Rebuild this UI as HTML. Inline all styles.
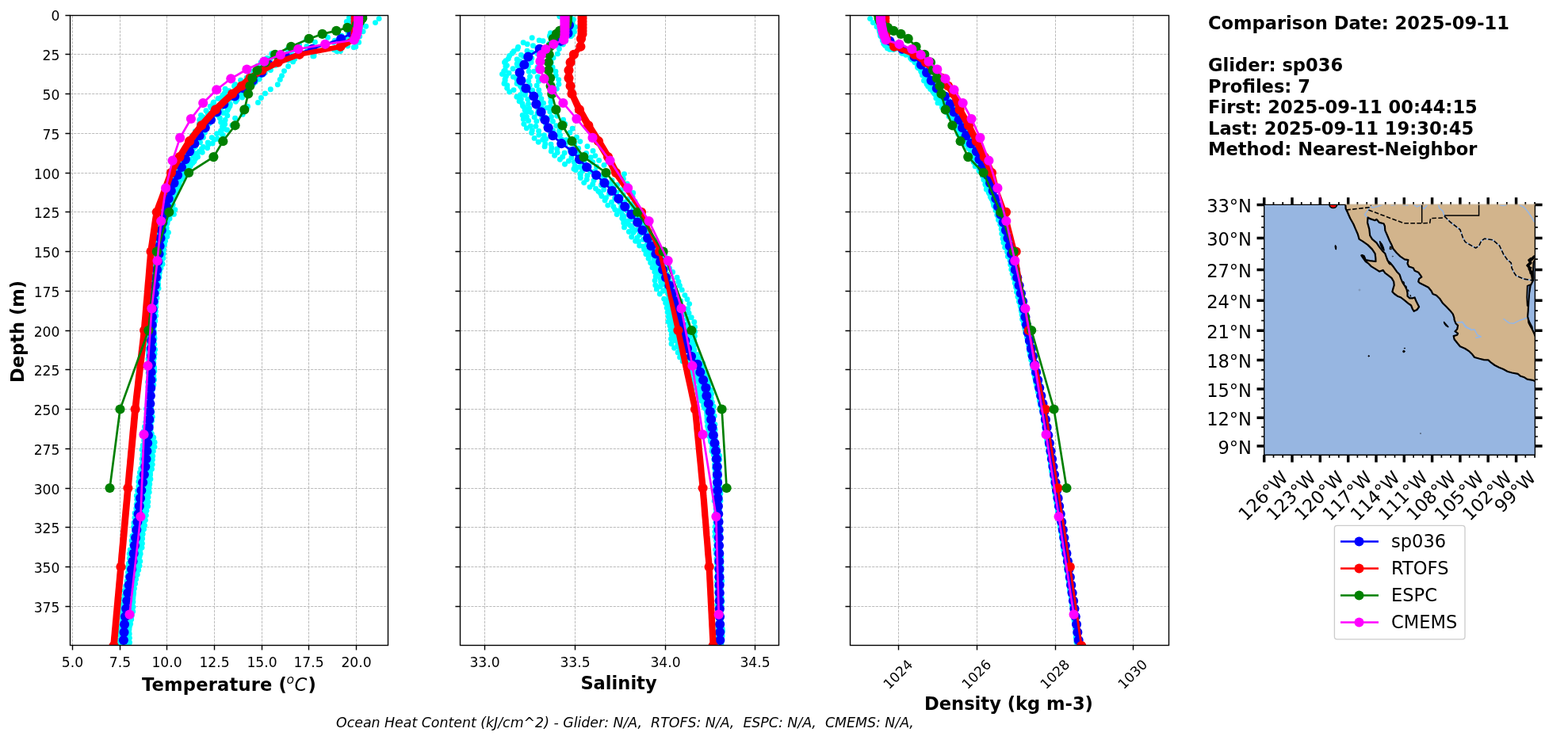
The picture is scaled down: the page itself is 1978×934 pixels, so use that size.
<!DOCTYPE html>
<html lang="en"><head><meta charset="utf-8"><title>Glider / Model Profile Comparison</title>
<style>
html,body{margin:0;padding:0;background:#fff;}
body{width:1978px;height:934px;overflow:hidden;}
svg{display:block;}
text{font-family:"DejaVu Sans","Liberation Sans",sans-serif;fill:#000;}
.tk{font-size:17.15px;}
.lb{font-size:22.57px;font-weight:bold;}
.mp{font-size:22.57px;}
.lg{font-size:22.57px;}
.it{font-size:17.36px;font-style:italic;white-space:pre;}
</style></head><body>
<svg width="1978" height="934" viewBox="0 0 1978 934">
<rect width="1978" height="934" fill="#fff"/>
<clipPath id="c0"><rect x="88.5" y="19.5" width="401.0" height="795.0"/></clipPath>
<path d="M88.5 68.5H489.5M88.5 118.5H489.5M88.5 168.5H489.5M88.5 218.5H489.5M88.5 267.5H489.5M88.5 317.5H489.5M88.5 367.5H489.5M88.5 417.5H489.5M88.5 466.5H489.5M88.5 516.5H489.5M88.5 566.5H489.5M88.5 616.5H489.5M88.5 665.5H489.5M88.5 715.5H489.5M88.5 765.5H489.5M91.5 814.5V19.5M151.5 814.5V19.5M210.5 814.5V19.5M270.5 814.5V19.5M330.5 814.5V19.5M389.5 814.5V19.5M449.5 814.5V19.5" stroke="#b0b0b0" stroke-width="0.87" stroke-dasharray="3.21 1.39" fill="none"/>
<g clip-path="url(#c0)">
<g fill="#00ffff"><circle cx="454.1" cy="20.4" r="3.47"/><circle cx="454.2" cy="26.5" r="3.47"/><circle cx="455.8" cy="31.9" r="3.47"/><circle cx="454.6" cy="37.0" r="3.47"/><circle cx="448.1" cy="42.1" r="3.47"/><circle cx="437.6" cy="48.2" r="3.47"/><circle cx="435.1" cy="53.7" r="3.47"/><circle cx="448.8" cy="58.9" r="3.47"/><circle cx="429.4" cy="64.5" r="3.47"/><circle cx="394.9" cy="70.9" r="3.47"/><circle cx="363.5" cy="76.0" r="3.47"/><circle cx="347.4" cy="82.4" r="3.47"/><circle cx="341.4" cy="88.6" r="3.47"/><circle cx="331.9" cy="94.0" r="3.47"/><circle cx="327.0" cy="100.0" r="3.47"/><circle cx="319.5" cy="105.9" r="3.47"/><circle cx="313.7" cy="111.7" r="3.47"/><circle cx="310.3" cy="117.0" r="3.47"/><circle cx="305.6" cy="123.0" r="3.47"/><circle cx="297.4" cy="128.2" r="3.47"/><circle cx="289.9" cy="134.0" r="3.47"/><circle cx="286.9" cy="139.6" r="3.47"/><circle cx="286.8" cy="145.9" r="3.47"/><circle cx="284.1" cy="151.4" r="3.47"/><circle cx="283.7" cy="156.7" r="3.47"/><circle cx="283.1" cy="162.9" r="3.47"/><circle cx="273.6" cy="168.8" r="3.47"/><circle cx="267.3" cy="173.6" r="3.47"/><circle cx="262.3" cy="179.9" r="3.47"/><circle cx="256.4" cy="185.5" r="3.47"/><circle cx="251.4" cy="191.3" r="3.47"/><circle cx="244.1" cy="197.5" r="3.47"/><circle cx="237.8" cy="202.7" r="3.47"/><circle cx="233.3" cy="208.6" r="3.47"/><circle cx="231.2" cy="214.1" r="3.47"/><circle cx="229.4" cy="219.8" r="3.47"/><circle cx="228.0" cy="225.4" r="3.47"/><circle cx="225.9" cy="231.1" r="3.47"/><circle cx="226.4" cy="236.4" r="3.47"/><circle cx="222.0" cy="241.9" r="3.47"/><circle cx="218.1" cy="247.4" r="3.47"/><circle cx="217.6" cy="253.2" r="3.47"/><circle cx="218.1" cy="258.5" r="3.47"/><circle cx="220.8" cy="264.6" r="3.47"/><circle cx="219.4" cy="270.4" r="3.47"/><circle cx="214.0" cy="275.9" r="3.47"/><circle cx="211.0" cy="281.9" r="3.47"/><circle cx="210.2" cy="287.8" r="3.47"/><circle cx="212.4" cy="293.4" r="3.47"/><circle cx="210.8" cy="298.7" r="3.47"/><circle cx="208.5" cy="304.3" r="3.47"/><circle cx="203.5" cy="310.1" r="3.47"/><circle cx="203.5" cy="315.9" r="3.47"/><circle cx="203.3" cy="321.0" r="3.47"/><circle cx="203.4" cy="327.7" r="3.47"/><circle cx="205.1" cy="333.4" r="3.47"/><circle cx="202.9" cy="338.5" r="3.47"/><circle cx="199.6" cy="344.4" r="3.47"/><circle cx="200.9" cy="350.0" r="3.47"/><circle cx="197.3" cy="354.9" r="3.47"/><circle cx="196.4" cy="361.2" r="3.47"/><circle cx="195.6" cy="366.8" r="3.47"/><circle cx="196.7" cy="372.0" r="3.47"/><circle cx="194.3" cy="377.9" r="3.47"/><circle cx="196.1" cy="383.3" r="3.47"/><circle cx="194.6" cy="389.0" r="3.47"/><circle cx="195.3" cy="394.4" r="3.47"/><circle cx="194.3" cy="400.3" r="3.47"/><circle cx="195.3" cy="405.8" r="3.47"/><circle cx="193.6" cy="411.5" r="3.47"/><circle cx="192.2" cy="417.6" r="3.47"/><circle cx="192.7" cy="423.4" r="3.47"/><circle cx="191.7" cy="429.1" r="3.47"/><circle cx="192.1" cy="434.8" r="3.47"/><circle cx="193.1" cy="440.1" r="3.47"/><circle cx="194.1" cy="446.0" r="3.47"/><circle cx="194.4" cy="451.7" r="3.47"/><circle cx="193.8" cy="457.5" r="3.47"/><circle cx="194.6" cy="463.8" r="3.47"/><circle cx="194.8" cy="468.6" r="3.47"/><circle cx="193.8" cy="474.3" r="3.47"/><circle cx="194.5" cy="479.5" r="3.47"/><circle cx="193.8" cy="485.8" r="3.47"/><circle cx="192.0" cy="492.1" r="3.47"/><circle cx="189.4" cy="496.4" r="3.47"/><circle cx="190.4" cy="502.2" r="3.47"/><circle cx="190.1" cy="508.0" r="3.47"/><circle cx="190.1" cy="514.0" r="3.47"/><circle cx="190.5" cy="519.4" r="3.47"/><circle cx="190.1" cy="525.0" r="3.47"/><circle cx="189.8" cy="530.1" r="3.47"/><circle cx="189.3" cy="536.6" r="3.47"/><circle cx="189.8" cy="541.4" r="3.47"/><circle cx="191.3" cy="547.5" r="3.47"/><circle cx="193.7" cy="552.2" r="3.47"/><circle cx="195.1" cy="558.2" r="3.47"/><circle cx="195.0" cy="564.1" r="3.47"/><circle cx="193.3" cy="569.4" r="3.47"/><circle cx="192.7" cy="575.6" r="3.47"/><circle cx="190.9" cy="581.8" r="3.47"/><circle cx="189.5" cy="588.0" r="3.47"/><circle cx="189.2" cy="593.3" r="3.47"/><circle cx="189.5" cy="599.3" r="3.47"/><circle cx="189.9" cy="604.8" r="3.47"/><circle cx="188.8" cy="610.9" r="3.47"/><circle cx="188.1" cy="615.8" r="3.47"/><circle cx="188.2" cy="621.3" r="3.47"/><circle cx="187.0" cy="627.6" r="3.47"/><circle cx="186.8" cy="633.5" r="3.47"/><circle cx="186.5" cy="639.0" r="3.47"/><circle cx="184.9" cy="644.6" r="3.47"/><circle cx="184.3" cy="650.6" r="3.47"/><circle cx="183.4" cy="656.6" r="3.47"/><circle cx="182.5" cy="663.1" r="3.47"/><circle cx="181.5" cy="668.0" r="3.47"/><circle cx="180.1" cy="674.0" r="3.47"/><circle cx="179.6" cy="679.7" r="3.47"/><circle cx="179.4" cy="685.9" r="3.47"/><circle cx="179.0" cy="691.2" r="3.47"/><circle cx="175.9" cy="697.0" r="3.47"/><circle cx="175.9" cy="702.1" r="3.47"/><circle cx="176.8" cy="708.5" r="3.47"/><circle cx="176.0" cy="714.2" r="3.47"/><circle cx="174.7" cy="719.6" r="3.47"/><circle cx="173.2" cy="725.2" r="3.47"/><circle cx="171.5" cy="731.0" r="3.47"/><circle cx="170.5" cy="736.7" r="3.47"/><circle cx="169.3" cy="743.0" r="3.47"/><circle cx="168.5" cy="748.4" r="3.47"/><circle cx="167.8" cy="753.8" r="3.47"/><circle cx="167.9" cy="759.7" r="3.47"/><circle cx="168.0" cy="766.1" r="3.47"/><circle cx="167.7" cy="771.8" r="3.47"/><circle cx="166.3" cy="776.7" r="3.47"/><circle cx="165.7" cy="781.8" r="3.47"/><circle cx="164.6" cy="787.6" r="3.47"/><circle cx="162.4" cy="793.9" r="3.47"/><circle cx="163.2" cy="799.9" r="3.47"/><circle cx="163.4" cy="805.2" r="3.47"/><circle cx="163.5" cy="810.9" r="3.47"/><circle cx="445.2" cy="23.2" r="3.47"/><circle cx="445.3" cy="28.8" r="3.47"/><circle cx="440.5" cy="34.1" r="3.47"/><circle cx="441.4" cy="40.1" r="3.47"/><circle cx="431.2" cy="45.8" r="3.47"/><circle cx="428.7" cy="51.5" r="3.47"/><circle cx="438.7" cy="58.0" r="3.47"/><circle cx="421.4" cy="62.8" r="3.47"/><circle cx="395.7" cy="68.6" r="3.47"/><circle cx="371.7" cy="74.5" r="3.47"/><circle cx="350.8" cy="80.3" r="3.47"/><circle cx="341.0" cy="86.2" r="3.47"/><circle cx="334.2" cy="91.9" r="3.47"/><circle cx="327.4" cy="97.1" r="3.47"/><circle cx="322.2" cy="103.4" r="3.47"/><circle cx="314.6" cy="109.0" r="3.47"/><circle cx="311.5" cy="114.6" r="3.47"/><circle cx="305.4" cy="119.7" r="3.47"/><circle cx="299.0" cy="125.8" r="3.47"/><circle cx="290.4" cy="131.4" r="3.47"/><circle cx="288.2" cy="136.9" r="3.47"/><circle cx="281.7" cy="142.5" r="3.47"/><circle cx="277.4" cy="148.9" r="3.47"/><circle cx="278.7" cy="154.3" r="3.47"/><circle cx="280.5" cy="159.9" r="3.47"/><circle cx="278.5" cy="165.2" r="3.47"/><circle cx="281.2" cy="170.7" r="3.47"/><circle cx="270.3" cy="176.2" r="3.47"/><circle cx="263.0" cy="182.2" r="3.47"/><circle cx="254.2" cy="188.2" r="3.47"/><circle cx="248.7" cy="193.6" r="3.47"/><circle cx="246.4" cy="200.4" r="3.47"/><circle cx="243.0" cy="205.8" r="3.47"/><circle cx="237.3" cy="211.6" r="3.47"/><circle cx="236.2" cy="217.0" r="3.47"/><circle cx="230.9" cy="222.9" r="3.47"/><circle cx="225.7" cy="228.5" r="3.47"/><circle cx="220.7" cy="234.7" r="3.47"/><circle cx="220.1" cy="240.1" r="3.47"/><circle cx="218.1" cy="246.2" r="3.47"/><circle cx="212.6" cy="251.5" r="3.47"/><circle cx="209.0" cy="257.4" r="3.47"/><circle cx="209.1" cy="263.3" r="3.47"/><circle cx="213.1" cy="268.8" r="3.47"/><circle cx="211.7" cy="273.5" r="3.47"/><circle cx="211.2" cy="279.2" r="3.47"/><circle cx="208.3" cy="285.4" r="3.47"/><circle cx="207.6" cy="291.3" r="3.47"/><circle cx="208.5" cy="296.7" r="3.47"/><circle cx="205.3" cy="302.1" r="3.47"/><circle cx="206.6" cy="307.4" r="3.47"/><circle cx="205.6" cy="313.9" r="3.47"/><circle cx="202.0" cy="319.5" r="3.47"/><circle cx="203.1" cy="325.7" r="3.47"/><circle cx="200.3" cy="331.1" r="3.47"/><circle cx="200.6" cy="336.1" r="3.47"/><circle cx="200.9" cy="341.7" r="3.47"/><circle cx="200.4" cy="347.0" r="3.47"/><circle cx="199.6" cy="353.7" r="3.47"/><circle cx="199.6" cy="359.0" r="3.47"/><circle cx="200.0" cy="364.0" r="3.47"/><circle cx="198.0" cy="369.8" r="3.47"/><circle cx="198.0" cy="376.0" r="3.47"/><circle cx="196.2" cy="382.3" r="3.47"/><circle cx="196.7" cy="387.2" r="3.47"/><circle cx="196.4" cy="392.9" r="3.47"/><circle cx="193.9" cy="398.6" r="3.47"/><circle cx="193.4" cy="404.3" r="3.47"/><circle cx="193.4" cy="410.0" r="3.47"/><circle cx="192.8" cy="416.1" r="3.47"/><circle cx="194.2" cy="422.0" r="3.47"/><circle cx="195.0" cy="426.9" r="3.47"/><circle cx="193.9" cy="432.7" r="3.47"/><circle cx="193.5" cy="438.3" r="3.47"/><circle cx="193.9" cy="444.5" r="3.47"/><circle cx="192.5" cy="450.1" r="3.47"/><circle cx="191.8" cy="455.3" r="3.47"/><circle cx="192.4" cy="461.2" r="3.47"/><circle cx="194.2" cy="466.2" r="3.47"/><circle cx="193.5" cy="472.0" r="3.47"/><circle cx="193.9" cy="477.8" r="3.47"/><circle cx="192.2" cy="483.4" r="3.47"/><circle cx="191.9" cy="489.7" r="3.47"/><circle cx="189.5" cy="494.8" r="3.47"/><circle cx="188.3" cy="501.2" r="3.47"/><circle cx="188.9" cy="506.5" r="3.47"/><circle cx="188.8" cy="512.8" r="3.47"/><circle cx="190.5" cy="518.1" r="3.47"/><circle cx="189.5" cy="523.9" r="3.47"/><circle cx="189.2" cy="529.4" r="3.47"/><circle cx="189.5" cy="535.3" r="3.47"/><circle cx="188.5" cy="540.6" r="3.47"/><circle cx="189.3" cy="546.6" r="3.47"/><circle cx="189.0" cy="552.0" r="3.47"/><circle cx="190.5" cy="557.6" r="3.47"/><circle cx="191.1" cy="563.2" r="3.47"/><circle cx="190.8" cy="568.9" r="3.47"/><circle cx="191.9" cy="574.8" r="3.47"/><circle cx="192.3" cy="580.3" r="3.47"/><circle cx="192.2" cy="586.3" r="3.47"/><circle cx="191.5" cy="592.0" r="3.47"/><circle cx="189.3" cy="597.3" r="3.47"/><circle cx="188.5" cy="603.0" r="3.47"/><circle cx="186.7" cy="609.0" r="3.47"/><circle cx="184.6" cy="614.5" r="3.47"/><circle cx="184.5" cy="620.0" r="3.47"/><circle cx="184.0" cy="625.7" r="3.47"/><circle cx="183.1" cy="631.6" r="3.47"/><circle cx="183.3" cy="637.5" r="3.47"/><circle cx="180.8" cy="642.9" r="3.47"/><circle cx="179.8" cy="648.6" r="3.47"/><circle cx="178.8" cy="653.8" r="3.47"/><circle cx="179.8" cy="660.0" r="3.47"/><circle cx="178.3" cy="665.6" r="3.47"/><circle cx="177.7" cy="670.2" r="3.47"/><circle cx="177.2" cy="676.1" r="3.47"/><circle cx="177.8" cy="681.8" r="3.47"/><circle cx="176.1" cy="688.0" r="3.47"/><circle cx="176.3" cy="693.9" r="3.47"/><circle cx="177.2" cy="699.1" r="3.47"/><circle cx="174.8" cy="705.1" r="3.47"/><circle cx="172.4" cy="710.8" r="3.47"/><circle cx="172.9" cy="716.2" r="3.47"/><circle cx="170.6" cy="722.4" r="3.47"/><circle cx="170.6" cy="728.3" r="3.47"/><circle cx="169.2" cy="733.9" r="3.47"/><circle cx="167.9" cy="739.6" r="3.47"/><circle cx="166.8" cy="744.3" r="3.47"/><circle cx="168.2" cy="751.2" r="3.47"/><circle cx="167.8" cy="755.6" r="3.47"/><circle cx="166.9" cy="762.1" r="3.47"/><circle cx="166.7" cy="767.7" r="3.47"/><circle cx="165.3" cy="773.8" r="3.47"/><circle cx="165.0" cy="779.1" r="3.47"/><circle cx="164.0" cy="785.0" r="3.47"/><circle cx="163.6" cy="790.1" r="3.47"/><circle cx="162.7" cy="795.3" r="3.47"/><circle cx="162.0" cy="801.2" r="3.47"/><circle cx="161.4" cy="807.3" r="3.47"/><circle cx="159.6" cy="813.0" r="3.47"/><circle cx="442.1" cy="18.8" r="3.47"/><circle cx="441.9" cy="25.4" r="3.47"/><circle cx="442.7" cy="30.5" r="3.47"/><circle cx="446.5" cy="36.8" r="3.47"/><circle cx="439.7" cy="42.2" r="3.47"/><circle cx="430.8" cy="48.3" r="3.47"/><circle cx="421.0" cy="53.5" r="3.47"/><circle cx="410.2" cy="59.2" r="3.47"/><circle cx="392.5" cy="64.8" r="3.47"/><circle cx="369.3" cy="71.0" r="3.47"/><circle cx="349.9" cy="76.2" r="3.47"/><circle cx="341.6" cy="81.7" r="3.47"/><circle cx="335.2" cy="87.5" r="3.47"/><circle cx="327.4" cy="93.4" r="3.47"/><circle cx="318.4" cy="98.8" r="3.47"/><circle cx="311.0" cy="104.9" r="3.47"/><circle cx="306.1" cy="110.9" r="3.47"/><circle cx="300.2" cy="116.2" r="3.47"/><circle cx="294.2" cy="122.9" r="3.47"/><circle cx="285.3" cy="128.4" r="3.47"/><circle cx="280.0" cy="133.6" r="3.47"/><circle cx="275.8" cy="139.9" r="3.47"/><circle cx="273.6" cy="145.1" r="3.47"/><circle cx="267.0" cy="150.0" r="3.47"/><circle cx="263.9" cy="156.0" r="3.47"/><circle cx="260.5" cy="161.6" r="3.47"/><circle cx="258.4" cy="167.2" r="3.47"/><circle cx="256.4" cy="173.4" r="3.47"/><circle cx="252.6" cy="179.5" r="3.47"/><circle cx="246.3" cy="184.9" r="3.47"/><circle cx="243.0" cy="190.3" r="3.47"/><circle cx="244.2" cy="195.2" r="3.47"/><circle cx="238.7" cy="201.3" r="3.47"/><circle cx="237.9" cy="207.1" r="3.47"/><circle cx="238.5" cy="212.7" r="3.47"/><circle cx="232.9" cy="218.9" r="3.47"/><circle cx="229.4" cy="224.7" r="3.47"/><circle cx="226.2" cy="229.7" r="3.47"/><circle cx="222.2" cy="235.3" r="3.47"/><circle cx="223.7" cy="241.3" r="3.47"/><circle cx="220.6" cy="247.3" r="3.47"/><circle cx="216.6" cy="252.3" r="3.47"/><circle cx="216.1" cy="257.9" r="3.47"/><circle cx="212.0" cy="263.5" r="3.47"/><circle cx="211.8" cy="269.0" r="3.47"/><circle cx="213.1" cy="274.0" r="3.47"/><circle cx="210.8" cy="279.2" r="3.47"/><circle cx="207.6" cy="285.0" r="3.47"/><circle cx="206.8" cy="291.5" r="3.47"/><circle cx="207.7" cy="297.4" r="3.47"/><circle cx="206.2" cy="303.1" r="3.47"/><circle cx="207.6" cy="308.7" r="3.47"/><circle cx="206.5" cy="314.7" r="3.47"/><circle cx="206.3" cy="320.3" r="3.47"/><circle cx="205.9" cy="326.0" r="3.47"/><circle cx="204.2" cy="331.5" r="3.47"/><circle cx="200.8" cy="337.8" r="3.47"/><circle cx="201.3" cy="344.0" r="3.47"/><circle cx="196.6" cy="348.8" r="3.47"/><circle cx="195.1" cy="354.6" r="3.47"/><circle cx="195.5" cy="360.7" r="3.47"/><circle cx="195.4" cy="366.5" r="3.47"/><circle cx="196.4" cy="372.4" r="3.47"/><circle cx="195.4" cy="378.4" r="3.47"/><circle cx="196.2" cy="383.4" r="3.47"/><circle cx="195.5" cy="388.3" r="3.47"/><circle cx="194.0" cy="394.5" r="3.47"/><circle cx="193.5" cy="400.5" r="3.47"/><circle cx="191.7" cy="407.7" r="3.47"/><circle cx="194.2" cy="412.5" r="3.47"/><circle cx="194.2" cy="417.8" r="3.47"/><circle cx="194.3" cy="423.5" r="3.47"/><circle cx="194.0" cy="429.4" r="3.47"/><circle cx="194.8" cy="434.4" r="3.47"/><circle cx="195.6" cy="441.3" r="3.47"/><circle cx="195.0" cy="446.7" r="3.47"/><circle cx="194.0" cy="452.5" r="3.47"/><circle cx="193.5" cy="457.3" r="3.47"/><circle cx="192.9" cy="463.3" r="3.47"/><circle cx="191.4" cy="469.7" r="3.47"/><circle cx="193.2" cy="475.3" r="3.47"/><circle cx="192.6" cy="481.2" r="3.47"/><circle cx="191.1" cy="486.8" r="3.47"/><circle cx="190.9" cy="492.3" r="3.47"/><circle cx="191.4" cy="498.3" r="3.47"/><circle cx="190.5" cy="503.4" r="3.47"/><circle cx="191.1" cy="509.2" r="3.47"/><circle cx="190.6" cy="513.8" r="3.47"/><circle cx="191.8" cy="520.2" r="3.47"/><circle cx="192.3" cy="526.1" r="3.47"/><circle cx="191.4" cy="531.3" r="3.47"/><circle cx="190.2" cy="536.8" r="3.47"/><circle cx="190.0" cy="542.1" r="3.47"/><circle cx="190.1" cy="549.1" r="3.47"/><circle cx="189.0" cy="555.0" r="3.47"/><circle cx="189.6" cy="559.7" r="3.47"/><circle cx="188.8" cy="565.8" r="3.47"/><circle cx="188.4" cy="571.2" r="3.47"/><circle cx="187.7" cy="576.9" r="3.47"/><circle cx="185.5" cy="582.2" r="3.47"/><circle cx="185.6" cy="588.7" r="3.47"/><circle cx="185.5" cy="594.4" r="3.47"/><circle cx="184.1" cy="600.6" r="3.47"/><circle cx="181.3" cy="605.4" r="3.47"/><circle cx="182.1" cy="611.5" r="3.47"/><circle cx="182.0" cy="617.2" r="3.47"/><circle cx="180.8" cy="622.5" r="3.47"/><circle cx="180.2" cy="627.9" r="3.47"/><circle cx="179.6" cy="633.7" r="3.47"/><circle cx="179.1" cy="639.9" r="3.47"/><circle cx="178.4" cy="645.4" r="3.47"/><circle cx="178.3" cy="650.4" r="3.47"/><circle cx="177.1" cy="656.0" r="3.47"/><circle cx="177.5" cy="661.9" r="3.47"/><circle cx="176.4" cy="667.9" r="3.47"/><circle cx="175.8" cy="673.7" r="3.47"/><circle cx="174.8" cy="680.1" r="3.47"/><circle cx="175.0" cy="684.8" r="3.47"/><circle cx="173.1" cy="690.5" r="3.47"/><circle cx="171.1" cy="696.6" r="3.47"/><circle cx="171.3" cy="701.7" r="3.47"/><circle cx="170.1" cy="707.9" r="3.47"/><circle cx="168.7" cy="712.8" r="3.47"/><circle cx="167.3" cy="718.6" r="3.47"/><circle cx="164.9" cy="724.3" r="3.47"/><circle cx="164.5" cy="729.5" r="3.47"/><circle cx="165.1" cy="735.2" r="3.47"/><circle cx="164.6" cy="740.7" r="3.47"/><circle cx="165.1" cy="745.9" r="3.47"/><circle cx="163.8" cy="751.5" r="3.47"/><circle cx="163.7" cy="756.9" r="3.47"/><circle cx="163.5" cy="762.8" r="3.47"/><circle cx="162.2" cy="768.0" r="3.47"/><circle cx="160.6" cy="773.6" r="3.47"/><circle cx="159.4" cy="780.1" r="3.47"/><circle cx="158.0" cy="785.7" r="3.47"/><circle cx="157.4" cy="791.4" r="3.47"/><circle cx="158.9" cy="797.2" r="3.47"/><circle cx="157.6" cy="803.4" r="3.47"/><circle cx="159.1" cy="807.9" r="3.47"/><circle cx="440.5" cy="22.3" r="3.47"/><circle cx="437.3" cy="27.5" r="3.47"/><circle cx="440.8" cy="34.1" r="3.47"/><circle cx="443.2" cy="38.9" r="3.47"/><circle cx="410.1" cy="44.5" r="3.47"/><circle cx="386.4" cy="50.6" r="3.47"/><circle cx="377.5" cy="56.6" r="3.47"/><circle cx="362.7" cy="62.1" r="3.47"/><circle cx="342.8" cy="67.8" r="3.47"/><circle cx="337.0" cy="73.4" r="3.47"/><circle cx="329.3" cy="78.8" r="3.47"/><circle cx="324.6" cy="83.5" r="3.47"/><circle cx="319.5" cy="90.0" r="3.47"/><circle cx="314.4" cy="95.6" r="3.47"/><circle cx="303.6" cy="101.3" r="3.47"/><circle cx="296.6" cy="106.5" r="3.47"/><circle cx="284.1" cy="112.3" r="3.47"/><circle cx="283.1" cy="117.9" r="3.47"/><circle cx="278.8" cy="123.4" r="3.47"/><circle cx="269.6" cy="129.0" r="3.47"/><circle cx="265.3" cy="134.2" r="3.47"/><circle cx="260.0" cy="139.7" r="3.47"/><circle cx="253.5" cy="145.4" r="3.47"/><circle cx="251.8" cy="151.2" r="3.47"/><circle cx="251.4" cy="156.5" r="3.47"/><circle cx="251.5" cy="163.0" r="3.47"/><circle cx="248.1" cy="168.4" r="3.47"/><circle cx="246.9" cy="174.1" r="3.47"/><circle cx="244.9" cy="179.6" r="3.47"/><circle cx="245.4" cy="185.7" r="3.47"/><circle cx="237.7" cy="191.6" r="3.47"/><circle cx="234.8" cy="196.6" r="3.47"/><circle cx="232.2" cy="203.2" r="3.47"/><circle cx="228.3" cy="208.5" r="3.47"/><circle cx="225.3" cy="214.4" r="3.47"/><circle cx="221.0" cy="219.8" r="3.47"/><circle cx="214.8" cy="225.8" r="3.47"/><circle cx="213.8" cy="231.7" r="3.47"/><circle cx="210.5" cy="237.6" r="3.47"/><circle cx="211.5" cy="243.4" r="3.47"/><circle cx="210.4" cy="249.2" r="3.47"/><circle cx="210.5" cy="255.1" r="3.47"/><circle cx="207.7" cy="261.0" r="3.47"/><circle cx="205.2" cy="266.5" r="3.47"/><circle cx="209.3" cy="271.9" r="3.47"/><circle cx="207.8" cy="278.4" r="3.47"/><circle cx="204.5" cy="283.4" r="3.47"/><circle cx="203.4" cy="289.2" r="3.47"/><circle cx="200.4" cy="295.1" r="3.47"/><circle cx="199.2" cy="300.7" r="3.47"/><circle cx="199.4" cy="306.6" r="3.47"/><circle cx="197.8" cy="312.1" r="3.47"/><circle cx="197.2" cy="317.3" r="3.47"/><circle cx="197.6" cy="322.2" r="3.47"/><circle cx="195.2" cy="328.9" r="3.47"/><circle cx="195.6" cy="334.2" r="3.47"/><circle cx="195.4" cy="340.1" r="3.47"/><circle cx="192.8" cy="345.6" r="3.47"/><circle cx="193.0" cy="350.5" r="3.47"/><circle cx="193.9" cy="356.5" r="3.47"/><circle cx="192.9" cy="362.5" r="3.47"/><circle cx="192.3" cy="368.5" r="3.47"/><circle cx="191.5" cy="373.9" r="3.47"/><circle cx="192.4" cy="378.7" r="3.47"/><circle cx="190.4" cy="384.8" r="3.47"/><circle cx="191.7" cy="390.1" r="3.47"/><circle cx="191.4" cy="396.8" r="3.47"/><circle cx="192.8" cy="402.9" r="3.47"/><circle cx="191.6" cy="407.7" r="3.47"/><circle cx="191.0" cy="413.5" r="3.47"/><circle cx="190.2" cy="418.4" r="3.47"/><circle cx="189.0" cy="424.6" r="3.47"/><circle cx="188.3" cy="429.8" r="3.47"/><circle cx="188.2" cy="436.1" r="3.47"/><circle cx="186.6" cy="441.5" r="3.47"/><circle cx="188.2" cy="447.7" r="3.47"/><circle cx="187.0" cy="453.1" r="3.47"/><circle cx="186.3" cy="458.9" r="3.47"/><circle cx="186.1" cy="464.8" r="3.47"/><circle cx="187.2" cy="470.8" r="3.47"/><circle cx="188.2" cy="476.5" r="3.47"/><circle cx="186.6" cy="482.1" r="3.47"/><circle cx="187.0" cy="488.2" r="3.47"/><circle cx="188.6" cy="493.7" r="3.47"/><circle cx="188.6" cy="499.0" r="3.47"/><circle cx="187.2" cy="504.1" r="3.47"/><circle cx="186.2" cy="510.4" r="3.47"/><circle cx="184.6" cy="516.1" r="3.47"/><circle cx="185.1" cy="522.1" r="3.47"/><circle cx="184.8" cy="527.6" r="3.47"/><circle cx="184.1" cy="532.6" r="3.47"/><circle cx="182.5" cy="538.8" r="3.47"/><circle cx="181.1" cy="544.7" r="3.47"/><circle cx="179.9" cy="550.3" r="3.47"/><circle cx="181.7" cy="556.0" r="3.47"/><circle cx="180.2" cy="562.1" r="3.47"/><circle cx="179.1" cy="567.5" r="3.47"/><circle cx="180.0" cy="573.9" r="3.47"/><circle cx="179.2" cy="579.3" r="3.47"/><circle cx="179.3" cy="584.9" r="3.47"/><circle cx="177.8" cy="591.5" r="3.47"/><circle cx="176.4" cy="596.5" r="3.47"/><circle cx="175.5" cy="602.4" r="3.47"/><circle cx="174.8" cy="607.9" r="3.47"/><circle cx="174.9" cy="613.9" r="3.47"/><circle cx="173.4" cy="619.5" r="3.47"/><circle cx="172.3" cy="625.7" r="3.47"/><circle cx="172.7" cy="630.6" r="3.47"/><circle cx="172.3" cy="636.5" r="3.47"/><circle cx="171.8" cy="641.7" r="3.47"/><circle cx="170.1" cy="647.8" r="3.47"/><circle cx="169.9" cy="653.5" r="3.47"/><circle cx="168.9" cy="660.0" r="3.47"/><circle cx="168.6" cy="665.0" r="3.47"/><circle cx="169.4" cy="670.7" r="3.47"/><circle cx="167.0" cy="676.4" r="3.47"/><circle cx="166.2" cy="682.4" r="3.47"/><circle cx="166.5" cy="687.8" r="3.47"/><circle cx="164.2" cy="694.0" r="3.47"/><circle cx="163.3" cy="699.0" r="3.47"/><circle cx="163.3" cy="704.8" r="3.47"/><circle cx="162.4" cy="711.1" r="3.47"/><circle cx="161.2" cy="716.2" r="3.47"/><circle cx="161.5" cy="722.4" r="3.47"/><circle cx="160.9" cy="727.6" r="3.47"/><circle cx="160.1" cy="733.8" r="3.47"/><circle cx="158.6" cy="739.7" r="3.47"/><circle cx="157.3" cy="745.5" r="3.47"/><circle cx="157.3" cy="751.1" r="3.47"/><circle cx="155.5" cy="756.4" r="3.47"/><circle cx="155.2" cy="762.6" r="3.47"/><circle cx="154.0" cy="767.8" r="3.47"/><circle cx="154.1" cy="773.7" r="3.47"/><circle cx="153.4" cy="779.3" r="3.47"/><circle cx="154.3" cy="785.0" r="3.47"/><circle cx="152.7" cy="790.3" r="3.47"/><circle cx="151.8" cy="795.7" r="3.47"/><circle cx="151.0" cy="801.3" r="3.47"/><circle cx="150.5" cy="807.9" r="3.47"/><circle cx="151.4" cy="813.0" r="3.47"/><circle cx="444.2" cy="24.1" r="3.47"/><circle cx="442.4" cy="29.4" r="3.47"/><circle cx="443.7" cy="35.6" r="3.47"/><circle cx="439.0" cy="40.5" r="3.47"/><circle cx="413.5" cy="47.2" r="3.47"/><circle cx="397.4" cy="53.1" r="3.47"/><circle cx="386.9" cy="58.4" r="3.47"/><circle cx="368.9" cy="63.4" r="3.47"/><circle cx="350.2" cy="68.6" r="3.47"/><circle cx="340.9" cy="74.2" r="3.47"/><circle cx="331.9" cy="80.8" r="3.47"/><circle cx="330.1" cy="85.8" r="3.47"/><circle cx="322.0" cy="92.2" r="3.47"/><circle cx="311.1" cy="98.1" r="3.47"/><circle cx="306.0" cy="104.0" r="3.47"/><circle cx="295.5" cy="108.8" r="3.47"/><circle cx="288.7" cy="114.6" r="3.47"/><circle cx="281.3" cy="120.1" r="3.47"/><circle cx="275.0" cy="124.4" r="3.47"/><circle cx="268.9" cy="130.3" r="3.47"/><circle cx="266.7" cy="136.3" r="3.47"/><circle cx="262.2" cy="142.9" r="3.47"/><circle cx="256.0" cy="147.8" r="3.47"/><circle cx="255.4" cy="154.3" r="3.47"/><circle cx="252.8" cy="159.9" r="3.47"/><circle cx="246.4" cy="165.8" r="3.47"/><circle cx="242.6" cy="171.0" r="3.47"/><circle cx="238.7" cy="176.8" r="3.47"/><circle cx="238.0" cy="181.8" r="3.47"/><circle cx="233.5" cy="188.6" r="3.47"/><circle cx="233.1" cy="193.5" r="3.47"/><circle cx="231.1" cy="199.9" r="3.47"/><circle cx="230.8" cy="205.8" r="3.47"/><circle cx="227.1" cy="210.7" r="3.47"/><circle cx="223.6" cy="216.7" r="3.47"/><circle cx="221.3" cy="222.4" r="3.47"/><circle cx="215.4" cy="228.4" r="3.47"/><circle cx="213.3" cy="234.0" r="3.47"/><circle cx="212.6" cy="240.2" r="3.47"/><circle cx="212.2" cy="246.8" r="3.47"/><circle cx="211.5" cy="253.3" r="3.47"/><circle cx="209.1" cy="258.7" r="3.47"/><circle cx="208.2" cy="264.7" r="3.47"/><circle cx="210.3" cy="270.3" r="3.47"/><circle cx="207.5" cy="275.6" r="3.47"/><circle cx="203.7" cy="281.5" r="3.47"/><circle cx="200.1" cy="287.5" r="3.47"/><circle cx="200.1" cy="293.0" r="3.47"/><circle cx="197.3" cy="298.9" r="3.47"/><circle cx="196.2" cy="304.9" r="3.47"/><circle cx="198.8" cy="309.8" r="3.47"/><circle cx="198.6" cy="316.4" r="3.47"/><circle cx="198.8" cy="322.2" r="3.47"/><circle cx="196.0" cy="327.9" r="3.47"/><circle cx="193.2" cy="334.2" r="3.47"/><circle cx="190.8" cy="339.9" r="3.47"/><circle cx="192.5" cy="345.2" r="3.47"/><circle cx="189.8" cy="351.6" r="3.47"/><circle cx="189.7" cy="357.5" r="3.47"/><circle cx="188.6" cy="362.7" r="3.47"/><circle cx="188.9" cy="368.0" r="3.47"/><circle cx="188.9" cy="374.6" r="3.47"/><circle cx="190.7" cy="379.9" r="3.47"/><circle cx="189.5" cy="385.0" r="3.47"/><circle cx="189.5" cy="390.9" r="3.47"/><circle cx="190.3" cy="396.2" r="3.47"/><circle cx="189.2" cy="402.1" r="3.47"/><circle cx="190.2" cy="406.8" r="3.47"/><circle cx="189.7" cy="412.3" r="3.47"/><circle cx="190.0" cy="417.8" r="3.47"/><circle cx="188.5" cy="423.9" r="3.47"/><circle cx="188.9" cy="429.2" r="3.47"/><circle cx="187.9" cy="434.5" r="3.47"/><circle cx="187.2" cy="440.3" r="3.47"/><circle cx="187.4" cy="446.7" r="3.47"/><circle cx="188.7" cy="451.7" r="3.47"/><circle cx="188.6" cy="458.1" r="3.47"/><circle cx="189.0" cy="464.0" r="3.47"/><circle cx="188.9" cy="469.7" r="3.47"/><circle cx="187.9" cy="475.5" r="3.47"/><circle cx="189.0" cy="480.5" r="3.47"/><circle cx="188.3" cy="486.9" r="3.47"/><circle cx="188.5" cy="492.8" r="3.47"/><circle cx="188.5" cy="497.9" r="3.47"/><circle cx="189.3" cy="504.0" r="3.47"/><circle cx="187.3" cy="509.4" r="3.47"/><circle cx="187.1" cy="515.4" r="3.47"/><circle cx="186.4" cy="521.4" r="3.47"/><circle cx="186.0" cy="527.6" r="3.47"/><circle cx="184.0" cy="532.6" r="3.47"/><circle cx="184.4" cy="538.8" r="3.47"/><circle cx="184.3" cy="544.4" r="3.47"/><circle cx="185.2" cy="550.2" r="3.47"/><circle cx="184.9" cy="556.0" r="3.47"/><circle cx="183.6" cy="560.7" r="3.47"/><circle cx="184.0" cy="566.9" r="3.47"/><circle cx="183.9" cy="572.8" r="3.47"/><circle cx="183.8" cy="578.4" r="3.47"/><circle cx="183.7" cy="584.7" r="3.47"/><circle cx="181.9" cy="589.9" r="3.47"/><circle cx="181.4" cy="595.3" r="3.47"/><circle cx="180.6" cy="600.9" r="3.47"/><circle cx="180.1" cy="607.0" r="3.47"/><circle cx="180.0" cy="612.5" r="3.47"/><circle cx="179.7" cy="618.3" r="3.47"/><circle cx="177.0" cy="624.7" r="3.47"/><circle cx="176.1" cy="629.9" r="3.47"/><circle cx="174.8" cy="636.0" r="3.47"/><circle cx="175.6" cy="640.6" r="3.47"/><circle cx="173.2" cy="646.6" r="3.47"/><circle cx="172.1" cy="651.9" r="3.47"/><circle cx="172.3" cy="657.1" r="3.47"/><circle cx="172.4" cy="662.8" r="3.47"/><circle cx="171.5" cy="668.6" r="3.47"/><circle cx="171.1" cy="674.2" r="3.47"/><circle cx="169.8" cy="679.5" r="3.47"/><circle cx="170.1" cy="684.7" r="3.47"/><circle cx="169.9" cy="689.9" r="3.47"/><circle cx="168.0" cy="695.6" r="3.47"/><circle cx="166.7" cy="701.8" r="3.47"/><circle cx="167.1" cy="707.9" r="3.47"/><circle cx="166.6" cy="712.7" r="3.47"/><circle cx="166.6" cy="718.5" r="3.47"/><circle cx="163.9" cy="723.6" r="3.47"/><circle cx="164.9" cy="729.8" r="3.47"/><circle cx="162.6" cy="735.9" r="3.47"/><circle cx="161.3" cy="741.4" r="3.47"/><circle cx="160.3" cy="747.9" r="3.47"/><circle cx="159.7" cy="752.9" r="3.47"/><circle cx="158.4" cy="758.2" r="3.47"/><circle cx="158.9" cy="764.5" r="3.47"/><circle cx="157.3" cy="770.1" r="3.47"/><circle cx="156.9" cy="775.9" r="3.47"/><circle cx="157.3" cy="780.7" r="3.47"/><circle cx="155.5" cy="786.7" r="3.47"/><circle cx="154.9" cy="792.5" r="3.47"/><circle cx="154.8" cy="798.1" r="3.47"/><circle cx="153.8" cy="803.6" r="3.47"/><circle cx="152.7" cy="810.1" r="3.47"/><circle cx="443.3" cy="23.1" r="3.47"/><circle cx="441.8" cy="28.8" r="3.47"/><circle cx="442.0" cy="33.9" r="3.47"/><circle cx="441.4" cy="39.8" r="3.47"/><circle cx="430.4" cy="44.9" r="3.47"/><circle cx="422.4" cy="51.2" r="3.47"/><circle cx="412.5" cy="57.7" r="3.47"/><circle cx="388.2" cy="62.7" r="3.47"/><circle cx="365.9" cy="68.2" r="3.47"/><circle cx="350.2" cy="73.9" r="3.47"/><circle cx="337.7" cy="78.7" r="3.47"/><circle cx="334.6" cy="84.7" r="3.47"/><circle cx="328.5" cy="90.0" r="3.47"/><circle cx="324.8" cy="95.6" r="3.47"/><circle cx="318.0" cy="102.0" r="3.47"/><circle cx="314.4" cy="107.3" r="3.47"/><circle cx="304.8" cy="113.4" r="3.47"/><circle cx="298.9" cy="118.9" r="3.47"/><circle cx="291.6" cy="124.3" r="3.47"/><circle cx="283.7" cy="129.8" r="3.47"/><circle cx="279.4" cy="135.7" r="3.47"/><circle cx="274.3" cy="141.8" r="3.47"/><circle cx="267.5" cy="147.6" r="3.47"/><circle cx="262.5" cy="153.1" r="3.47"/><circle cx="259.9" cy="159.5" r="3.47"/><circle cx="256.5" cy="165.1" r="3.47"/><circle cx="252.5" cy="170.4" r="3.47"/><circle cx="249.3" cy="176.0" r="3.47"/><circle cx="244.7" cy="182.0" r="3.47"/><circle cx="238.9" cy="186.8" r="3.47"/><circle cx="238.2" cy="192.5" r="3.47"/><circle cx="232.0" cy="198.4" r="3.47"/><circle cx="230.6" cy="204.1" r="3.47"/><circle cx="230.8" cy="210.1" r="3.47"/><circle cx="228.3" cy="215.5" r="3.47"/><circle cx="223.6" cy="221.8" r="3.47"/><circle cx="220.3" cy="227.2" r="3.47"/><circle cx="217.4" cy="232.4" r="3.47"/><circle cx="214.5" cy="238.6" r="3.47"/><circle cx="215.1" cy="243.7" r="3.47"/><circle cx="208.2" cy="249.2" r="3.47"/><circle cx="208.4" cy="255.4" r="3.47"/><circle cx="208.6" cy="261.4" r="3.47"/><circle cx="209.8" cy="267.3" r="3.47"/><circle cx="209.9" cy="272.7" r="3.47"/><circle cx="211.2" cy="278.0" r="3.47"/><circle cx="206.1" cy="284.2" r="3.47"/><circle cx="204.7" cy="290.3" r="3.47"/><circle cx="204.5" cy="295.9" r="3.47"/><circle cx="204.1" cy="301.1" r="3.47"/><circle cx="202.2" cy="306.7" r="3.47"/><circle cx="201.8" cy="312.8" r="3.47"/><circle cx="201.7" cy="318.7" r="3.47"/><circle cx="202.5" cy="324.5" r="3.47"/><circle cx="201.6" cy="329.4" r="3.47"/><circle cx="201.6" cy="335.2" r="3.47"/><circle cx="200.1" cy="341.3" r="3.47"/><circle cx="199.7" cy="347.1" r="3.47"/><circle cx="198.5" cy="352.9" r="3.47"/><circle cx="199.1" cy="358.0" r="3.47"/><circle cx="196.1" cy="364.4" r="3.47"/><circle cx="195.7" cy="370.0" r="3.47"/><circle cx="193.9" cy="375.7" r="3.47"/><circle cx="196.8" cy="381.2" r="3.47"/><circle cx="194.8" cy="386.8" r="3.47"/><circle cx="195.6" cy="392.5" r="3.47"/><circle cx="196.7" cy="398.6" r="3.47"/><circle cx="195.7" cy="404.8" r="3.47"/><circle cx="194.6" cy="410.8" r="3.47"/><circle cx="193.6" cy="416.6" r="3.47"/><circle cx="193.3" cy="422.0" r="3.47"/><circle cx="192.7" cy="427.3" r="3.47"/><circle cx="189.3" cy="433.1" r="3.47"/><circle cx="189.6" cy="439.1" r="3.47"/><circle cx="189.3" cy="444.6" r="3.47"/><circle cx="190.1" cy="450.4" r="3.47"/><circle cx="189.6" cy="456.3" r="3.47"/><circle cx="190.3" cy="462.1" r="3.47"/><circle cx="191.3" cy="468.1" r="3.47"/><circle cx="193.3" cy="474.1" r="3.47"/><circle cx="191.8" cy="479.7" r="3.47"/><circle cx="191.9" cy="485.4" r="3.47"/><circle cx="192.3" cy="490.9" r="3.47"/><circle cx="190.2" cy="496.3" r="3.47"/><circle cx="187.9" cy="502.4" r="3.47"/><circle cx="187.9" cy="508.0" r="3.47"/><circle cx="187.9" cy="514.1" r="3.47"/><circle cx="189.5" cy="520.3" r="3.47"/><circle cx="188.5" cy="525.2" r="3.47"/><circle cx="188.8" cy="530.2" r="3.47"/><circle cx="187.6" cy="537.1" r="3.47"/><circle cx="189.2" cy="542.6" r="3.47"/><circle cx="189.1" cy="547.9" r="3.47"/><circle cx="189.3" cy="554.4" r="3.47"/><circle cx="189.1" cy="559.9" r="3.47"/><circle cx="188.7" cy="565.8" r="3.47"/><circle cx="188.8" cy="571.4" r="3.47"/><circle cx="187.9" cy="577.1" r="3.47"/><circle cx="187.2" cy="583.0" r="3.47"/><circle cx="187.3" cy="588.5" r="3.47"/><circle cx="187.1" cy="594.0" r="3.47"/><circle cx="186.2" cy="599.3" r="3.47"/><circle cx="184.4" cy="605.6" r="3.47"/><circle cx="185.5" cy="611.5" r="3.47"/><circle cx="185.6" cy="617.3" r="3.47"/><circle cx="183.6" cy="622.7" r="3.47"/><circle cx="181.3" cy="627.5" r="3.47"/><circle cx="181.8" cy="633.5" r="3.47"/><circle cx="179.8" cy="639.1" r="3.47"/><circle cx="179.0" cy="644.7" r="3.47"/><circle cx="177.1" cy="649.6" r="3.47"/><circle cx="177.0" cy="654.8" r="3.47"/><circle cx="176.7" cy="661.0" r="3.47"/><circle cx="174.6" cy="667.0" r="3.47"/><circle cx="173.5" cy="673.4" r="3.47"/><circle cx="173.8" cy="679.5" r="3.47"/><circle cx="172.7" cy="685.9" r="3.47"/><circle cx="171.8" cy="691.4" r="3.47"/><circle cx="170.0" cy="696.8" r="3.47"/><circle cx="170.8" cy="702.9" r="3.47"/><circle cx="171.6" cy="708.2" r="3.47"/><circle cx="168.7" cy="714.5" r="3.47"/><circle cx="168.0" cy="720.3" r="3.47"/><circle cx="168.3" cy="725.4" r="3.47"/><circle cx="166.3" cy="731.5" r="3.47"/><circle cx="165.2" cy="736.8" r="3.47"/><circle cx="163.9" cy="742.7" r="3.47"/><circle cx="162.9" cy="747.7" r="3.47"/><circle cx="162.1" cy="753.6" r="3.47"/><circle cx="161.2" cy="758.9" r="3.47"/><circle cx="160.9" cy="765.9" r="3.47"/><circle cx="158.5" cy="771.1" r="3.47"/><circle cx="157.6" cy="777.4" r="3.47"/><circle cx="157.2" cy="783.3" r="3.47"/><circle cx="156.5" cy="789.5" r="3.47"/><circle cx="155.3" cy="794.6" r="3.47"/><circle cx="155.7" cy="799.7" r="3.47"/><circle cx="155.3" cy="805.5" r="3.47"/><circle cx="155.6" cy="811.5" r="3.47"/><circle cx="478.1" cy="23.6" r="3.47"/><circle cx="473.5" cy="28.6" r="3.47"/><circle cx="461.6" cy="33.3" r="3.47"/><circle cx="458.0" cy="39.7" r="3.47"/><circle cx="453.7" cy="46.1" r="3.47"/><circle cx="452.6" cy="53.4" r="3.47"/><circle cx="446.3" cy="59.8" r="3.47"/><circle cx="425.0" cy="64.8" r="3.47"/><circle cx="396.0" cy="70.7" r="3.47"/><circle cx="369.6" cy="77.9" r="3.47"/><circle cx="363.6" cy="83.7" r="3.47"/><circle cx="358.5" cy="89.6" r="3.47"/><circle cx="355.5" cy="95.6" r="3.47"/><circle cx="353.3" cy="100.4" r="3.47"/><circle cx="350.3" cy="106.8" r="3.47"/><circle cx="341.3" cy="112.7" r="3.47"/><circle cx="334.5" cy="117.9" r="3.47"/><circle cx="329.4" cy="123.5" r="3.47"/><circle cx="325.5" cy="129.4" r="3.47"/><circle cx="312.5" cy="134.4" r="3.47"/><circle cx="306.1" cy="144.4" r="3.47"/><circle cx="296.6" cy="149.3" r="3.47"/><circle cx="292.9" cy="158.3" r="3.47"/><circle cx="286.5" cy="164.0" r="3.47"/><circle cx="280.2" cy="169.6" r="3.47"/><circle cx="274.2" cy="175.3" r="3.47"/><circle cx="268.1" cy="181.0" r="3.47"/><circle cx="261.6" cy="186.7" r="3.47"/><circle cx="255.2" cy="192.3" r="3.47"/><circle cx="249.5" cy="198.0" r="3.47"/><circle cx="244.9" cy="203.7" r="3.47"/><circle cx="240.4" cy="209.3" r="3.47"/><circle cx="235.8" cy="215.0" r="3.47"/><circle cx="232.0" cy="220.7" r="3.47"/><circle cx="228.9" cy="226.4" r="3.47"/><circle cx="225.7" cy="232.0" r="3.47"/><circle cx="223.0" cy="237.7" r="3.47"/><circle cx="220.7" cy="243.4" r="3.47"/><circle cx="218.5" cy="249.0" r="3.47"/><circle cx="216.2" cy="254.7" r="3.47"/><circle cx="214.2" cy="260.4" r="3.47"/><circle cx="212.3" cy="266.1" r="3.47"/><circle cx="210.7" cy="271.7" r="3.47"/><circle cx="209.2" cy="277.4" r="3.47"/><circle cx="208.2" cy="283.1" r="3.47"/><circle cx="207.3" cy="288.7" r="3.47"/><circle cx="206.3" cy="294.4" r="3.47"/><circle cx="205.5" cy="300.1" r="3.47"/><circle cx="204.8" cy="305.8" r="3.47"/><circle cx="204.2" cy="311.4" r="3.47"/><circle cx="203.5" cy="317.1" r="3.47"/><circle cx="202.8" cy="322.8" r="3.47"/><circle cx="201.9" cy="328.4" r="3.47"/><circle cx="201.1" cy="334.1" r="3.47"/><circle cx="200.3" cy="339.8" r="3.47"/><circle cx="199.5" cy="345.5" r="3.47"/><circle cx="198.8" cy="351.1" r="3.47"/><circle cx="198.0" cy="356.8" r="3.47"/><circle cx="197.2" cy="362.5" r="3.47"/><circle cx="196.4" cy="368.1" r="3.47"/><circle cx="195.8" cy="373.8" r="3.47"/><circle cx="195.2" cy="379.5" r="3.47"/><circle cx="194.6" cy="385.2" r="3.47"/><circle cx="194.0" cy="390.8" r="3.47"/><circle cx="193.3" cy="396.5" r="3.47"/><circle cx="193.1" cy="402.2" r="3.47"/><circle cx="192.9" cy="407.8" r="3.47"/><circle cx="192.6" cy="413.5" r="3.47"/><circle cx="192.4" cy="419.2" r="3.47"/><circle cx="192.3" cy="424.9" r="3.47"/><circle cx="192.2" cy="430.5" r="3.47"/><circle cx="192.1" cy="436.2" r="3.47"/><circle cx="192.0" cy="441.9" r="3.47"/><circle cx="191.9" cy="447.5" r="3.47"/><circle cx="191.8" cy="453.2" r="3.47"/><circle cx="191.7" cy="458.9" r="3.47"/><circle cx="191.7" cy="464.6" r="3.47"/><circle cx="191.6" cy="470.2" r="3.47"/><circle cx="191.5" cy="475.9" r="3.47"/><circle cx="191.4" cy="481.6" r="3.47"/><circle cx="191.3" cy="487.2" r="3.47"/><circle cx="191.1" cy="492.9" r="3.47"/><circle cx="190.8" cy="498.6" r="3.47"/><circle cx="190.6" cy="504.3" r="3.47"/><circle cx="190.3" cy="509.9" r="3.47"/><circle cx="190.0" cy="515.6" r="3.47"/><circle cx="189.7" cy="521.3" r="3.47"/><circle cx="189.4" cy="526.9" r="3.47"/><circle cx="189.0" cy="532.6" r="3.47"/><circle cx="188.7" cy="538.3" r="3.47"/><circle cx="188.7" cy="544.0" r="3.47"/><circle cx="188.9" cy="549.6" r="3.47"/><circle cx="189.0" cy="555.3" r="3.47"/><circle cx="189.2" cy="561.0" r="3.47"/><circle cx="189.3" cy="566.6" r="3.47"/><circle cx="189.4" cy="572.3" r="3.47"/><circle cx="189.5" cy="578.0" r="3.47"/><circle cx="189.5" cy="583.7" r="3.47"/><circle cx="189.5" cy="589.3" r="3.47"/><circle cx="189.3" cy="595.0" r="3.47"/><circle cx="188.9" cy="600.7" r="3.47"/><circle cx="188.5" cy="606.3" r="3.47"/><circle cx="188.1" cy="612.0" r="3.47"/><circle cx="187.5" cy="617.7" r="3.47"/><circle cx="186.5" cy="623.4" r="3.47"/><circle cx="185.7" cy="629.0" r="3.47"/><circle cx="185.0" cy="634.7" r="3.47"/><circle cx="184.2" cy="640.4" r="3.47"/><circle cx="183.5" cy="646.0" r="3.47"/><circle cx="182.7" cy="651.7" r="3.47"/><circle cx="182.0" cy="657.4" r="3.47"/><circle cx="181.2" cy="663.1" r="3.47"/><circle cx="180.5" cy="668.7" r="3.47"/><circle cx="179.7" cy="674.4" r="3.47"/><circle cx="179.0" cy="680.1" r="3.47"/><circle cx="178.2" cy="685.7" r="3.47"/><circle cx="177.4" cy="691.4" r="3.47"/><circle cx="176.7" cy="697.1" r="3.47"/><circle cx="175.9" cy="702.8" r="3.47"/><circle cx="175.1" cy="708.4" r="3.47"/><circle cx="174.3" cy="714.1" r="3.47"/><circle cx="173.3" cy="719.8" r="3.47"/><circle cx="172.3" cy="725.5" r="3.47"/><circle cx="171.2" cy="731.1" r="3.47"/><circle cx="170.2" cy="736.8" r="3.47"/><circle cx="169.2" cy="742.5" r="3.47"/><circle cx="168.5" cy="748.1" r="3.47"/><circle cx="167.7" cy="753.8" r="3.47"/><circle cx="167.0" cy="759.5" r="3.47"/><circle cx="166.3" cy="765.2" r="3.47"/><circle cx="165.5" cy="770.8" r="3.47"/><circle cx="164.8" cy="776.5" r="3.47"/><circle cx="164.0" cy="782.2" r="3.47"/><circle cx="163.5" cy="787.8" r="3.47"/><circle cx="163.0" cy="793.5" r="3.47"/><circle cx="162.6" cy="799.2" r="3.47"/><circle cx="162.2" cy="804.9" r="3.47"/><circle cx="161.8" cy="810.5" r="3.47"/></g>
<path d="M449.5 22.0L449.4 31.9L443.7 41.9L430.2 49.0L394.1 61.8L360.6 71.7L339.3 81.7L330.1 91.6L318.9 101.6L307.2 111.5L296.0 121.5L282.3 131.4L273.5 141.4L265.9 151.3L258.7 161.3L251.6 171.2L245.3 181.2L239.1 191.1L233.9 201.1L228.9 211.0L224.1 221.0L219.5 230.9L215.8 240.9L212.7 250.8L210.0 260.8L207.5 270.7L205.4 280.7L203.8 290.6L202.5 300.6L201.5 310.5L200.5 320.5L199.2 330.4L198.0 340.4L196.8 350.3L195.6 360.3L194.4 370.2L193.5 380.2L192.6 390.1L191.9 400.1L191.7 410.0L191.4 420.0L191.2 429.9L191.0 439.9L190.9 449.8L190.7 459.8L190.6 469.7L190.5 479.7L190.2 489.6L189.8 499.6L189.3 509.5L188.8 519.5L188.2 529.4L187.6 539.4L186.9 549.3L186.1 559.3L185.3 569.2L184.4 579.2L183.3 589.1L181.8 599.1L180.1 609.0L178.3 619.0L177.0 628.9L175.8 638.9L174.6 648.8L173.4 658.8L172.3 668.7L171.1 678.7L169.9 688.6L168.7 698.6L167.5 708.5L166.1 718.5L164.4 728.4L162.8 738.4L161.4 748.3L160.3 758.3L159.1 768.2L158.0 778.2L157.0 788.1L156.5 798.1L155.9 808.0" fill="none" stroke="#0000ff" stroke-width="2.7" stroke-linejoin="round" stroke-linecap="butt"/>
<g fill="#0000ff"><circle cx="449.5" cy="22.0" r="6.08"/><circle cx="449.4" cy="31.9" r="6.08"/><circle cx="443.7" cy="41.9" r="6.08"/><circle cx="430.2" cy="49.0" r="6.08"/><circle cx="394.1" cy="61.8" r="6.08"/><circle cx="360.6" cy="71.7" r="6.08"/><circle cx="339.3" cy="81.7" r="6.08"/><circle cx="330.1" cy="91.6" r="6.08"/><circle cx="318.9" cy="101.6" r="6.08"/><circle cx="307.2" cy="111.5" r="6.08"/><circle cx="296.0" cy="121.5" r="6.08"/><circle cx="282.3" cy="131.4" r="6.08"/><circle cx="273.5" cy="141.4" r="6.08"/><circle cx="265.9" cy="151.3" r="6.08"/><circle cx="258.7" cy="161.3" r="6.08"/><circle cx="251.6" cy="171.2" r="6.08"/><circle cx="245.3" cy="181.2" r="6.08"/><circle cx="239.1" cy="191.1" r="6.08"/><circle cx="233.9" cy="201.1" r="6.08"/><circle cx="228.9" cy="211.0" r="6.08"/><circle cx="224.1" cy="221.0" r="6.08"/><circle cx="219.5" cy="230.9" r="6.08"/><circle cx="215.8" cy="240.9" r="6.08"/><circle cx="212.7" cy="250.8" r="6.08"/><circle cx="210.0" cy="260.8" r="6.08"/><circle cx="207.5" cy="270.7" r="6.08"/><circle cx="205.4" cy="280.7" r="6.08"/><circle cx="203.8" cy="290.6" r="6.08"/><circle cx="202.5" cy="300.6" r="6.08"/><circle cx="201.5" cy="310.5" r="6.08"/><circle cx="200.5" cy="320.5" r="6.08"/><circle cx="199.2" cy="330.4" r="6.08"/><circle cx="198.0" cy="340.4" r="6.08"/><circle cx="196.8" cy="350.3" r="6.08"/><circle cx="195.6" cy="360.3" r="6.08"/><circle cx="194.4" cy="370.2" r="6.08"/><circle cx="193.5" cy="380.2" r="6.08"/><circle cx="192.6" cy="390.1" r="6.08"/><circle cx="191.9" cy="400.1" r="6.08"/><circle cx="191.7" cy="410.0" r="6.08"/><circle cx="191.4" cy="420.0" r="6.08"/><circle cx="191.2" cy="429.9" r="6.08"/><circle cx="191.0" cy="439.9" r="6.08"/><circle cx="190.9" cy="449.8" r="6.08"/><circle cx="190.7" cy="459.8" r="6.08"/><circle cx="190.6" cy="469.7" r="6.08"/><circle cx="190.5" cy="479.7" r="6.08"/><circle cx="190.2" cy="489.6" r="6.08"/><circle cx="189.8" cy="499.6" r="6.08"/><circle cx="189.3" cy="509.5" r="6.08"/><circle cx="188.8" cy="519.5" r="6.08"/><circle cx="188.2" cy="529.4" r="6.08"/><circle cx="187.6" cy="539.4" r="6.08"/><circle cx="186.9" cy="549.3" r="6.08"/><circle cx="186.1" cy="559.3" r="6.08"/><circle cx="185.3" cy="569.2" r="6.08"/><circle cx="184.4" cy="579.2" r="6.08"/><circle cx="183.3" cy="589.1" r="6.08"/><circle cx="181.8" cy="599.1" r="6.08"/><circle cx="180.1" cy="609.0" r="6.08"/><circle cx="178.3" cy="619.0" r="6.08"/><circle cx="177.0" cy="628.9" r="6.08"/><circle cx="175.8" cy="638.9" r="6.08"/><circle cx="174.6" cy="648.8" r="6.08"/><circle cx="173.4" cy="658.8" r="6.08"/><circle cx="172.3" cy="668.7" r="6.08"/><circle cx="171.1" cy="678.7" r="6.08"/><circle cx="169.9" cy="688.6" r="6.08"/><circle cx="168.7" cy="698.6" r="6.08"/><circle cx="167.5" cy="708.5" r="6.08"/><circle cx="166.1" cy="718.5" r="6.08"/><circle cx="164.4" cy="728.4" r="6.08"/><circle cx="162.8" cy="738.4" r="6.08"/><circle cx="161.4" cy="748.3" r="6.08"/><circle cx="160.3" cy="758.3" r="6.08"/><circle cx="159.1" cy="768.2" r="6.08"/><circle cx="158.0" cy="778.2" r="6.08"/><circle cx="157.0" cy="788.1" r="6.08"/><circle cx="156.5" cy="798.1" r="6.08"/><circle cx="155.9" cy="808.0" r="6.08"/></g>
<path d="M445.5 19.0L445.5 23.0L445.5 27.0L445.5 30.9L445.5 34.9L445.5 38.9L445.3 42.9L444.0 48.2L435.3 52.6L426.6 57.5L400.7 62.5L374.8 67.5L361.3 72.4L347.7 77.4L337.7 82.4L327.6 87.4L320.1 92.3L312.5 97.3L307.2 102.3L301.9 107.2L296.0 112.2L290.1 117.2L284.8 122.2L279.5 127.1L274.2 132.1L268.9 137.1L264.5 142.1L260.1 147.2L255.6 152.2L251.2 157.2L247.4 162.2L243.6 167.2L239.8 172.3L236.0 177.3L232.9 182.3L229.8 187.3L226.6 192.4L223.5 197.4L220.9 202.4L218.2 207.5L215.6 212.5L212.9 217.5L211.1 222.5L209.3 227.5L207.5 232.4L205.7 237.4L203.9 242.4L202.1 247.4L200.2 252.4L198.4 257.3L196.6 262.3L194.8 267.3L194.1 272.3L193.3 277.2L192.6 282.2L191.9 287.2L191.2 292.2L190.4 297.2L189.7 302.1L189.0 307.1L188.2 312.1L187.5 317.1L187.1 322.1L186.7 327.0L186.2 332.0L185.8 337.0L185.4 342.0L185.0 347.0L184.6 351.9L184.1 356.9L183.7 361.9L183.3 366.9L182.9 371.9L182.5 376.8L182.0 381.8L181.6 386.8L181.2 391.8L180.8 396.8L180.4 401.7L179.9 406.7L179.5 411.7L179.1 416.7L178.5 421.6L178.0 426.6L177.4 431.6L176.8 436.6L176.2 441.6L175.7 446.5L175.1 451.5L174.5 456.5L173.9 461.5L173.4 466.5L172.8 471.4L172.2 476.4L171.6 481.4L171.1 486.4L170.5 491.4L169.9 496.3L169.3 501.3L168.8 506.3L168.2 511.3L167.6 516.2L167.1 521.2L166.7 526.2L166.2 531.2L165.8 536.2L165.3 541.1L164.8 546.1L164.4 551.1L163.9 556.1L163.5 561.1L163.0 566.0L162.5 571.0L162.1 576.0L161.6 581.0L161.2 586.0L160.7 590.9L160.2 595.9L159.8 600.9L159.3 605.9L158.9 610.9L158.4 615.8L158.0 620.8L157.5 625.8L157.1 630.8L156.6 635.8L156.2 640.7L155.7 645.7L155.3 650.7L154.8 655.7L154.4 660.6L154.0 665.6L153.5 670.6L153.1 675.6L152.6 680.6L152.2 685.5L151.7 690.5L151.3 695.5L150.8 700.5L150.4 705.5L150.0 710.4L149.5 715.4L149.1 720.4L148.6 725.4L148.2 730.4L147.7 735.3L147.3 740.3L146.8 745.3L146.4 750.3L145.9 755.2L145.5 760.2L145.0 765.2L144.6 770.2L144.1 775.2L143.7 780.1L143.2 785.1L142.8 790.1L142.3 795.1L141.9 800.1L141.4 805.0L141.0 810.0L140.5 815.0M446.7 19.0L446.7 23.0L446.7 27.0L446.7 30.9L446.7 34.9L446.7 38.9L446.5 42.9L445.2 48.5L436.5 53.1L427.8 58.0L401.9 63.0L376.0 68.0L362.5 72.9L348.9 77.9L338.9 82.9L328.8 87.9L321.3 92.8L313.7 97.8L308.4 102.8L303.1 107.8L297.2 112.7L291.3 117.7L286.0 122.7L280.7 127.7L275.4 132.6L270.1 137.6L265.7 142.6L261.3 147.6L256.8 152.6L252.4 157.6L248.6 162.6L244.8 167.7L241.0 172.7L237.2 177.7L234.1 182.7L231.0 187.7L227.8 192.7L224.7 197.7L222.1 202.7L219.4 207.7L216.8 212.7L214.1 217.7L212.3 222.7L210.5 227.7L208.7 232.6L206.9 237.6L205.1 242.6L203.2 247.6L201.4 252.5L199.6 257.5L197.8 262.5L196.0 267.5L195.3 272.5L194.5 277.4L193.8 282.4L193.1 287.4L192.4 292.4L191.6 297.3L190.9 302.3L190.2 307.3L189.4 312.3L188.7 317.2L188.3 322.2L187.9 327.2L187.4 332.2L187.0 337.2L186.6 342.1L186.2 347.1L185.8 352.1L185.3 357.1L184.9 362.0L184.5 367.0L184.1 372.0L183.7 377.0L183.2 382.0L182.8 386.9L182.4 391.9L182.0 396.9L181.6 401.9L181.1 406.8L180.7 411.8L180.3 416.8L179.7 421.8L179.2 426.8L178.6 431.7L178.0 436.7L177.4 441.7L176.9 446.7L176.3 451.6L175.7 456.6L175.1 461.6L174.6 466.6L174.0 471.6L173.4 476.5L172.8 481.5L172.3 486.5L171.7 491.5L171.1 496.4L170.5 501.4L170.0 506.4L169.4 511.4L168.8 516.4L168.3 521.3L167.9 526.3L167.4 531.3L167.0 536.3L166.5 541.2L166.0 546.2L165.6 551.2L165.1 556.2L164.7 561.1L164.2 566.1L163.7 571.1L163.3 576.1L162.8 581.1L162.4 586.0L161.9 591.0L161.4 596.0L161.0 601.0L160.5 605.9L160.1 610.9L159.6 615.9L159.2 620.9L158.7 625.9L158.3 630.8L157.8 635.8L157.4 640.8L156.9 645.8L156.5 650.7L156.0 655.7L155.6 660.7L155.2 665.7L154.7 670.7L154.3 675.6L153.8 680.6L153.4 685.6L152.9 690.6L152.5 695.5L152.0 700.5L151.6 705.5L151.2 710.5L150.7 715.5L150.3 720.4L149.8 725.4L149.4 730.4L148.9 735.4L148.5 740.3L148.0 745.3L147.6 750.3L147.1 755.3L146.7 760.2L146.2 765.2L145.8 770.2L145.3 775.2L144.9 780.2L144.4 785.1L144.0 790.1L143.5 795.1L143.1 800.1L142.6 805.0L142.2 810.0L141.7 815.0M447.9 19.0L447.9 23.0L447.9 27.0L447.9 30.9L447.9 34.9L447.9 38.9L447.7 42.9L446.4 48.7L437.7 53.6L429.0 58.5L403.1 63.5L377.2 68.5L363.7 73.5L350.1 78.4L340.1 83.4L330.0 88.4L322.5 93.4L314.9 98.3L309.6 103.3L304.3 108.3L298.4 113.3L292.5 118.2L287.2 123.2L281.9 128.2L276.6 133.2L271.3 138.1L266.9 143.1L262.5 148.1L258.0 153.1L253.6 158.1L249.8 163.1L246.0 168.1L242.2 173.0L238.4 178.0L235.3 183.0L232.2 188.0L229.0 193.0L225.9 198.0L223.3 202.9L220.6 207.9L218.0 212.9L215.3 217.9L213.5 222.9L211.7 227.9L209.9 232.8L208.1 237.8L206.3 242.8L204.4 247.8L202.6 252.7L200.8 257.7L199.0 262.7L197.2 267.7L196.5 272.6L195.7 277.6L195.0 282.6L194.3 287.6L193.6 292.5L192.8 297.5L192.1 302.5L191.4 307.5L190.6 312.4L189.9 317.4L189.5 322.4L189.1 327.4L188.6 332.3L188.2 337.3L187.8 342.3L187.4 347.3L187.0 352.2L186.5 357.2L186.1 362.2L185.7 367.2L185.3 372.2L184.9 377.1L184.4 382.1L184.0 387.1L183.6 392.1L183.2 397.0L182.8 402.0L182.3 407.0L181.9 412.0L181.5 416.9L180.9 421.9L180.4 426.9L179.8 431.9L179.2 436.8L178.6 441.8L178.1 446.8L177.5 451.8L176.9 456.7L176.3 461.7L175.8 466.7L175.2 471.7L174.6 476.6L174.0 481.6L173.5 486.6L172.9 491.6L172.3 496.5L171.7 501.5L171.2 506.5L170.6 511.5L170.0 516.5L169.5 521.4L169.1 526.4L168.6 531.4L168.2 536.4L167.7 541.3L167.2 546.3L166.8 551.3L166.3 556.3L165.9 561.2L165.4 566.2L164.9 571.2L164.5 576.2L164.0 581.1L163.6 586.1L163.1 591.1L162.6 596.1L162.2 601.0L161.7 606.0L161.3 611.0L160.8 616.0L160.4 620.9L159.9 625.9L159.5 630.9L159.0 635.9L158.6 640.8L158.1 645.8L157.7 650.8L157.2 655.8L156.8 660.7L156.4 665.7L155.9 670.7L155.5 675.7L155.0 680.7L154.6 685.6L154.1 690.6L153.7 695.6L153.2 700.6L152.8 705.5L152.3 710.5L151.9 715.5L151.5 720.5L151.0 725.4L150.6 730.4L150.1 735.4L149.7 740.4L149.2 745.3L148.8 750.3L148.3 755.3L147.9 760.3L147.4 765.2L147.0 770.2L146.5 775.2L146.1 780.2L145.6 785.1L145.2 790.1L144.7 795.1L144.3 800.1L143.8 805.0L143.4 810.0L142.9 815.0M449.1 19.0L449.1 23.0L449.1 27.0L449.1 30.9L449.1 34.9L449.1 38.9L448.9 42.9L447.6 49.0L438.9 54.1L430.2 59.1L404.3 64.0L378.4 69.0L364.8 74.0L351.3 79.0L341.2 83.9L331.2 88.9L323.6 93.9L316.1 98.9L310.8 103.8L305.5 108.8L299.6 113.8L293.7 118.8L288.4 123.7L283.1 128.7L277.8 133.7L272.5 138.7L268.1 143.6L263.6 148.6L259.2 153.6L254.8 158.5L251.0 163.5L247.2 168.4L243.4 173.4L239.6 178.4L236.5 183.3L233.3 188.3L230.2 193.3L227.1 198.2L224.4 203.2L221.8 208.2L219.1 213.1L216.5 218.1L214.7 223.1L212.9 228.0L211.1 233.0L209.3 238.0L207.4 243.0L205.6 247.9L203.8 252.9L202.0 257.9L200.2 262.9L198.4 267.8L197.7 272.8L196.9 277.8L196.2 282.8L195.5 287.7L194.7 292.7L194.0 297.7L193.3 302.7L192.6 307.6L191.8 312.6L191.1 317.6L190.7 322.6L190.3 327.5L189.8 332.5L189.4 337.5L189.0 342.5L188.6 347.4L188.2 352.4L187.7 357.4L187.3 362.4L186.9 367.3L186.5 372.3L186.1 377.3L185.6 382.2L185.2 387.2L184.8 392.2L184.4 397.2L184.0 402.1L183.5 407.1L183.1 412.1L182.7 417.1L182.1 422.0L181.5 427.0L181.0 432.0L180.4 437.0L179.8 441.9L179.2 446.9L178.7 451.9L178.1 456.9L177.5 461.8L176.9 466.8L176.4 471.8L175.8 476.8L175.2 481.7L174.6 486.7L174.1 491.7L173.5 496.7L172.9 501.6L172.3 506.6L171.8 511.6L171.2 516.5L170.7 521.5L170.3 526.5L169.8 531.5L169.4 536.4L168.9 541.4L168.4 546.4L168.0 551.4L167.5 556.3L167.1 561.3L166.6 566.3L166.1 571.3L165.7 576.2L165.2 581.2L164.8 586.2L164.3 591.2L163.8 596.1L163.4 601.1L162.9 606.1L162.5 611.1L162.0 616.0L161.6 621.0L161.1 626.0L160.7 631.0L160.2 635.9L159.8 640.9L159.3 645.9L158.9 650.9L158.4 655.8L158.0 660.8L157.5 665.8L157.1 670.7L156.7 675.7L156.2 680.7L155.8 685.7L155.3 690.6L154.9 695.6L154.4 700.6L154.0 705.6L153.5 710.5L153.1 715.5L152.6 720.5L152.2 725.5L151.7 730.4L151.3 735.4L150.8 740.4L150.4 745.4L149.9 750.3L149.5 755.3L149.0 760.3L148.6 765.3L148.1 770.2L147.7 775.2L147.2 780.2L146.8 785.2L146.3 790.1L145.9 795.1L145.4 800.1L145.0 805.1L144.5 810.0L144.1 815.0M450.3 19.0L450.3 23.0L450.3 27.0L450.3 30.9L450.3 34.9L450.3 38.9L450.1 42.9L448.8 49.2L440.1 54.5L431.4 59.6L405.5 64.6L379.6 69.5L366.0 74.5L352.5 79.5L342.4 84.5L332.4 89.4L324.8 94.4L317.3 99.4L312.0 104.4L306.7 109.3L300.8 114.3L294.9 119.3L289.6 124.3L284.3 129.2L279.0 134.2L273.7 139.2L269.3 144.1L264.8 149.1L260.4 154.0L256.0 159.0L252.2 163.9L248.4 168.8L244.6 173.8L240.8 178.7L237.7 183.7L234.5 188.6L231.4 193.6L228.3 198.5L225.6 203.5L223.0 208.4L220.3 213.4L217.7 218.3L215.9 223.3L214.1 228.2L212.3 233.2L210.5 238.2L208.6 243.2L206.8 248.1L205.0 253.1L203.2 258.1L201.4 263.1L199.6 268.0L198.9 273.0L198.1 278.0L197.4 282.9L196.7 287.9L195.9 292.9L195.2 297.9L194.5 302.8L193.8 307.8L193.0 312.8L192.3 317.8L191.9 322.7L191.5 327.7L191.0 332.7L190.6 337.6L190.2 342.6L189.8 347.6L189.4 352.6L188.9 357.5L188.5 362.5L188.1 367.5L187.7 372.4L187.3 377.4L186.8 382.4L186.4 387.4L186.0 392.3L185.6 397.3L185.2 402.3L184.7 407.3L184.3 412.2L183.9 417.2L183.3 422.2L182.7 427.1L182.2 432.1L181.6 437.1L181.0 442.1L180.4 447.0L179.9 452.0L179.3 457.0L178.7 462.0L178.1 466.9L177.6 471.9L177.0 476.9L176.4 481.8L175.8 486.8L175.3 491.8L174.7 496.8L174.1 501.7L173.5 506.7L173.0 511.7L172.4 516.6L171.9 521.6L171.5 526.6L171.0 531.6L170.6 536.5L170.1 541.5L169.6 546.5L169.2 551.5L168.7 556.4L168.3 561.4L167.8 566.4L167.3 571.3L166.9 576.3L166.4 581.3L166.0 586.3L165.5 591.2L165.0 596.2L164.6 601.2L164.1 606.2L163.7 611.1L163.2 616.1L162.7 621.1L162.3 626.0L161.9 631.0L161.4 636.0L161.0 641.0L160.5 645.9L160.1 650.9L159.6 655.9L159.2 660.9L158.7 665.8L158.3 670.8L157.9 675.8L157.4 680.7L157.0 685.7L156.5 690.7L156.1 695.7L155.6 700.6L155.2 705.6L154.7 710.6L154.3 715.5L153.8 720.5L153.4 725.5L152.9 730.5L152.5 735.4L152.0 740.4L151.6 745.4L151.1 750.4L150.7 755.3L150.2 760.3L149.8 765.3L149.3 770.2L148.9 775.2L148.4 780.2L148.0 785.2L147.5 790.1L147.1 795.1L146.6 800.1L146.2 805.1L145.7 810.0L145.3 815.0M451.5 19.0L451.5 23.0L451.5 27.0L451.5 30.9L451.5 34.9L451.5 38.9L451.3 42.9L450.0 49.5L441.3 55.0L432.6 60.1L406.7 65.1L380.8 70.0L367.2 75.0L353.7 80.0L343.6 85.0L333.6 90.0L326.0 94.9L318.5 99.9L313.2 104.9L307.9 109.8L302.0 114.8L296.1 119.8L290.8 124.8L285.5 129.8L280.2 134.7L274.9 139.7L270.5 144.6L266.0 149.5L261.6 154.5L257.2 159.4L253.4 164.3L249.6 169.2L245.8 174.2L242.0 179.1L238.9 184.0L235.7 189.0L232.6 193.9L229.5 198.8L226.8 203.7L224.2 208.7L221.5 213.6L218.9 218.5L217.1 223.5L215.3 228.4L213.5 233.4L211.7 238.4L209.8 243.4L208.0 248.3L206.2 253.3L204.4 258.3L202.6 263.2L200.8 268.2L200.1 273.2L199.3 278.1L198.6 283.1L197.9 288.1L197.1 293.1L196.4 298.0L195.7 303.0L195.0 308.0L194.2 312.9L193.5 317.9L193.1 322.9L192.7 327.9L192.2 332.8L191.8 337.8L191.4 342.8L191.0 347.7L190.6 352.7L190.1 357.7L189.7 362.7L189.3 367.6L188.9 372.6L188.5 377.6L188.0 382.5L187.6 387.5L187.2 392.5L186.8 397.5L186.3 402.4L185.9 407.4L185.5 412.4L185.1 417.3L184.5 422.3L183.9 427.3L183.4 432.2L182.8 437.2L182.2 442.2L181.6 447.2L181.1 452.1L180.5 457.1L179.9 462.1L179.3 467.0L178.8 472.0L178.2 477.0L177.6 482.0L177.0 486.9L176.5 491.9L175.9 496.9L175.3 501.8L174.7 506.8L174.2 511.8L173.6 516.8L173.1 521.7L172.7 526.7L172.2 531.7L171.8 536.6L171.3 541.6L170.8 546.6L170.4 551.5L169.9 556.5L169.5 561.5L169.0 566.5L168.5 571.4L168.1 576.4L167.6 581.4L167.2 586.3L166.7 591.3L166.2 596.3L165.8 601.3L165.3 606.2L164.9 611.2L164.4 616.2L163.9 621.1L163.5 626.1L163.1 631.1L162.6 636.0L162.2 641.0L161.7 646.0L161.3 651.0L160.8 655.9L160.4 660.9L159.9 665.9L159.5 670.8L159.1 675.8L158.6 680.8L158.2 685.8L157.7 690.7L157.3 695.7L156.8 700.7L156.4 705.6L155.9 710.6L155.5 715.6L155.0 720.6L154.6 725.5L154.1 730.5L153.7 735.5L153.2 740.4L152.8 745.4L152.3 750.4L151.9 755.3L151.4 760.3L151.0 765.3L150.5 770.3L150.1 775.2L149.6 780.2L149.2 785.2L148.7 790.1L148.3 795.1L147.8 800.1L147.4 805.1L146.9 810.0L146.5 815.0" fill="none" stroke="#ff0000" stroke-width="2.7" stroke-linejoin="round"/>
<g fill="#ff0000"><circle cx="448.5" cy="19.0" r="6.08"/><circle cx="448.5" cy="23.0" r="6.08"/><circle cx="448.5" cy="27.0" r="6.08"/><circle cx="448.5" cy="30.9" r="6.08"/><circle cx="448.5" cy="34.9" r="6.08"/><circle cx="448.5" cy="38.9" r="6.08"/><circle cx="448.3" cy="42.9" r="6.08"/><circle cx="447.0" cy="48.9" r="6.08"/><circle cx="429.6" cy="58.8" r="6.08"/><circle cx="377.8" cy="68.8" r="6.08"/><circle cx="350.7" cy="78.7" r="6.08"/><circle cx="330.6" cy="88.7" r="6.08"/><circle cx="315.5" cy="98.6" r="6.08"/><circle cx="304.9" cy="108.5" r="6.08"/><circle cx="293.1" cy="118.5" r="6.08"/><circle cx="271.9" cy="138.4" r="6.08"/><circle cx="254.2" cy="158.3" r="6.08"/><circle cx="239.0" cy="178.2" r="6.08"/><circle cx="226.5" cy="198.1" r="6.08"/><circle cx="215.9" cy="218.0" r="6.08"/><circle cx="197.8" cy="267.8" r="6.08"/><circle cx="190.5" cy="317.5" r="6.08"/><circle cx="182.1" cy="417.0" r="6.08"/><circle cx="170.6" cy="516.5" r="6.08"/><circle cx="161.4" cy="616.0" r="6.08"/><circle cx="152.5" cy="715.5" r="6.08"/><circle cx="143.5" cy="815.0" r="6.08"/></g>
<path d="M457.3 19.0L457.3 23.0L454.5 27.0L450.0 30.9L438.2 34.9L424.3 38.9L406.6 42.9L389.8 48.9L367.2 58.8L347.1 68.8L335.0 78.7L324.5 88.7L318.3 98.6L315.3 108.5L313.1 118.5L308.3 138.4L296.6 158.3L281.3 178.2L269.4 198.1L238.2 218.0L213.3 267.8L197.8 317.5L187.3 417.0L151.5 516.5L138.5 616.0" fill="none" stroke="#008000" stroke-width="2.7" stroke-linejoin="round" stroke-linecap="butt"/>
<g fill="#008000"><circle cx="457.3" cy="19.0" r="6.08"/><circle cx="457.3" cy="23.0" r="6.08"/><circle cx="454.5" cy="27.0" r="6.08"/><circle cx="450.0" cy="30.9" r="6.08"/><circle cx="438.2" cy="34.9" r="6.08"/><circle cx="424.3" cy="38.9" r="6.08"/><circle cx="406.6" cy="42.9" r="6.08"/><circle cx="389.8" cy="48.9" r="6.08"/><circle cx="367.2" cy="58.8" r="6.08"/><circle cx="347.1" cy="68.8" r="6.08"/><circle cx="335.0" cy="78.7" r="6.08"/><circle cx="324.5" cy="88.7" r="6.08"/><circle cx="318.3" cy="98.6" r="6.08"/><circle cx="315.3" cy="108.5" r="6.08"/><circle cx="313.1" cy="118.5" r="6.08"/><circle cx="308.3" cy="138.4" r="6.08"/><circle cx="296.6" cy="158.3" r="6.08"/><circle cx="281.3" cy="178.2" r="6.08"/><circle cx="269.4" cy="198.1" r="6.08"/><circle cx="238.2" cy="218.0" r="6.08"/><circle cx="213.3" cy="267.8" r="6.08"/><circle cx="197.8" cy="317.5" r="6.08"/><circle cx="187.3" cy="417.0" r="6.08"/><circle cx="151.5" cy="516.5" r="6.08"/><circle cx="138.5" cy="616.0" r="6.08"/></g>
<path d="M452.1 20.0L452.1 22.1L452.1 24.3L452.0 26.6L452.0 29.1L451.8 31.8L451.5 34.8L451.0 38.1L450.5 41.7L449.0 45.8L446.7 50.5L410.2 55.8L376.2 62.0L353.9 69.2L333.3 77.6L311.4 87.5L291.3 99.3L273.2 113.3L256.2 130.0L240.9 150.0L227.1 173.9L217.6 202.7L209.1 237.4L203.2 279.0L198.5 329.1L191.4 389.4L186.5 461.7L181.5 548.4L177.4 652.1L163.5 775.6" fill="none" stroke="#ff00ff" stroke-width="2.7" stroke-linejoin="round" stroke-linecap="butt"/>
<g fill="#ff00ff"><circle cx="452.1" cy="20.0" r="6.08"/><circle cx="452.1" cy="22.1" r="6.08"/><circle cx="452.1" cy="24.3" r="6.08"/><circle cx="452.0" cy="26.6" r="6.08"/><circle cx="452.0" cy="29.1" r="6.08"/><circle cx="451.8" cy="31.8" r="6.08"/><circle cx="451.5" cy="34.8" r="6.08"/><circle cx="451.0" cy="38.1" r="6.08"/><circle cx="450.5" cy="41.7" r="6.08"/><circle cx="449.0" cy="45.8" r="6.08"/><circle cx="446.7" cy="50.5" r="6.08"/><circle cx="410.2" cy="55.8" r="6.08"/><circle cx="376.2" cy="62.0" r="6.08"/><circle cx="353.9" cy="69.2" r="6.08"/><circle cx="333.3" cy="77.6" r="6.08"/><circle cx="311.4" cy="87.5" r="6.08"/><circle cx="291.3" cy="99.3" r="6.08"/><circle cx="273.2" cy="113.3" r="6.08"/><circle cx="256.2" cy="130.0" r="6.08"/><circle cx="240.9" cy="150.0" r="6.08"/><circle cx="227.1" cy="173.9" r="6.08"/><circle cx="217.6" cy="202.7" r="6.08"/><circle cx="209.1" cy="237.4" r="6.08"/><circle cx="203.2" cy="279.0" r="6.08"/><circle cx="198.5" cy="329.1" r="6.08"/><circle cx="191.4" cy="389.4" r="6.08"/><circle cx="186.5" cy="461.7" r="6.08"/><circle cx="181.5" cy="548.4" r="6.08"/><circle cx="177.4" cy="652.1" r="6.08"/><circle cx="163.5" cy="775.6" r="6.08"/></g>
</g>
<path d="M88.5 19.5h-6.08M88.5 68.5h-6.08M88.5 118.5h-6.08M88.5 168.5h-6.08M88.5 218.5h-6.08M88.5 267.5h-6.08M88.5 317.5h-6.08M88.5 367.5h-6.08M88.5 417.5h-6.08M88.5 466.5h-6.08M88.5 516.5h-6.08M88.5 566.5h-6.08M88.5 616.5h-6.08M88.5 665.5h-6.08M88.5 715.5h-6.08M88.5 765.5h-6.08M91.5 814.5v6.08M151.5 814.5v6.08M210.5 814.5v6.08M270.5 814.5v6.08M330.5 814.5v6.08M389.5 814.5v6.08M449.5 814.5v6.08" stroke="#000" stroke-width="1.39" fill="none"/>
<rect x="88.5" y="19.5" width="401.0" height="795.0" fill="none" stroke="#000" stroke-width="1.39"/>
<text x="75.4" y="26.0" text-anchor="end" class="tk">0</text>
<text x="75.4" y="75.8" text-anchor="end" class="tk">25</text>
<text x="75.4" y="125.8" text-anchor="end" class="tk">50</text>
<text x="75.4" y="175.8" text-anchor="end" class="tk">75</text>
<text x="75.4" y="225.8" text-anchor="end" class="tk">100</text>
<text x="75.4" y="274.8" text-anchor="end" class="tk">125</text>
<text x="75.4" y="324.8" text-anchor="end" class="tk">150</text>
<text x="75.4" y="374.8" text-anchor="end" class="tk">175</text>
<text x="75.4" y="424.8" text-anchor="end" class="tk">200</text>
<text x="75.4" y="473.8" text-anchor="end" class="tk">225</text>
<text x="75.4" y="523.8" text-anchor="end" class="tk">250</text>
<text x="75.4" y="573.8" text-anchor="end" class="tk">275</text>
<text x="75.4" y="623.8" text-anchor="end" class="tk">300</text>
<text x="75.4" y="672.8" text-anchor="end" class="tk">325</text>
<text x="75.4" y="722.8" text-anchor="end" class="tk">350</text>
<text x="75.4" y="772.8" text-anchor="end" class="tk">375</text>
<text x="91.5" y="842.2" text-anchor="middle" class="tk">5.0</text>
<text x="151.5" y="842.2" text-anchor="middle" class="tk">7.5</text>
<text x="210.5" y="842.2" text-anchor="middle" class="tk">10.0</text>
<text x="270.5" y="842.2" text-anchor="middle" class="tk">12.5</text>
<text x="330.5" y="842.2" text-anchor="middle" class="tk">15.0</text>
<text x="389.5" y="842.2" text-anchor="middle" class="tk">17.5</text>
<text x="449.5" y="842.2" text-anchor="middle" class="tk">20.0</text>
<clipPath id="c1"><rect x="580.5" y="19.5" width="402.0" height="795.0"/></clipPath>
<path d="M580.5 68.5H982.5M580.5 118.5H982.5M580.5 168.5H982.5M580.5 218.5H982.5M580.5 267.5H982.5M580.5 317.5H982.5M580.5 367.5H982.5M580.5 417.5H982.5M580.5 466.5H982.5M580.5 516.5H982.5M580.5 566.5H982.5M580.5 616.5H982.5M580.5 665.5H982.5M580.5 715.5H982.5M580.5 765.5H982.5M611.5 814.5V19.5M725.5 814.5V19.5M839.5 814.5V19.5M952.5 814.5V19.5" stroke="#b0b0b0" stroke-width="0.87" stroke-dasharray="3.21 1.39" fill="none"/>
<g clip-path="url(#c1)">
<g fill="#00ffff"><circle cx="705.9" cy="20.7" r="3.47"/><circle cx="714.7" cy="25.3" r="3.47"/><circle cx="714.5" cy="30.8" r="3.47"/><circle cx="713.8" cy="36.3" r="3.47"/><circle cx="694.5" cy="41.8" r="3.47"/><circle cx="671.2" cy="47.8" r="3.47"/><circle cx="660.1" cy="53.7" r="3.47"/><circle cx="653.6" cy="59.5" r="3.47"/><circle cx="648.1" cy="64.7" r="3.47"/><circle cx="642.7" cy="70.5" r="3.47"/><circle cx="638.1" cy="76.6" r="3.47"/><circle cx="639.4" cy="82.6" r="3.47"/><circle cx="637.2" cy="88.5" r="3.47"/><circle cx="633.5" cy="93.6" r="3.47"/><circle cx="637.1" cy="100.0" r="3.47"/><circle cx="636.0" cy="105.4" r="3.47"/><circle cx="639.7" cy="111.3" r="3.47"/><circle cx="642.7" cy="116.0" r="3.47"/><circle cx="651.9" cy="122.3" r="3.47"/><circle cx="655.1" cy="127.8" r="3.47"/><circle cx="659.5" cy="133.8" r="3.47"/><circle cx="662.2" cy="139.2" r="3.47"/><circle cx="659.2" cy="145.4" r="3.47"/><circle cx="660.3" cy="150.4" r="3.47"/><circle cx="660.9" cy="156.6" r="3.47"/><circle cx="664.3" cy="161.7" r="3.47"/><circle cx="670.7" cy="167.8" r="3.47"/><circle cx="674.1" cy="174.4" r="3.47"/><circle cx="679.2" cy="179.2" r="3.47"/><circle cx="687.1" cy="184.9" r="3.47"/><circle cx="695.3" cy="190.9" r="3.47"/><circle cx="699.6" cy="196.2" r="3.47"/><circle cx="706.4" cy="201.3" r="3.47"/><circle cx="712.5" cy="207.2" r="3.47"/><circle cx="724.0" cy="213.2" r="3.47"/><circle cx="731.9" cy="219.4" r="3.47"/><circle cx="732.3" cy="224.5" r="3.47"/><circle cx="736.7" cy="230.6" r="3.47"/><circle cx="744.0" cy="236.1" r="3.47"/><circle cx="754.9" cy="241.4" r="3.47"/><circle cx="759.0" cy="247.5" r="3.47"/><circle cx="763.1" cy="253.0" r="3.47"/><circle cx="766.8" cy="259.1" r="3.47"/><circle cx="775.8" cy="264.6" r="3.47"/><circle cx="778.2" cy="270.6" r="3.47"/><circle cx="784.8" cy="275.6" r="3.47"/><circle cx="786.8" cy="281.4" r="3.47"/><circle cx="787.5" cy="286.9" r="3.47"/><circle cx="793.4" cy="292.5" r="3.47"/><circle cx="796.7" cy="299.0" r="3.47"/><circle cx="801.6" cy="304.3" r="3.47"/><circle cx="806.7" cy="310.1" r="3.47"/><circle cx="812.7" cy="315.2" r="3.47"/><circle cx="814.9" cy="320.7" r="3.47"/><circle cx="818.1" cy="326.2" r="3.47"/><circle cx="820.7" cy="331.8" r="3.47"/><circle cx="823.0" cy="337.7" r="3.47"/><circle cx="825.9" cy="343.3" r="3.47"/><circle cx="827.2" cy="348.9" r="3.47"/><circle cx="826.1" cy="354.1" r="3.47"/><circle cx="826.8" cy="359.9" r="3.47"/><circle cx="828.4" cy="364.9" r="3.47"/><circle cx="832.3" cy="371.0" r="3.47"/><circle cx="837.7" cy="377.3" r="3.47"/><circle cx="839.7" cy="382.5" r="3.47"/><circle cx="841.2" cy="388.6" r="3.47"/><circle cx="842.1" cy="394.1" r="3.47"/><circle cx="843.3" cy="400.0" r="3.47"/><circle cx="842.9" cy="406.1" r="3.47"/><circle cx="845.1" cy="411.3" r="3.47"/><circle cx="845.8" cy="416.5" r="3.47"/><circle cx="847.2" cy="422.2" r="3.47"/><circle cx="846.5" cy="427.8" r="3.47"/><circle cx="847.0" cy="434.0" r="3.47"/><circle cx="850.6" cy="439.3" r="3.47"/><circle cx="855.2" cy="444.9" r="3.47"/><circle cx="857.6" cy="450.9" r="3.47"/><circle cx="861.2" cy="455.9" r="3.47"/><circle cx="865.7" cy="461.7" r="3.47"/><circle cx="869.4" cy="466.8" r="3.47"/><circle cx="871.8" cy="472.6" r="3.47"/><circle cx="871.8" cy="478.7" r="3.47"/><circle cx="874.8" cy="484.5" r="3.47"/><circle cx="878.6" cy="489.7" r="3.47"/><circle cx="880.0" cy="495.4" r="3.47"/><circle cx="882.7" cy="501.2" r="3.47"/><circle cx="885.1" cy="506.0" r="3.47"/><circle cx="887.8" cy="512.2" r="3.47"/><circle cx="891.4" cy="518.1" r="3.47"/><circle cx="891.8" cy="524.1" r="3.47"/><circle cx="892.6" cy="529.4" r="3.47"/><circle cx="894.0" cy="535.4" r="3.47"/><circle cx="893.4" cy="540.8" r="3.47"/><circle cx="895.0" cy="546.8" r="3.47"/><circle cx="895.8" cy="552.0" r="3.47"/><circle cx="896.7" cy="557.7" r="3.47"/><circle cx="898.8" cy="563.5" r="3.47"/><circle cx="898.1" cy="569.5" r="3.47"/><circle cx="900.2" cy="574.0" r="3.47"/><circle cx="902.0" cy="580.2" r="3.47"/><circle cx="902.1" cy="586.1" r="3.47"/><circle cx="902.6" cy="591.3" r="3.47"/><circle cx="903.0" cy="596.7" r="3.47"/><circle cx="902.1" cy="602.4" r="3.47"/><circle cx="904.1" cy="607.7" r="3.47"/><circle cx="905.2" cy="613.2" r="3.47"/><circle cx="905.1" cy="619.2" r="3.47"/><circle cx="906.3" cy="624.7" r="3.47"/><circle cx="905.5" cy="630.5" r="3.47"/><circle cx="905.3" cy="636.5" r="3.47"/><circle cx="904.4" cy="642.3" r="3.47"/><circle cx="905.7" cy="648.1" r="3.47"/><circle cx="905.9" cy="654.4" r="3.47"/><circle cx="906.8" cy="659.3" r="3.47"/><circle cx="906.5" cy="664.4" r="3.47"/><circle cx="906.3" cy="670.6" r="3.47"/><circle cx="906.8" cy="675.9" r="3.47"/><circle cx="906.7" cy="681.3" r="3.47"/><circle cx="907.1" cy="686.8" r="3.47"/><circle cx="907.2" cy="691.9" r="3.47"/><circle cx="906.8" cy="697.9" r="3.47"/><circle cx="906.8" cy="703.5" r="3.47"/><circle cx="907.0" cy="709.4" r="3.47"/><circle cx="906.1" cy="714.9" r="3.47"/><circle cx="906.6" cy="719.9" r="3.47"/><circle cx="907.2" cy="725.9" r="3.47"/><circle cx="906.4" cy="731.3" r="3.47"/><circle cx="906.0" cy="737.3" r="3.47"/><circle cx="906.8" cy="743.3" r="3.47"/><circle cx="906.6" cy="749.0" r="3.47"/><circle cx="907.2" cy="754.0" r="3.47"/><circle cx="906.6" cy="760.3" r="3.47"/><circle cx="906.6" cy="765.5" r="3.47"/><circle cx="907.3" cy="771.7" r="3.47"/><circle cx="906.9" cy="777.9" r="3.47"/><circle cx="907.1" cy="783.3" r="3.47"/><circle cx="907.7" cy="788.8" r="3.47"/><circle cx="908.3" cy="794.5" r="3.47"/><circle cx="908.1" cy="800.2" r="3.47"/><circle cx="907.5" cy="805.3" r="3.47"/><circle cx="907.4" cy="811.5" r="3.47"/><circle cx="711.4" cy="22.1" r="3.47"/><circle cx="715.3" cy="28.6" r="3.47"/><circle cx="717.7" cy="34.2" r="3.47"/><circle cx="710.2" cy="39.3" r="3.47"/><circle cx="693.5" cy="45.0" r="3.47"/><circle cx="680.2" cy="50.9" r="3.47"/><circle cx="665.2" cy="55.8" r="3.47"/><circle cx="652.9" cy="61.7" r="3.47"/><circle cx="646.1" cy="67.2" r="3.47"/><circle cx="641.3" cy="74.1" r="3.47"/><circle cx="636.5" cy="78.7" r="3.47"/><circle cx="637.9" cy="83.7" r="3.47"/><circle cx="635.7" cy="90.0" r="3.47"/><circle cx="638.4" cy="96.2" r="3.47"/><circle cx="637.1" cy="102.1" r="3.47"/><circle cx="639.8" cy="107.7" r="3.47"/><circle cx="648.0" cy="113.6" r="3.47"/><circle cx="656.5" cy="119.6" r="3.47"/><circle cx="657.4" cy="125.1" r="3.47"/><circle cx="658.9" cy="130.7" r="3.47"/><circle cx="661.6" cy="135.9" r="3.47"/><circle cx="664.3" cy="141.6" r="3.47"/><circle cx="664.4" cy="147.5" r="3.47"/><circle cx="666.6" cy="152.4" r="3.47"/><circle cx="669.4" cy="159.2" r="3.47"/><circle cx="671.3" cy="164.7" r="3.47"/><circle cx="679.8" cy="170.3" r="3.47"/><circle cx="684.7" cy="176.2" r="3.47"/><circle cx="687.8" cy="181.4" r="3.47"/><circle cx="695.9" cy="186.8" r="3.47"/><circle cx="703.2" cy="192.6" r="3.47"/><circle cx="709.7" cy="198.0" r="3.47"/><circle cx="717.4" cy="203.3" r="3.47"/><circle cx="725.3" cy="209.6" r="3.47"/><circle cx="726.2" cy="214.5" r="3.47"/><circle cx="732.3" cy="220.6" r="3.47"/><circle cx="740.2" cy="226.5" r="3.47"/><circle cx="747.7" cy="232.5" r="3.47"/><circle cx="751.5" cy="238.1" r="3.47"/><circle cx="757.6" cy="244.0" r="3.47"/><circle cx="764.5" cy="249.6" r="3.47"/><circle cx="771.5" cy="255.1" r="3.47"/><circle cx="773.8" cy="260.8" r="3.47"/><circle cx="781.2" cy="265.9" r="3.47"/><circle cx="785.3" cy="271.5" r="3.47"/><circle cx="786.5" cy="277.6" r="3.47"/><circle cx="792.6" cy="282.8" r="3.47"/><circle cx="797.4" cy="287.6" r="3.47"/><circle cx="799.0" cy="293.6" r="3.47"/><circle cx="803.8" cy="300.1" r="3.47"/><circle cx="805.6" cy="305.0" r="3.47"/><circle cx="811.3" cy="311.0" r="3.47"/><circle cx="818.0" cy="316.3" r="3.47"/><circle cx="820.2" cy="321.9" r="3.47"/><circle cx="825.0" cy="327.7" r="3.47"/><circle cx="826.5" cy="333.7" r="3.47"/><circle cx="826.5" cy="338.8" r="3.47"/><circle cx="830.2" cy="344.8" r="3.47"/><circle cx="832.8" cy="351.2" r="3.47"/><circle cx="833.6" cy="356.0" r="3.47"/><circle cx="833.1" cy="361.5" r="3.47"/><circle cx="836.5" cy="367.3" r="3.47"/><circle cx="843.9" cy="373.2" r="3.47"/><circle cx="842.7" cy="378.7" r="3.47"/><circle cx="843.6" cy="384.7" r="3.47"/><circle cx="846.1" cy="390.7" r="3.47"/><circle cx="845.9" cy="396.0" r="3.47"/><circle cx="846.6" cy="402.4" r="3.47"/><circle cx="846.6" cy="407.5" r="3.47"/><circle cx="848.1" cy="413.5" r="3.47"/><circle cx="850.7" cy="419.0" r="3.47"/><circle cx="850.5" cy="424.9" r="3.47"/><circle cx="851.9" cy="429.7" r="3.47"/><circle cx="854.8" cy="435.6" r="3.47"/><circle cx="857.8" cy="442.2" r="3.47"/><circle cx="860.6" cy="447.4" r="3.47"/><circle cx="865.7" cy="452.9" r="3.47"/><circle cx="869.1" cy="459.0" r="3.47"/><circle cx="872.7" cy="463.9" r="3.47"/><circle cx="875.5" cy="470.2" r="3.47"/><circle cx="878.8" cy="476.7" r="3.47"/><circle cx="880.3" cy="481.3" r="3.47"/><circle cx="883.4" cy="487.1" r="3.47"/><circle cx="884.5" cy="493.1" r="3.47"/><circle cx="883.4" cy="498.3" r="3.47"/><circle cx="885.1" cy="504.0" r="3.47"/><circle cx="887.9" cy="509.8" r="3.47"/><circle cx="888.8" cy="515.1" r="3.47"/><circle cx="891.7" cy="520.8" r="3.47"/><circle cx="892.1" cy="526.9" r="3.47"/><circle cx="892.0" cy="532.1" r="3.47"/><circle cx="892.5" cy="537.8" r="3.47"/><circle cx="894.3" cy="543.6" r="3.47"/><circle cx="894.3" cy="549.9" r="3.47"/><circle cx="896.3" cy="555.7" r="3.47"/><circle cx="898.7" cy="561.1" r="3.47"/><circle cx="898.7" cy="566.4" r="3.47"/><circle cx="900.8" cy="572.4" r="3.47"/><circle cx="901.4" cy="578.2" r="3.47"/><circle cx="902.5" cy="583.5" r="3.47"/><circle cx="902.9" cy="588.6" r="3.47"/><circle cx="905.8" cy="594.8" r="3.47"/><circle cx="905.4" cy="600.7" r="3.47"/><circle cx="906.2" cy="606.4" r="3.47"/><circle cx="906.8" cy="612.7" r="3.47"/><circle cx="907.5" cy="617.4" r="3.47"/><circle cx="907.4" cy="623.3" r="3.47"/><circle cx="905.8" cy="629.2" r="3.47"/><circle cx="906.3" cy="634.9" r="3.47"/><circle cx="906.6" cy="640.7" r="3.47"/><circle cx="906.7" cy="646.6" r="3.47"/><circle cx="906.5" cy="651.6" r="3.47"/><circle cx="905.0" cy="656.6" r="3.47"/><circle cx="906.4" cy="662.1" r="3.47"/><circle cx="905.3" cy="667.1" r="3.47"/><circle cx="906.4" cy="673.4" r="3.47"/><circle cx="906.5" cy="679.4" r="3.47"/><circle cx="906.0" cy="685.5" r="3.47"/><circle cx="907.3" cy="690.8" r="3.47"/><circle cx="906.5" cy="696.9" r="3.47"/><circle cx="907.2" cy="702.4" r="3.47"/><circle cx="906.1" cy="707.9" r="3.47"/><circle cx="906.9" cy="714.0" r="3.47"/><circle cx="905.9" cy="720.1" r="3.47"/><circle cx="905.7" cy="725.5" r="3.47"/><circle cx="905.8" cy="731.5" r="3.47"/><circle cx="905.8" cy="737.0" r="3.47"/><circle cx="905.4" cy="743.1" r="3.47"/><circle cx="905.0" cy="748.3" r="3.47"/><circle cx="905.5" cy="753.8" r="3.47"/><circle cx="906.2" cy="759.5" r="3.47"/><circle cx="906.9" cy="766.4" r="3.47"/><circle cx="906.5" cy="771.6" r="3.47"/><circle cx="907.4" cy="777.5" r="3.47"/><circle cx="908.5" cy="784.0" r="3.47"/><circle cx="908.4" cy="789.1" r="3.47"/><circle cx="908.7" cy="794.7" r="3.47"/><circle cx="907.9" cy="800.1" r="3.47"/><circle cx="908.1" cy="806.8" r="3.47"/><circle cx="906.7" cy="811.9" r="3.47"/><circle cx="713.8" cy="23.9" r="3.47"/><circle cx="717.4" cy="29.5" r="3.47"/><circle cx="717.7" cy="34.7" r="3.47"/><circle cx="709.5" cy="40.9" r="3.47"/><circle cx="693.9" cy="46.2" r="3.47"/><circle cx="685.0" cy="51.8" r="3.47"/><circle cx="672.5" cy="57.7" r="3.47"/><circle cx="665.0" cy="64.3" r="3.47"/><circle cx="657.4" cy="69.4" r="3.47"/><circle cx="652.2" cy="75.0" r="3.47"/><circle cx="652.2" cy="80.8" r="3.47"/><circle cx="647.1" cy="86.7" r="3.47"/><circle cx="642.0" cy="92.3" r="3.47"/><circle cx="647.5" cy="97.1" r="3.47"/><circle cx="652.8" cy="103.0" r="3.47"/><circle cx="656.3" cy="108.4" r="3.47"/><circle cx="659.2" cy="114.1" r="3.47"/><circle cx="662.3" cy="120.0" r="3.47"/><circle cx="665.8" cy="125.5" r="3.47"/><circle cx="666.5" cy="131.2" r="3.47"/><circle cx="667.6" cy="137.0" r="3.47"/><circle cx="670.1" cy="142.1" r="3.47"/><circle cx="674.1" cy="147.9" r="3.47"/><circle cx="676.8" cy="153.0" r="3.47"/><circle cx="675.9" cy="159.4" r="3.47"/><circle cx="679.6" cy="165.5" r="3.47"/><circle cx="686.4" cy="170.8" r="3.47"/><circle cx="688.6" cy="175.4" r="3.47"/><circle cx="695.0" cy="182.1" r="3.47"/><circle cx="702.7" cy="187.9" r="3.47"/><circle cx="712.1" cy="192.9" r="3.47"/><circle cx="720.9" cy="199.0" r="3.47"/><circle cx="724.4" cy="204.7" r="3.47"/><circle cx="730.6" cy="210.9" r="3.47"/><circle cx="734.6" cy="215.7" r="3.47"/><circle cx="740.8" cy="221.7" r="3.47"/><circle cx="749.1" cy="227.8" r="3.47"/><circle cx="758.4" cy="233.8" r="3.47"/><circle cx="761.7" cy="239.3" r="3.47"/><circle cx="768.5" cy="244.5" r="3.47"/><circle cx="775.7" cy="249.9" r="3.47"/><circle cx="781.8" cy="255.4" r="3.47"/><circle cx="783.7" cy="261.4" r="3.47"/><circle cx="783.6" cy="267.1" r="3.47"/><circle cx="787.1" cy="273.3" r="3.47"/><circle cx="791.4" cy="279.0" r="3.47"/><circle cx="795.2" cy="284.7" r="3.47"/><circle cx="802.0" cy="290.2" r="3.47"/><circle cx="806.9" cy="296.2" r="3.47"/><circle cx="811.5" cy="302.4" r="3.47"/><circle cx="816.2" cy="308.7" r="3.47"/><circle cx="820.2" cy="313.2" r="3.47"/><circle cx="822.3" cy="319.0" r="3.47"/><circle cx="827.2" cy="324.9" r="3.47"/><circle cx="827.8" cy="330.1" r="3.47"/><circle cx="829.3" cy="335.9" r="3.47"/><circle cx="831.4" cy="341.2" r="3.47"/><circle cx="834.5" cy="347.1" r="3.47"/><circle cx="835.7" cy="352.8" r="3.47"/><circle cx="838.5" cy="359.0" r="3.47"/><circle cx="840.1" cy="365.2" r="3.47"/><circle cx="842.4" cy="369.5" r="3.47"/><circle cx="847.1" cy="375.4" r="3.47"/><circle cx="846.8" cy="381.6" r="3.47"/><circle cx="848.4" cy="387.2" r="3.47"/><circle cx="846.9" cy="393.2" r="3.47"/><circle cx="848.8" cy="397.9" r="3.47"/><circle cx="849.9" cy="403.4" r="3.47"/><circle cx="850.2" cy="409.9" r="3.47"/><circle cx="852.1" cy="415.0" r="3.47"/><circle cx="852.9" cy="420.6" r="3.47"/><circle cx="855.4" cy="426.4" r="3.47"/><circle cx="855.4" cy="432.4" r="3.47"/><circle cx="857.0" cy="438.5" r="3.47"/><circle cx="859.8" cy="443.6" r="3.47"/><circle cx="864.0" cy="449.8" r="3.47"/><circle cx="868.6" cy="455.8" r="3.47"/><circle cx="873.5" cy="460.0" r="3.47"/><circle cx="873.5" cy="466.4" r="3.47"/><circle cx="876.8" cy="471.5" r="3.47"/><circle cx="878.7" cy="477.2" r="3.47"/><circle cx="882.2" cy="483.4" r="3.47"/><circle cx="885.3" cy="489.0" r="3.47"/><circle cx="887.1" cy="494.8" r="3.47"/><circle cx="887.3" cy="501.1" r="3.47"/><circle cx="890.0" cy="506.4" r="3.47"/><circle cx="891.4" cy="512.4" r="3.47"/><circle cx="893.6" cy="517.9" r="3.47"/><circle cx="893.6" cy="523.6" r="3.47"/><circle cx="892.2" cy="528.9" r="3.47"/><circle cx="893.8" cy="534.6" r="3.47"/><circle cx="894.8" cy="540.5" r="3.47"/><circle cx="895.6" cy="546.1" r="3.47"/><circle cx="897.1" cy="552.3" r="3.47"/><circle cx="897.7" cy="557.2" r="3.47"/><circle cx="899.0" cy="563.2" r="3.47"/><circle cx="899.5" cy="568.9" r="3.47"/><circle cx="901.5" cy="574.6" r="3.47"/><circle cx="900.8" cy="579.9" r="3.47"/><circle cx="901.9" cy="586.0" r="3.47"/><circle cx="903.0" cy="590.6" r="3.47"/><circle cx="904.6" cy="597.2" r="3.47"/><circle cx="904.5" cy="602.5" r="3.47"/><circle cx="905.4" cy="608.3" r="3.47"/><circle cx="904.7" cy="613.3" r="3.47"/><circle cx="905.3" cy="618.8" r="3.47"/><circle cx="905.5" cy="624.1" r="3.47"/><circle cx="904.3" cy="629.6" r="3.47"/><circle cx="904.1" cy="635.4" r="3.47"/><circle cx="905.4" cy="641.0" r="3.47"/><circle cx="904.3" cy="645.8" r="3.47"/><circle cx="904.6" cy="651.6" r="3.47"/><circle cx="906.5" cy="656.9" r="3.47"/><circle cx="905.8" cy="663.2" r="3.47"/><circle cx="905.2" cy="668.7" r="3.47"/><circle cx="905.9" cy="674.1" r="3.47"/><circle cx="905.2" cy="680.4" r="3.47"/><circle cx="906.8" cy="685.5" r="3.47"/><circle cx="906.4" cy="691.9" r="3.47"/><circle cx="904.8" cy="697.7" r="3.47"/><circle cx="906.6" cy="703.8" r="3.47"/><circle cx="905.8" cy="709.5" r="3.47"/><circle cx="906.8" cy="715.3" r="3.47"/><circle cx="906.5" cy="721.0" r="3.47"/><circle cx="906.3" cy="726.5" r="3.47"/><circle cx="906.5" cy="732.4" r="3.47"/><circle cx="906.9" cy="738.2" r="3.47"/><circle cx="907.9" cy="743.5" r="3.47"/><circle cx="907.9" cy="750.1" r="3.47"/><circle cx="908.0" cy="755.0" r="3.47"/><circle cx="908.8" cy="759.8" r="3.47"/><circle cx="907.8" cy="765.7" r="3.47"/><circle cx="907.3" cy="771.8" r="3.47"/><circle cx="907.6" cy="777.6" r="3.47"/><circle cx="907.9" cy="783.1" r="3.47"/><circle cx="907.4" cy="788.7" r="3.47"/><circle cx="907.9" cy="794.3" r="3.47"/><circle cx="907.7" cy="800.2" r="3.47"/><circle cx="906.6" cy="805.3" r="3.47"/><circle cx="907.0" cy="810.9" r="3.47"/><circle cx="713.9" cy="21.2" r="3.47"/><circle cx="717.8" cy="26.5" r="3.47"/><circle cx="718.2" cy="31.7" r="3.47"/><circle cx="715.6" cy="37.3" r="3.47"/><circle cx="708.5" cy="44.2" r="3.47"/><circle cx="703.3" cy="49.0" r="3.47"/><circle cx="692.7" cy="55.1" r="3.47"/><circle cx="679.3" cy="60.0" r="3.47"/><circle cx="670.7" cy="66.1" r="3.47"/><circle cx="660.7" cy="71.4" r="3.47"/><circle cx="655.5" cy="77.0" r="3.47"/><circle cx="653.1" cy="83.2" r="3.47"/><circle cx="655.0" cy="88.5" r="3.47"/><circle cx="653.6" cy="93.5" r="3.47"/><circle cx="651.9" cy="100.0" r="3.47"/><circle cx="652.1" cy="105.5" r="3.47"/><circle cx="657.7" cy="110.3" r="3.47"/><circle cx="663.2" cy="115.5" r="3.47"/><circle cx="674.0" cy="121.5" r="3.47"/><circle cx="675.6" cy="126.5" r="3.47"/><circle cx="675.1" cy="132.5" r="3.47"/><circle cx="679.0" cy="137.9" r="3.47"/><circle cx="678.1" cy="143.0" r="3.47"/><circle cx="683.7" cy="149.7" r="3.47"/><circle cx="688.0" cy="155.1" r="3.47"/><circle cx="688.9" cy="160.0" r="3.47"/><circle cx="694.3" cy="166.3" r="3.47"/><circle cx="697.0" cy="171.5" r="3.47"/><circle cx="708.7" cy="176.1" r="3.47"/><circle cx="708.6" cy="181.8" r="3.47"/><circle cx="719.1" cy="188.4" r="3.47"/><circle cx="728.4" cy="193.5" r="3.47"/><circle cx="729.9" cy="200.1" r="3.47"/><circle cx="734.1" cy="205.2" r="3.47"/><circle cx="736.8" cy="210.9" r="3.47"/><circle cx="744.7" cy="216.7" r="3.47"/><circle cx="749.7" cy="221.7" r="3.47"/><circle cx="759.6" cy="228.3" r="3.47"/><circle cx="766.5" cy="233.1" r="3.47"/><circle cx="771.9" cy="238.5" r="3.47"/><circle cx="776.9" cy="244.7" r="3.47"/><circle cx="782.4" cy="249.6" r="3.47"/><circle cx="787.8" cy="255.4" r="3.47"/><circle cx="792.1" cy="260.8" r="3.47"/><circle cx="798.4" cy="265.9" r="3.47"/><circle cx="802.2" cy="272.4" r="3.47"/><circle cx="805.7" cy="277.6" r="3.47"/><circle cx="809.9" cy="283.2" r="3.47"/><circle cx="812.9" cy="289.1" r="3.47"/><circle cx="815.4" cy="294.5" r="3.47"/><circle cx="819.7" cy="300.6" r="3.47"/><circle cx="820.3" cy="306.4" r="3.47"/><circle cx="822.6" cy="312.5" r="3.47"/><circle cx="825.5" cy="317.3" r="3.47"/><circle cx="828.4" cy="323.1" r="3.47"/><circle cx="831.4" cy="328.7" r="3.47"/><circle cx="835.0" cy="334.6" r="3.47"/><circle cx="838.4" cy="340.1" r="3.47"/><circle cx="841.0" cy="346.0" r="3.47"/><circle cx="842.4" cy="352.3" r="3.47"/><circle cx="844.2" cy="357.2" r="3.47"/><circle cx="847.2" cy="363.1" r="3.47"/><circle cx="847.0" cy="368.8" r="3.47"/><circle cx="849.9" cy="374.7" r="3.47"/><circle cx="850.1" cy="381.0" r="3.47"/><circle cx="852.3" cy="386.1" r="3.47"/><circle cx="852.5" cy="391.9" r="3.47"/><circle cx="853.8" cy="396.6" r="3.47"/><circle cx="856.1" cy="401.9" r="3.47"/><circle cx="857.4" cy="408.2" r="3.47"/><circle cx="858.8" cy="413.2" r="3.47"/><circle cx="860.4" cy="418.9" r="3.47"/><circle cx="862.6" cy="424.8" r="3.47"/><circle cx="863.8" cy="431.2" r="3.47"/><circle cx="864.8" cy="436.0" r="3.47"/><circle cx="867.2" cy="441.1" r="3.47"/><circle cx="870.4" cy="446.9" r="3.47"/><circle cx="874.5" cy="452.5" r="3.47"/><circle cx="880.1" cy="458.3" r="3.47"/><circle cx="883.0" cy="462.9" r="3.47"/><circle cx="883.3" cy="469.6" r="3.47"/><circle cx="885.6" cy="474.9" r="3.47"/><circle cx="889.1" cy="481.0" r="3.47"/><circle cx="889.9" cy="486.6" r="3.47"/><circle cx="890.4" cy="492.6" r="3.47"/><circle cx="890.1" cy="498.0" r="3.47"/><circle cx="893.4" cy="504.6" r="3.47"/><circle cx="893.5" cy="509.8" r="3.47"/><circle cx="895.0" cy="516.1" r="3.47"/><circle cx="894.2" cy="522.1" r="3.47"/><circle cx="895.6" cy="526.9" r="3.47"/><circle cx="897.0" cy="533.1" r="3.47"/><circle cx="897.7" cy="538.1" r="3.47"/><circle cx="899.3" cy="543.6" r="3.47"/><circle cx="900.2" cy="548.5" r="3.47"/><circle cx="901.0" cy="554.4" r="3.47"/><circle cx="902.6" cy="560.0" r="3.47"/><circle cx="904.3" cy="566.2" r="3.47"/><circle cx="903.0" cy="572.2" r="3.47"/><circle cx="903.6" cy="577.7" r="3.47"/><circle cx="905.1" cy="583.2" r="3.47"/><circle cx="907.2" cy="589.0" r="3.47"/><circle cx="907.0" cy="595.2" r="3.47"/><circle cx="907.4" cy="601.1" r="3.47"/><circle cx="907.4" cy="606.3" r="3.47"/><circle cx="907.4" cy="611.8" r="3.47"/><circle cx="909.3" cy="617.6" r="3.47"/><circle cx="908.9" cy="622.9" r="3.47"/><circle cx="908.0" cy="628.6" r="3.47"/><circle cx="907.6" cy="635.1" r="3.47"/><circle cx="906.2" cy="640.5" r="3.47"/><circle cx="907.8" cy="645.9" r="3.47"/><circle cx="907.4" cy="652.3" r="3.47"/><circle cx="907.4" cy="657.5" r="3.47"/><circle cx="907.9" cy="663.6" r="3.47"/><circle cx="908.0" cy="669.6" r="3.47"/><circle cx="908.6" cy="674.7" r="3.47"/><circle cx="908.2" cy="679.9" r="3.47"/><circle cx="907.5" cy="685.3" r="3.47"/><circle cx="907.6" cy="691.4" r="3.47"/><circle cx="909.0" cy="697.2" r="3.47"/><circle cx="909.9" cy="703.0" r="3.47"/><circle cx="909.1" cy="708.6" r="3.47"/><circle cx="909.3" cy="714.6" r="3.47"/><circle cx="908.7" cy="719.7" r="3.47"/><circle cx="909.2" cy="725.3" r="3.47"/><circle cx="909.7" cy="731.1" r="3.47"/><circle cx="909.9" cy="737.2" r="3.47"/><circle cx="909.1" cy="742.9" r="3.47"/><circle cx="909.2" cy="748.2" r="3.47"/><circle cx="910.2" cy="754.3" r="3.47"/><circle cx="910.8" cy="759.2" r="3.47"/><circle cx="910.1" cy="764.9" r="3.47"/><circle cx="909.7" cy="770.6" r="3.47"/><circle cx="909.1" cy="775.9" r="3.47"/><circle cx="909.1" cy="781.5" r="3.47"/><circle cx="910.3" cy="787.3" r="3.47"/><circle cx="911.2" cy="793.8" r="3.47"/><circle cx="910.9" cy="798.5" r="3.47"/><circle cx="910.3" cy="803.8" r="3.47"/><circle cx="910.3" cy="809.7" r="3.47"/><circle cx="719.7" cy="21.3" r="3.47"/><circle cx="721.1" cy="27.7" r="3.47"/><circle cx="722.6" cy="33.2" r="3.47"/><circle cx="720.8" cy="39.0" r="3.47"/><circle cx="721.7" cy="44.3" r="3.47"/><circle cx="712.6" cy="50.2" r="3.47"/><circle cx="710.3" cy="56.0" r="3.47"/><circle cx="705.4" cy="61.8" r="3.47"/><circle cx="703.4" cy="67.9" r="3.47"/><circle cx="698.0" cy="73.0" r="3.47"/><circle cx="695.3" cy="79.1" r="3.47"/><circle cx="697.1" cy="85.0" r="3.47"/><circle cx="700.9" cy="90.2" r="3.47"/><circle cx="701.2" cy="95.2" r="3.47"/><circle cx="704.7" cy="100.6" r="3.47"/><circle cx="704.9" cy="106.3" r="3.47"/><circle cx="702.4" cy="112.1" r="3.47"/><circle cx="697.5" cy="118.3" r="3.47"/><circle cx="694.7" cy="122.9" r="3.47"/><circle cx="694.8" cy="128.7" r="3.47"/><circle cx="694.6" cy="134.4" r="3.47"/><circle cx="701.2" cy="139.8" r="3.47"/><circle cx="702.8" cy="146.2" r="3.47"/><circle cx="710.6" cy="151.1" r="3.47"/><circle cx="712.7" cy="156.5" r="3.47"/><circle cx="722.2" cy="162.3" r="3.47"/><circle cx="718.9" cy="167.5" r="3.47"/><circle cx="727.4" cy="173.2" r="3.47"/><circle cx="731.8" cy="178.6" r="3.47"/><circle cx="740.9" cy="184.8" r="3.47"/><circle cx="748.0" cy="190.4" r="3.47"/><circle cx="750.8" cy="196.6" r="3.47"/><circle cx="755.6" cy="202.4" r="3.47"/><circle cx="762.0" cy="208.4" r="3.47"/><circle cx="776.0" cy="213.5" r="3.47"/><circle cx="787.5" cy="219.6" r="3.47"/><circle cx="786.4" cy="225.7" r="3.47"/><circle cx="791.1" cy="232.0" r="3.47"/><circle cx="794.2" cy="236.7" r="3.47"/><circle cx="798.7" cy="243.4" r="3.47"/><circle cx="798.0" cy="248.2" r="3.47"/><circle cx="801.0" cy="254.4" r="3.47"/><circle cx="800.7" cy="260.1" r="3.47"/><circle cx="801.3" cy="265.8" r="3.47"/><circle cx="802.0" cy="270.7" r="3.47"/><circle cx="808.4" cy="276.7" r="3.47"/><circle cx="814.3" cy="282.4" r="3.47"/><circle cx="816.3" cy="287.1" r="3.47"/><circle cx="816.8" cy="292.7" r="3.47"/><circle cx="821.4" cy="299.3" r="3.47"/><circle cx="826.2" cy="304.5" r="3.47"/><circle cx="828.9" cy="310.0" r="3.47"/><circle cx="833.6" cy="315.9" r="3.47"/><circle cx="838.7" cy="321.3" r="3.47"/><circle cx="842.9" cy="327.0" r="3.47"/><circle cx="843.2" cy="332.5" r="3.47"/><circle cx="844.5" cy="338.6" r="3.47"/><circle cx="848.6" cy="343.4" r="3.47"/><circle cx="854.1" cy="350.2" r="3.47"/><circle cx="855.9" cy="355.4" r="3.47"/><circle cx="857.4" cy="360.5" r="3.47"/><circle cx="860.2" cy="365.9" r="3.47"/><circle cx="863.9" cy="372.6" r="3.47"/><circle cx="866.9" cy="377.8" r="3.47"/><circle cx="869.6" cy="383.6" r="3.47"/><circle cx="867.7" cy="389.8" r="3.47"/><circle cx="869.0" cy="395.2" r="3.47"/><circle cx="872.2" cy="400.8" r="3.47"/><circle cx="875.8" cy="406.4" r="3.47"/><circle cx="876.5" cy="412.7" r="3.47"/><circle cx="876.6" cy="418.7" r="3.47"/><circle cx="876.3" cy="424.3" r="3.47"/><circle cx="875.7" cy="429.8" r="3.47"/><circle cx="875.5" cy="435.8" r="3.47"/><circle cx="875.8" cy="441.4" r="3.47"/><circle cx="879.4" cy="447.5" r="3.47"/><circle cx="882.0" cy="452.5" r="3.47"/><circle cx="886.6" cy="458.7" r="3.47"/><circle cx="886.5" cy="463.6" r="3.47"/><circle cx="890.2" cy="469.8" r="3.47"/><circle cx="892.0" cy="474.8" r="3.47"/><circle cx="893.3" cy="480.6" r="3.47"/><circle cx="894.2" cy="486.0" r="3.47"/><circle cx="896.3" cy="492.3" r="3.47"/><circle cx="897.5" cy="497.3" r="3.47"/><circle cx="897.1" cy="502.7" r="3.47"/><circle cx="898.4" cy="507.6" r="3.47"/><circle cx="900.2" cy="513.3" r="3.47"/><circle cx="899.7" cy="519.2" r="3.47"/><circle cx="901.2" cy="524.9" r="3.47"/><circle cx="899.4" cy="530.3" r="3.47"/><circle cx="901.9" cy="535.6" r="3.47"/><circle cx="902.1" cy="542.1" r="3.47"/><circle cx="901.9" cy="547.3" r="3.47"/><circle cx="902.1" cy="553.2" r="3.47"/><circle cx="902.2" cy="558.5" r="3.47"/><circle cx="904.9" cy="564.1" r="3.47"/><circle cx="905.9" cy="569.8" r="3.47"/><circle cx="907.6" cy="575.2" r="3.47"/><circle cx="907.6" cy="580.3" r="3.47"/><circle cx="906.3" cy="585.9" r="3.47"/><circle cx="906.9" cy="591.1" r="3.47"/><circle cx="906.5" cy="597.0" r="3.47"/><circle cx="905.9" cy="602.1" r="3.47"/><circle cx="906.9" cy="608.7" r="3.47"/><circle cx="906.8" cy="615.2" r="3.47"/><circle cx="905.5" cy="620.6" r="3.47"/><circle cx="905.7" cy="625.9" r="3.47"/><circle cx="908.9" cy="631.9" r="3.47"/><circle cx="907.3" cy="638.0" r="3.47"/><circle cx="907.0" cy="643.5" r="3.47"/><circle cx="906.9" cy="649.2" r="3.47"/><circle cx="908.1" cy="655.4" r="3.47"/><circle cx="908.0" cy="659.5" r="3.47"/><circle cx="908.0" cy="666.3" r="3.47"/><circle cx="907.8" cy="672.0" r="3.47"/><circle cx="908.5" cy="677.0" r="3.47"/><circle cx="907.2" cy="683.0" r="3.47"/><circle cx="906.6" cy="689.2" r="3.47"/><circle cx="907.9" cy="693.6" r="3.47"/><circle cx="907.2" cy="700.7" r="3.47"/><circle cx="907.2" cy="705.7" r="3.47"/><circle cx="908.1" cy="711.0" r="3.47"/><circle cx="906.9" cy="717.0" r="3.47"/><circle cx="907.1" cy="722.8" r="3.47"/><circle cx="907.8" cy="727.5" r="3.47"/><circle cx="908.1" cy="733.4" r="3.47"/><circle cx="908.3" cy="738.9" r="3.47"/><circle cx="908.9" cy="744.8" r="3.47"/><circle cx="909.8" cy="750.3" r="3.47"/><circle cx="908.8" cy="756.2" r="3.47"/><circle cx="909.4" cy="762.7" r="3.47"/><circle cx="908.2" cy="768.9" r="3.47"/><circle cx="909.0" cy="773.6" r="3.47"/><circle cx="909.2" cy="779.7" r="3.47"/><circle cx="909.4" cy="785.4" r="3.47"/><circle cx="909.9" cy="791.4" r="3.47"/><circle cx="911.4" cy="796.4" r="3.47"/><circle cx="911.1" cy="802.7" r="3.47"/><circle cx="909.9" cy="808.2" r="3.47"/><circle cx="723.4" cy="24.6" r="3.47"/><circle cx="722.3" cy="29.6" r="3.47"/><circle cx="725.8" cy="34.2" r="3.47"/><circle cx="724.4" cy="40.3" r="3.47"/><circle cx="720.2" cy="45.7" r="3.47"/><circle cx="713.8" cy="51.5" r="3.47"/><circle cx="705.2" cy="57.4" r="3.47"/><circle cx="692.5" cy="62.3" r="3.47"/><circle cx="689.0" cy="67.9" r="3.47"/><circle cx="680.5" cy="74.2" r="3.47"/><circle cx="680.3" cy="79.1" r="3.47"/><circle cx="678.0" cy="85.0" r="3.47"/><circle cx="673.6" cy="90.3" r="3.47"/><circle cx="678.3" cy="97.0" r="3.47"/><circle cx="679.5" cy="102.4" r="3.47"/><circle cx="677.2" cy="107.9" r="3.47"/><circle cx="679.7" cy="113.7" r="3.47"/><circle cx="681.0" cy="119.1" r="3.47"/><circle cx="682.9" cy="124.8" r="3.47"/><circle cx="685.5" cy="130.3" r="3.47"/><circle cx="690.1" cy="136.1" r="3.47"/><circle cx="693.8" cy="141.0" r="3.47"/><circle cx="695.5" cy="147.5" r="3.47"/><circle cx="697.4" cy="153.3" r="3.47"/><circle cx="701.6" cy="158.7" r="3.47"/><circle cx="705.4" cy="165.0" r="3.47"/><circle cx="706.5" cy="170.5" r="3.47"/><circle cx="714.2" cy="176.8" r="3.47"/><circle cx="724.7" cy="181.8" r="3.47"/><circle cx="729.6" cy="187.2" r="3.47"/><circle cx="739.5" cy="193.4" r="3.47"/><circle cx="745.3" cy="198.7" r="3.47"/><circle cx="747.7" cy="204.6" r="3.47"/><circle cx="752.5" cy="210.5" r="3.47"/><circle cx="762.3" cy="217.1" r="3.47"/><circle cx="763.4" cy="222.3" r="3.47"/><circle cx="772.0" cy="227.8" r="3.47"/><circle cx="778.6" cy="233.5" r="3.47"/><circle cx="783.4" cy="239.8" r="3.47"/><circle cx="786.1" cy="246.0" r="3.47"/><circle cx="792.0" cy="251.3" r="3.47"/><circle cx="796.5" cy="257.4" r="3.47"/><circle cx="799.4" cy="262.7" r="3.47"/><circle cx="801.6" cy="269.0" r="3.47"/><circle cx="803.1" cy="275.1" r="3.47"/><circle cx="808.5" cy="279.7" r="3.47"/><circle cx="815.3" cy="286.1" r="3.47"/><circle cx="819.6" cy="292.0" r="3.47"/><circle cx="819.2" cy="296.5" r="3.47"/><circle cx="819.9" cy="303.0" r="3.47"/><circle cx="825.5" cy="308.0" r="3.47"/><circle cx="829.2" cy="313.9" r="3.47"/><circle cx="832.4" cy="319.4" r="3.47"/><circle cx="835.9" cy="325.2" r="3.47"/><circle cx="838.2" cy="330.3" r="3.47"/><circle cx="837.0" cy="335.1" r="3.47"/><circle cx="838.1" cy="341.0" r="3.47"/><circle cx="840.9" cy="346.0" r="3.47"/><circle cx="843.2" cy="352.0" r="3.47"/><circle cx="845.7" cy="356.7" r="3.47"/><circle cx="849.5" cy="363.3" r="3.47"/><circle cx="852.4" cy="368.8" r="3.47"/><circle cx="854.5" cy="374.4" r="3.47"/><circle cx="858.6" cy="379.9" r="3.47"/><circle cx="859.2" cy="385.7" r="3.47"/><circle cx="861.5" cy="390.8" r="3.47"/><circle cx="863.2" cy="396.6" r="3.47"/><circle cx="866.7" cy="402.2" r="3.47"/><circle cx="867.6" cy="408.2" r="3.47"/><circle cx="866.2" cy="414.1" r="3.47"/><circle cx="870.3" cy="420.6" r="3.47"/><circle cx="869.9" cy="425.5" r="3.47"/><circle cx="870.6" cy="431.8" r="3.47"/><circle cx="871.7" cy="436.7" r="3.47"/><circle cx="874.7" cy="443.2" r="3.47"/><circle cx="876.6" cy="449.3" r="3.47"/><circle cx="880.7" cy="455.0" r="3.47"/><circle cx="882.3" cy="460.5" r="3.47"/><circle cx="884.7" cy="466.1" r="3.47"/><circle cx="885.6" cy="472.3" r="3.47"/><circle cx="888.9" cy="477.6" r="3.47"/><circle cx="890.5" cy="482.6" r="3.47"/><circle cx="891.4" cy="488.8" r="3.47"/><circle cx="895.1" cy="494.9" r="3.47"/><circle cx="893.3" cy="499.4" r="3.47"/><circle cx="894.1" cy="506.0" r="3.47"/><circle cx="893.8" cy="511.7" r="3.47"/><circle cx="897.0" cy="518.0" r="3.47"/><circle cx="897.9" cy="523.8" r="3.47"/><circle cx="898.0" cy="528.9" r="3.47"/><circle cx="897.7" cy="535.3" r="3.47"/><circle cx="898.0" cy="540.5" r="3.47"/><circle cx="898.4" cy="545.9" r="3.47"/><circle cx="899.9" cy="551.3" r="3.47"/><circle cx="900.7" cy="558.0" r="3.47"/><circle cx="902.6" cy="563.7" r="3.47"/><circle cx="903.1" cy="569.2" r="3.47"/><circle cx="901.7" cy="575.3" r="3.47"/><circle cx="901.7" cy="580.6" r="3.47"/><circle cx="902.5" cy="586.0" r="3.47"/><circle cx="903.9" cy="592.0" r="3.47"/><circle cx="903.6" cy="597.9" r="3.47"/><circle cx="904.4" cy="603.0" r="3.47"/><circle cx="904.1" cy="608.6" r="3.47"/><circle cx="905.1" cy="614.2" r="3.47"/><circle cx="904.1" cy="620.3" r="3.47"/><circle cx="903.9" cy="625.9" r="3.47"/><circle cx="904.3" cy="631.1" r="3.47"/><circle cx="906.4" cy="637.5" r="3.47"/><circle cx="907.1" cy="643.3" r="3.47"/><circle cx="907.6" cy="648.2" r="3.47"/><circle cx="907.8" cy="654.4" r="3.47"/><circle cx="907.8" cy="660.0" r="3.47"/><circle cx="907.2" cy="666.0" r="3.47"/><circle cx="906.3" cy="671.0" r="3.47"/><circle cx="908.7" cy="676.6" r="3.47"/><circle cx="907.5" cy="682.3" r="3.47"/><circle cx="907.4" cy="688.0" r="3.47"/><circle cx="908.0" cy="695.0" r="3.47"/><circle cx="908.2" cy="699.9" r="3.47"/><circle cx="907.7" cy="704.4" r="3.47"/><circle cx="909.5" cy="711.1" r="3.47"/><circle cx="909.9" cy="716.4" r="3.47"/><circle cx="909.3" cy="721.3" r="3.47"/><circle cx="909.3" cy="727.9" r="3.47"/><circle cx="910.7" cy="733.2" r="3.47"/><circle cx="909.4" cy="738.1" r="3.47"/><circle cx="909.2" cy="744.1" r="3.47"/><circle cx="908.8" cy="750.6" r="3.47"/><circle cx="907.9" cy="756.5" r="3.47"/><circle cx="907.9" cy="761.7" r="3.47"/><circle cx="909.2" cy="767.4" r="3.47"/><circle cx="908.3" cy="772.6" r="3.47"/><circle cx="909.5" cy="779.3" r="3.47"/><circle cx="909.6" cy="784.7" r="3.47"/><circle cx="908.2" cy="791.4" r="3.47"/><circle cx="907.0" cy="796.5" r="3.47"/><circle cx="909.4" cy="802.6" r="3.47"/><circle cx="909.1" cy="808.4" r="3.47"/><circle cx="909.8" cy="813.0" r="3.47"/><circle cx="712.6" cy="19.4" r="3.47"/><circle cx="713.1" cy="25.3" r="3.47"/><circle cx="714.5" cy="31.5" r="3.47"/><circle cx="713.0" cy="37.6" r="3.47"/><circle cx="714.1" cy="43.5" r="3.47"/><circle cx="712.1" cy="49.6" r="3.47"/><circle cx="698.6" cy="55.4" r="3.47"/><circle cx="685.9" cy="61.5" r="3.47"/><circle cx="677.7" cy="67.6" r="3.47"/><circle cx="670.8" cy="73.8" r="3.47"/><circle cx="670.1" cy="78.8" r="3.47"/><circle cx="666.3" cy="83.9" r="3.47"/><circle cx="667.2" cy="90.2" r="3.47"/><circle cx="668.5" cy="96.7" r="3.47"/><circle cx="666.7" cy="102.3" r="3.47"/><circle cx="668.2" cy="107.7" r="3.47"/><circle cx="671.6" cy="114.0" r="3.47"/><circle cx="673.7" cy="119.3" r="3.47"/><circle cx="675.3" cy="125.9" r="3.47"/><circle cx="681.9" cy="131.6" r="3.47"/><circle cx="683.8" cy="137.0" r="3.47"/><circle cx="681.5" cy="142.4" r="3.47"/><circle cx="688.4" cy="148.4" r="3.47"/><circle cx="689.2" cy="154.0" r="3.47"/><circle cx="690.9" cy="159.9" r="3.47"/><circle cx="697.8" cy="165.1" r="3.47"/><circle cx="704.4" cy="170.6" r="3.47"/><circle cx="707.3" cy="176.7" r="3.47"/><circle cx="713.0" cy="182.4" r="3.47"/><circle cx="720.9" cy="188.6" r="3.47"/><circle cx="726.2" cy="193.6" r="3.47"/><circle cx="732.4" cy="199.3" r="3.47"/><circle cx="736.8" cy="204.5" r="3.47"/><circle cx="743.2" cy="210.3" r="3.47"/><circle cx="750.5" cy="216.5" r="3.47"/><circle cx="760.7" cy="221.7" r="3.47"/><circle cx="762.8" cy="226.8" r="3.47"/><circle cx="770.4" cy="232.0" r="3.47"/><circle cx="773.7" cy="236.8" r="3.47"/><circle cx="777.8" cy="243.1" r="3.47"/><circle cx="781.4" cy="248.9" r="3.47"/><circle cx="782.7" cy="254.8" r="3.47"/><circle cx="787.8" cy="260.3" r="3.47"/><circle cx="791.1" cy="265.9" r="3.47"/><circle cx="797.4" cy="271.8" r="3.47"/><circle cx="796.7" cy="277.0" r="3.47"/><circle cx="801.5" cy="281.8" r="3.47"/><circle cx="807.5" cy="288.9" r="3.47"/><circle cx="813.3" cy="294.8" r="3.47"/><circle cx="814.6" cy="299.9" r="3.47"/><circle cx="817.8" cy="305.3" r="3.47"/><circle cx="821.0" cy="311.8" r="3.47"/><circle cx="822.4" cy="316.3" r="3.47"/><circle cx="827.0" cy="321.9" r="3.47"/><circle cx="831.5" cy="328.0" r="3.47"/><circle cx="834.2" cy="333.8" r="3.47"/><circle cx="836.7" cy="338.6" r="3.47"/><circle cx="836.4" cy="345.5" r="3.47"/><circle cx="839.0" cy="351.2" r="3.47"/><circle cx="842.5" cy="356.6" r="3.47"/><circle cx="843.1" cy="363.2" r="3.47"/><circle cx="844.8" cy="369.2" r="3.47"/><circle cx="848.1" cy="374.8" r="3.47"/><circle cx="851.1" cy="380.4" r="3.47"/><circle cx="850.7" cy="386.2" r="3.47"/><circle cx="851.8" cy="391.8" r="3.47"/><circle cx="854.6" cy="397.6" r="3.47"/><circle cx="857.0" cy="402.9" r="3.47"/><circle cx="859.2" cy="408.9" r="3.47"/><circle cx="858.6" cy="414.5" r="3.47"/><circle cx="861.5" cy="420.1" r="3.47"/><circle cx="861.7" cy="426.2" r="3.47"/><circle cx="864.8" cy="431.4" r="3.47"/><circle cx="867.8" cy="437.8" r="3.47"/><circle cx="868.8" cy="443.1" r="3.47"/><circle cx="871.4" cy="448.2" r="3.47"/><circle cx="874.7" cy="453.9" r="3.47"/><circle cx="879.5" cy="459.6" r="3.47"/><circle cx="882.9" cy="465.2" r="3.47"/><circle cx="883.8" cy="471.3" r="3.47"/><circle cx="885.7" cy="477.7" r="3.47"/><circle cx="885.7" cy="482.7" r="3.47"/><circle cx="887.4" cy="488.3" r="3.47"/><circle cx="888.5" cy="494.0" r="3.47"/><circle cx="888.7" cy="500.3" r="3.47"/><circle cx="889.3" cy="506.2" r="3.47"/><circle cx="891.4" cy="511.5" r="3.47"/><circle cx="892.0" cy="516.9" r="3.47"/><circle cx="893.2" cy="522.9" r="3.47"/><circle cx="894.0" cy="528.3" r="3.47"/><circle cx="895.8" cy="533.6" r="3.47"/><circle cx="897.7" cy="540.1" r="3.47"/><circle cx="897.8" cy="546.1" r="3.47"/><circle cx="899.1" cy="552.0" r="3.47"/><circle cx="899.9" cy="557.5" r="3.47"/><circle cx="899.5" cy="563.2" r="3.47"/><circle cx="901.0" cy="568.5" r="3.47"/><circle cx="902.0" cy="574.5" r="3.47"/><circle cx="902.2" cy="579.5" r="3.47"/><circle cx="901.9" cy="586.2" r="3.47"/><circle cx="901.5" cy="590.9" r="3.47"/><circle cx="902.3" cy="596.2" r="3.47"/><circle cx="903.2" cy="602.3" r="3.47"/><circle cx="902.4" cy="608.3" r="3.47"/><circle cx="902.2" cy="614.3" r="3.47"/><circle cx="901.0" cy="620.0" r="3.47"/><circle cx="902.2" cy="625.2" r="3.47"/><circle cx="901.2" cy="632.2" r="3.47"/><circle cx="903.1" cy="637.2" r="3.47"/><circle cx="903.2" cy="642.5" r="3.47"/><circle cx="903.0" cy="647.9" r="3.47"/><circle cx="902.3" cy="654.2" r="3.47"/><circle cx="902.9" cy="659.6" r="3.47"/><circle cx="902.1" cy="664.9" r="3.47"/><circle cx="902.0" cy="671.2" r="3.47"/><circle cx="901.9" cy="676.9" r="3.47"/><circle cx="903.4" cy="682.4" r="3.47"/><circle cx="903.7" cy="687.7" r="3.47"/><circle cx="902.7" cy="693.8" r="3.47"/><circle cx="903.4" cy="698.6" r="3.47"/><circle cx="904.0" cy="705.5" r="3.47"/><circle cx="904.5" cy="710.9" r="3.47"/><circle cx="904.0" cy="717.1" r="3.47"/><circle cx="905.5" cy="722.8" r="3.47"/><circle cx="904.5" cy="728.1" r="3.47"/><circle cx="904.6" cy="734.5" r="3.47"/><circle cx="904.6" cy="739.8" r="3.47"/><circle cx="904.9" cy="746.3" r="3.47"/><circle cx="905.7" cy="752.0" r="3.47"/><circle cx="906.4" cy="757.4" r="3.47"/><circle cx="904.9" cy="763.2" r="3.47"/><circle cx="906.1" cy="769.0" r="3.47"/><circle cx="906.6" cy="775.6" r="3.47"/><circle cx="906.6" cy="780.4" r="3.47"/><circle cx="906.5" cy="786.6" r="3.47"/><circle cx="905.9" cy="791.8" r="3.47"/><circle cx="905.6" cy="797.5" r="3.47"/><circle cx="906.5" cy="803.6" r="3.47"/><circle cx="905.9" cy="810.2" r="3.47"/></g>
<path d="M716.0 22.0L718.0 31.9L716.5 41.9L707.6 51.8L680.7 61.8L666.3 71.7L661.3 81.7L655.6 91.6L657.3 101.6L663.4 111.5L673.3 121.5L676.4 131.4L682.6 141.4L687.5 151.3L691.7 161.3L697.4 171.2L708.3 181.2L722.5 191.1L731.0 201.1L740.1 211.0L752.2 221.0L762.5 230.9L772.0 240.9L780.3 250.8L788.2 260.8L796.3 270.7L804.3 280.7L810.4 290.6L817.1 300.6L821.3 310.5L827.4 320.5L833.1 330.4L836.2 340.4L840.1 350.3L844.4 360.3L847.9 370.2L851.5 380.2L854.1 390.1L856.7 400.1L859.2 410.0L861.7 420.0L864.2 429.9L867.0 439.9L872.0 449.8L879.8 459.8L883.3 469.7L887.1 479.7L890.4 489.6L891.4 499.6L893.8 509.5L895.8 519.5L897.1 529.4L898.4 539.4L899.8 549.3L901.5 559.3L903.0 569.2L903.9 579.2L904.7 589.1L904.9 599.1L905.1 609.0L905.3 619.0L905.6 628.9L905.9 638.9L906.2 648.8L906.5 658.8L906.7 668.7L906.9 678.7L907.0 688.6L907.2 698.6L907.3 708.5L907.4 718.5L907.5 728.4L907.6 738.4L907.7 748.3L907.7 758.3L907.8 768.2L908.0 778.2L908.1 788.1L908.2 798.1L908.3 808.0" fill="none" stroke="#0000ff" stroke-width="2.7" stroke-linejoin="round" stroke-linecap="butt"/>
<g fill="#0000ff"><circle cx="716.0" cy="22.0" r="6.08"/><circle cx="718.0" cy="31.9" r="6.08"/><circle cx="716.5" cy="41.9" r="6.08"/><circle cx="707.6" cy="51.8" r="6.08"/><circle cx="680.7" cy="61.8" r="6.08"/><circle cx="666.3" cy="71.7" r="6.08"/><circle cx="661.3" cy="81.7" r="6.08"/><circle cx="655.6" cy="91.6" r="6.08"/><circle cx="657.3" cy="101.6" r="6.08"/><circle cx="663.4" cy="111.5" r="6.08"/><circle cx="673.3" cy="121.5" r="6.08"/><circle cx="676.4" cy="131.4" r="6.08"/><circle cx="682.6" cy="141.4" r="6.08"/><circle cx="687.5" cy="151.3" r="6.08"/><circle cx="691.7" cy="161.3" r="6.08"/><circle cx="697.4" cy="171.2" r="6.08"/><circle cx="708.3" cy="181.2" r="6.08"/><circle cx="722.5" cy="191.1" r="6.08"/><circle cx="731.0" cy="201.1" r="6.08"/><circle cx="740.1" cy="211.0" r="6.08"/><circle cx="752.2" cy="221.0" r="6.08"/><circle cx="762.5" cy="230.9" r="6.08"/><circle cx="772.0" cy="240.9" r="6.08"/><circle cx="780.3" cy="250.8" r="6.08"/><circle cx="788.2" cy="260.8" r="6.08"/><circle cx="796.3" cy="270.7" r="6.08"/><circle cx="804.3" cy="280.7" r="6.08"/><circle cx="810.4" cy="290.6" r="6.08"/><circle cx="817.1" cy="300.6" r="6.08"/><circle cx="821.3" cy="310.5" r="6.08"/><circle cx="827.4" cy="320.5" r="6.08"/><circle cx="833.1" cy="330.4" r="6.08"/><circle cx="836.2" cy="340.4" r="6.08"/><circle cx="840.1" cy="350.3" r="6.08"/><circle cx="844.4" cy="360.3" r="6.08"/><circle cx="847.9" cy="370.2" r="6.08"/><circle cx="851.5" cy="380.2" r="6.08"/><circle cx="854.1" cy="390.1" r="6.08"/><circle cx="856.7" cy="400.1" r="6.08"/><circle cx="859.2" cy="410.0" r="6.08"/><circle cx="861.7" cy="420.0" r="6.08"/><circle cx="864.2" cy="429.9" r="6.08"/><circle cx="867.0" cy="439.9" r="6.08"/><circle cx="872.0" cy="449.8" r="6.08"/><circle cx="879.8" cy="459.8" r="6.08"/><circle cx="883.3" cy="469.7" r="6.08"/><circle cx="887.1" cy="479.7" r="6.08"/><circle cx="890.4" cy="489.6" r="6.08"/><circle cx="891.4" cy="499.6" r="6.08"/><circle cx="893.8" cy="509.5" r="6.08"/><circle cx="895.8" cy="519.5" r="6.08"/><circle cx="897.1" cy="529.4" r="6.08"/><circle cx="898.4" cy="539.4" r="6.08"/><circle cx="899.8" cy="549.3" r="6.08"/><circle cx="901.5" cy="559.3" r="6.08"/><circle cx="903.0" cy="569.2" r="6.08"/><circle cx="903.9" cy="579.2" r="6.08"/><circle cx="904.7" cy="589.1" r="6.08"/><circle cx="904.9" cy="599.1" r="6.08"/><circle cx="905.1" cy="609.0" r="6.08"/><circle cx="905.3" cy="619.0" r="6.08"/><circle cx="905.6" cy="628.9" r="6.08"/><circle cx="905.9" cy="638.9" r="6.08"/><circle cx="906.2" cy="648.8" r="6.08"/><circle cx="906.5" cy="658.8" r="6.08"/><circle cx="906.7" cy="668.7" r="6.08"/><circle cx="906.9" cy="678.7" r="6.08"/><circle cx="907.0" cy="688.6" r="6.08"/><circle cx="907.2" cy="698.6" r="6.08"/><circle cx="907.3" cy="708.5" r="6.08"/><circle cx="907.4" cy="718.5" r="6.08"/><circle cx="907.5" cy="728.4" r="6.08"/><circle cx="907.6" cy="738.4" r="6.08"/><circle cx="907.7" cy="748.3" r="6.08"/><circle cx="907.7" cy="758.3" r="6.08"/><circle cx="907.8" cy="768.2" r="6.08"/><circle cx="908.0" cy="778.2" r="6.08"/><circle cx="908.1" cy="788.1" r="6.08"/><circle cx="908.2" cy="798.1" r="6.08"/><circle cx="908.3" cy="808.0" r="6.08"/></g>
<path d="M732.5 19.0L732.5 23.0L732.5 27.0L732.5 30.9L732.5 34.9L732.5 38.9L732.5 42.9L731.0 48.9L730.5 53.8L729.9 58.8L725.5 63.8L721.0 68.8L718.9 73.7L716.7 78.7L715.7 83.7L714.6 88.7L714.6 93.6L714.6 98.6L715.7 103.6L716.7 108.5L717.7 113.5L718.6 118.5L720.9 123.8L723.3 129.0L725.6 134.3L728.0 139.6L730.8 144.6L733.7 149.5L736.5 154.5L739.4 159.5L742.5 164.5L745.7 169.4L748.9 174.4L752.0 179.4L755.0 184.4L758.0 189.3L761.0 194.3L764.0 199.3L766.5 204.3L769.0 209.2L771.5 214.2L774.0 219.2L777.5 224.0L780.9 228.8L784.3 233.5L787.8 238.3L791.2 243.1L794.7 247.8L798.1 252.8L801.5 257.8L804.8 262.8L808.1 267.8L810.4 272.7L812.7 277.7L815.0 282.7L817.3 287.6L819.5 292.6L821.8 297.6L824.1 302.6L826.4 307.6L828.7 312.5L831.0 317.5L832.1 322.5L833.2 327.4L834.4 332.4L835.5 337.4L836.7 342.4L837.9 347.4L839.0 352.3L840.1 357.3L841.3 362.3L842.5 367.2L843.5 372.2L844.6 377.2L845.7 382.2L846.7 387.1L847.8 392.1L848.9 397.1L849.9 402.1L851.0 407.1L852.1 412.0L853.1 417.0L854.2 422.0L855.2 426.9L856.2 431.9L857.3 436.9L858.3 441.9L859.3 446.9L860.4 451.8L861.4 456.8L862.4 461.8L863.5 466.8L864.5 471.7L865.6 476.7L866.7 481.7L867.8 486.6L868.9 491.6L869.9 496.6L871.0 501.6L872.1 506.6L873.2 511.5L874.2 516.5L874.7 521.5L875.2 526.5L875.7 531.4L876.2 536.4L876.6 541.4L877.1 546.4L877.6 551.3L878.1 556.3L878.6 561.3L879.0 566.2L879.5 571.2L880.0 576.2L880.5 581.2L881.0 586.1L881.5 591.1L881.9 596.1L882.4 601.1L882.9 606.0L883.4 611.0L883.9 616.0L884.2 621.0L884.6 626.0L885.1 630.9L885.5 635.9L885.9 640.9L886.2 645.9L886.6 650.8L887.1 655.8L887.5 660.8L887.9 665.8L888.2 670.7L888.6 675.7L889.1 680.7L889.5 685.6L889.9 690.6L890.2 695.6L890.6 700.6L891.1 705.5L891.5 710.5L891.9 715.5L892.1 720.5L892.4 725.5L892.6 730.4L892.9 735.4L893.1 740.4L893.4 745.4L893.6 750.3L893.9 755.3L894.1 760.3L894.4 765.2L894.6 770.2L894.9 775.2L895.1 780.2L895.4 785.1L895.6 790.1L895.9 795.1L896.1 800.1L896.4 805.0L896.6 810.0L896.9 815.0M733.3 19.0L733.3 23.0L733.3 27.0L733.3 30.9L733.3 34.9L733.3 38.9L733.3 42.9L731.8 48.9L731.4 53.8L730.9 58.8L726.6 63.8L722.2 68.8L720.0 73.7L717.9 78.7L716.8 83.7L715.8 88.7L715.8 93.6L715.8 98.6L716.8 103.6L717.9 108.5L718.8 113.5L719.8 118.5L722.1 123.7L724.5 128.8L726.8 134.0L729.2 139.1L732.0 144.1L734.8 149.1L737.7 154.0L740.5 159.0L743.7 164.0L746.9 169.0L750.1 173.9L753.2 178.9L756.2 183.9L759.2 188.9L762.2 193.8L765.2 198.8L767.7 203.8L770.2 208.8L772.7 213.7L775.2 218.7L778.6 223.6L781.9 228.4L785.2 233.3L788.6 238.1L791.9 243.0L795.3 247.8L798.6 252.8L801.9 257.8L805.2 262.8L808.5 267.8L810.8 272.7L813.1 277.7L815.4 282.7L817.6 287.6L819.9 292.6L822.2 297.6L824.5 302.6L826.8 307.6L829.1 312.5L831.4 317.5L832.5 322.5L833.7 327.4L834.8 332.4L836.0 337.4L837.2 342.4L838.3 347.4L839.5 352.3L840.6 357.3L841.8 362.3L843.0 367.2L844.1 372.2L845.2 377.2L846.3 382.2L847.4 387.1L848.5 392.1L849.6 397.1L850.7 402.1L851.8 407.1L852.9 412.0L854.0 417.0L855.1 422.0L856.1 426.9L857.2 431.9L858.2 436.9L859.3 441.9L860.4 446.9L861.4 451.8L862.4 456.8L863.5 461.8L864.6 466.8L865.6 471.7L866.7 476.7L867.8 481.7L868.9 486.6L870.0 491.6L871.0 496.6L872.1 501.6L873.2 506.6L874.3 511.5L875.4 516.5L875.8 521.5L876.3 526.5L876.8 531.4L877.3 536.4L877.8 541.4L878.2 546.4L878.7 551.3L879.2 556.3L879.7 561.3L880.1 566.2L880.6 571.2L881.1 576.2L881.6 581.2L882.1 586.1L882.6 591.1L883.0 596.1L883.5 601.1L884.0 606.0L884.5 611.0L885.0 616.0L885.4 621.0L885.8 626.0L886.2 630.9L886.6 635.9L887.0 640.9L887.4 645.9L887.8 650.8L888.2 655.8L888.6 660.8L889.0 665.8L889.4 670.7L889.8 675.7L890.2 680.7L890.6 685.6L891.0 690.6L891.4 695.6L891.8 700.6L892.2 705.5L892.6 710.5L893.0 715.5L893.2 720.5L893.5 725.5L893.7 730.4L894.0 735.4L894.2 740.4L894.5 745.4L894.7 750.3L895.0 755.3L895.2 760.3L895.5 765.2L895.7 770.2L896.0 775.2L896.2 780.2L896.5 785.1L896.7 790.1L897.0 795.1L897.2 800.1L897.5 805.0L897.7 810.0L898.0 815.0M734.1 19.0L734.1 23.0L734.1 27.0L734.1 30.9L734.1 34.9L734.1 38.9L734.1 42.9L732.6 48.9L732.2 53.8L731.9 58.8L727.6 63.8L723.3 68.8L721.2 73.7L719.0 78.7L718.0 83.7L716.9 88.7L716.9 93.6L716.9 98.6L718.0 103.6L719.0 108.5L720.0 113.5L720.9 118.5L723.3 123.5L725.6 128.6L728.0 133.6L730.3 138.6L733.2 143.6L736.0 148.6L738.9 153.6L741.7 158.5L744.9 163.5L748.1 168.5L751.2 173.5L754.4 178.4L757.4 183.4L760.4 188.4L763.4 193.4L766.4 198.3L768.9 203.3L771.4 208.3L773.9 213.3L776.4 218.2L779.7 223.2L782.9 228.1L786.1 233.0L789.4 238.0L792.6 242.9L795.9 247.8L799.1 252.8L802.4 257.8L805.6 262.8L808.8 267.8L811.1 272.7L813.4 277.7L815.7 282.7L818.0 287.6L820.3 292.6L822.6 297.6L824.9 302.6L827.2 307.6L829.5 312.5L831.8 317.5L833.0 322.5L834.1 327.4L835.3 332.4L836.5 337.4L837.6 342.4L838.8 347.4L840.0 352.3L841.1 357.3L842.3 362.3L843.5 367.2L844.6 372.2L845.8 377.2L846.9 382.2L848.0 387.1L849.2 392.1L850.4 397.1L851.5 402.1L852.6 407.1L853.8 412.0L854.9 417.0L856.0 422.0L857.1 426.9L858.2 431.9L859.2 436.9L860.3 441.9L861.4 446.9L862.4 451.8L863.5 456.8L864.6 461.8L865.7 466.8L866.7 471.7L867.8 476.7L868.9 481.7L870.0 486.6L871.1 491.6L872.1 496.6L873.2 501.6L874.3 506.6L875.4 511.5L876.5 516.5L876.9 521.5L877.4 526.5L877.9 531.4L878.4 536.4L878.9 541.4L879.3 546.4L879.8 551.3L880.3 556.3L880.8 561.3L881.2 566.2L881.7 571.2L882.2 576.2L882.7 581.2L883.2 586.1L883.7 591.1L884.1 596.1L884.6 601.1L885.1 606.0L885.6 611.0L886.1 616.0L886.5 621.0L886.9 626.0L887.3 630.9L887.7 635.9L888.1 640.9L888.5 645.9L888.9 650.8L889.3 655.8L889.7 660.8L890.1 665.8L890.5 670.7L890.9 675.7L891.3 680.7L891.7 685.6L892.1 690.6L892.5 695.6L892.9 700.6L893.3 705.5L893.7 710.5L894.1 715.5L894.3 720.5L894.6 725.5L894.8 730.4L895.1 735.4L895.3 740.4L895.6 745.4L895.8 750.3L896.1 755.3L896.3 760.3L896.6 765.2L896.8 770.2L897.1 775.2L897.3 780.2L897.6 785.1L897.8 790.1L898.1 795.1L898.3 800.1L898.6 805.0L898.8 810.0L899.1 815.0M734.9 19.0L734.9 23.0L734.9 27.0L734.9 30.9L734.9 34.9L734.9 38.9L734.9 42.9L733.4 48.9L733.2 53.8L732.9 58.8L728.7 63.8L724.5 68.8L722.3 73.7L720.2 78.7L719.1 83.7L718.1 88.7L718.1 93.6L718.1 98.6L719.1 103.6L720.2 108.5L721.1 113.5L722.1 118.5L724.4 123.4L726.8 128.3L729.1 133.2L731.5 138.2L734.3 143.1L737.2 148.1L740.0 153.1L742.9 158.1L746.1 163.0L749.2 168.0L752.4 173.0L755.6 178.0L758.6 182.9L761.6 187.9L764.6 192.9L767.6 197.9L770.1 202.8L772.6 207.8L775.1 212.8L777.6 217.8L780.7 222.8L783.9 227.8L787.1 232.8L790.2 237.8L793.4 242.8L796.5 247.8L799.7 252.8L802.8 257.8L806.0 262.8L809.2 267.8L811.5 272.7L813.8 277.7L816.1 282.7L818.4 287.6L820.7 292.6L823.0 297.6L825.3 302.6L827.6 307.6L829.9 312.5L832.2 317.5L833.4 322.5L834.6 327.4L835.7 332.4L836.9 337.4L838.1 342.4L839.3 347.4L840.4 352.3L841.6 357.3L842.8 362.3L844.0 367.2L845.1 372.2L846.3 377.2L847.5 382.2L848.7 387.1L849.9 392.1L851.1 397.1L852.3 402.1L853.5 407.1L854.7 412.0L855.9 417.0L856.9 422.0L858.0 426.9L859.1 431.9L860.2 436.9L861.3 441.9L862.4 446.9L863.5 451.8L864.6 456.8L865.7 461.8L866.8 466.8L867.8 471.7L868.9 476.7L870.0 481.7L871.1 486.6L872.1 491.6L873.2 496.6L874.3 501.6L875.4 506.6L876.5 511.5L877.5 516.5L878.0 521.5L878.5 526.5L879.0 531.4L879.5 536.4L879.9 541.4L880.4 546.4L880.9 551.3L881.4 556.3L881.9 561.3L882.3 566.2L882.8 571.2L883.3 576.2L883.8 581.2L884.3 586.1L884.8 591.1L885.2 596.1L885.7 601.1L886.2 606.0L886.7 611.0L887.1 616.0L887.5 621.0L887.9 626.0L888.4 630.9L888.8 635.9L889.1 640.9L889.5 645.9L889.9 650.8L890.4 655.8L890.8 660.8L891.1 665.8L891.5 670.7L891.9 675.7L892.4 680.7L892.8 685.6L893.1 690.6L893.5 695.6L893.9 700.6L894.4 705.5L894.8 710.5L895.1 715.5L895.4 720.5L895.6 725.5L895.9 730.4L896.1 735.4L896.4 740.4L896.6 745.4L896.9 750.3L897.1 755.3L897.4 760.3L897.6 765.2L897.9 770.2L898.1 775.2L898.4 780.2L898.6 785.1L898.9 790.1L899.1 795.1L899.4 800.1L899.6 805.0L899.9 810.0L900.1 815.0M735.7 19.0L735.7 23.0L735.7 27.0L735.7 30.9L735.7 34.9L735.7 38.9L735.7 42.9L734.2 48.9L734.1 53.8L733.9 58.8L729.7 63.8L725.6 68.8L723.5 73.7L721.3 78.7L720.3 83.7L719.2 88.7L719.2 93.6L719.2 98.6L720.3 103.6L721.3 108.5L722.3 113.5L723.2 118.5L725.6 123.3L727.9 128.1L730.3 132.9L732.6 137.7L735.5 142.7L738.4 147.6L741.2 152.6L744.1 157.6L747.2 162.6L750.4 167.5L753.6 172.5L756.8 177.5L759.8 182.5L762.8 187.4L765.8 192.4L768.8 197.4L771.3 202.4L773.8 207.3L776.3 212.3L778.8 217.3L781.8 222.4L784.9 227.5L788.0 232.6L791.0 237.7L794.1 242.8L797.1 247.8L800.2 252.8L803.3 257.8L806.4 262.8L809.5 267.8L811.8 272.7L814.1 277.7L816.4 282.7L818.8 287.6L821.1 292.6L823.4 297.6L825.7 302.6L828.0 307.6L830.3 312.5L832.6 317.5L833.8 322.5L835.0 327.4L836.2 332.4L837.4 337.4L838.5 342.4L839.7 347.4L840.9 352.3L842.1 357.3L843.3 362.3L844.5 367.2L845.7 372.2L846.9 377.2L848.1 382.2L849.4 387.1L850.6 392.1L851.8 397.1L853.1 402.1L854.3 407.1L855.5 412.0L856.8 417.0L857.9 422.0L859.0 426.9L860.1 431.9L861.2 436.9L862.3 441.9L863.4 446.9L864.5 451.8L865.6 456.8L866.7 461.8L867.9 466.8L868.9 471.7L870.0 476.7L871.1 481.7L872.2 486.6L873.2 491.6L874.3 496.6L875.4 501.6L876.5 506.6L877.6 511.5L878.6 516.5L879.1 521.5L879.6 526.5L880.1 531.4L880.6 536.4L881.0 541.4L881.5 546.4L882.0 551.3L882.5 556.3L883.0 561.3L883.4 566.2L883.9 571.2L884.4 576.2L884.9 581.2L885.4 586.1L885.9 591.1L886.3 596.1L886.8 601.1L887.3 606.0L887.8 611.0L888.2 616.0L888.6 621.0L889.0 626.0L889.5 630.9L889.9 635.9L890.2 640.9L890.6 645.9L891.0 650.8L891.5 655.8L891.9 660.8L892.2 665.8L892.6 670.7L893.0 675.7L893.5 680.7L893.9 685.6L894.2 690.6L894.6 695.6L895.0 700.6L895.5 705.5L895.9 710.5L896.2 715.5L896.5 720.5L896.8 725.5L897.0 730.4L897.2 735.4L897.5 740.4L897.8 745.4L898.0 750.3L898.2 755.3L898.5 760.3L898.8 765.2L899.0 770.2L899.2 775.2L899.5 780.2L899.8 785.1L900.0 790.1L900.2 795.1L900.5 800.1L900.8 805.0L901.0 810.0L901.2 815.0M736.5 19.0L736.5 23.0L736.5 27.0L736.5 30.9L736.5 34.9L736.5 38.9L736.5 42.9L735.0 48.9L735.0 53.8L734.9 58.8L730.8 63.8L726.8 68.8L724.6 73.7L722.5 78.7L721.4 83.7L720.4 88.7L720.4 93.6L720.4 98.6L721.4 103.6L722.5 108.5L723.4 113.5L724.4 118.5L726.8 123.2L729.1 127.8L731.5 132.5L733.8 137.2L736.7 142.2L739.5 147.2L742.4 152.1L745.2 157.1L748.4 162.1L751.6 167.1L754.8 172.0L758.0 177.0L761.0 182.0L764.0 187.0L767.0 191.9L770.0 196.9L772.5 201.9L775.0 206.9L777.5 211.8L780.0 216.8L782.9 222.0L785.9 227.1L788.9 232.3L791.8 237.5L794.8 242.7L797.7 247.8L800.7 252.8L803.7 257.8L806.8 262.8L809.9 267.8L812.2 272.7L814.5 277.7L816.8 282.7L819.1 287.6L821.5 292.6L823.8 297.6L826.1 302.6L828.4 307.6L830.7 312.5L833.0 317.5L834.2 322.5L835.4 327.4L836.6 332.4L837.8 337.4L839.0 342.4L840.2 347.4L841.4 352.3L842.6 357.3L843.8 362.3L845.0 367.2L846.2 372.2L847.5 377.2L848.8 382.2L850.0 387.1L851.3 392.1L852.6 397.1L853.8 402.1L855.1 407.1L856.4 412.0L857.6 417.0L858.8 422.0L859.9 426.9L861.0 431.9L862.2 436.9L863.3 441.9L864.4 446.9L865.6 451.8L866.7 456.8L867.8 461.8L869.0 466.8L870.0 471.7L871.1 476.7L872.2 481.7L873.3 486.6L874.4 491.6L875.4 496.6L876.5 501.6L877.6 506.6L878.7 511.5L879.8 516.5L880.2 521.5L880.7 526.5L881.2 531.4L881.7 536.4L882.1 541.4L882.6 546.4L883.1 551.3L883.6 556.3L884.1 561.3L884.5 566.2L885.0 571.2L885.5 576.2L886.0 581.2L886.5 586.1L887.0 591.1L887.4 596.1L887.9 601.1L888.4 606.0L888.9 611.0L889.4 616.0L889.8 621.0L890.1 626.0L890.6 630.9L891.0 635.9L891.4 640.9L891.8 645.9L892.1 650.8L892.6 655.8L893.0 660.8L893.4 665.8L893.8 670.7L894.1 675.7L894.6 680.7L895.0 685.6L895.4 690.6L895.8 695.6L896.1 700.6L896.6 705.5L897.0 710.5L897.4 715.5L897.6 720.5L897.9 725.5L898.1 730.4L898.4 735.4L898.6 740.4L898.9 745.4L899.1 750.3L899.4 755.3L899.6 760.3L899.9 765.2L900.1 770.2L900.4 775.2L900.6 780.2L900.9 785.1L901.1 790.1L901.4 795.1L901.6 800.1L901.9 805.0L902.1 810.0L902.4 815.0" fill="none" stroke="#ff0000" stroke-width="2.7" stroke-linejoin="round"/>
<g fill="#ff0000"><circle cx="734.5" cy="19.0" r="6.08"/><circle cx="734.5" cy="23.0" r="6.08"/><circle cx="734.5" cy="27.0" r="6.08"/><circle cx="734.5" cy="30.9" r="6.08"/><circle cx="734.5" cy="34.9" r="6.08"/><circle cx="734.5" cy="38.9" r="6.08"/><circle cx="734.5" cy="42.9" r="6.08"/><circle cx="733.0" cy="48.9" r="6.08"/><circle cx="732.4" cy="58.8" r="6.08"/><circle cx="723.9" cy="68.8" r="6.08"/><circle cx="719.6" cy="78.7" r="6.08"/><circle cx="717.5" cy="88.7" r="6.08"/><circle cx="717.5" cy="98.6" r="6.08"/><circle cx="719.6" cy="108.5" r="6.08"/><circle cx="721.5" cy="118.5" r="6.08"/><circle cx="730.9" cy="138.4" r="6.08"/><circle cx="742.3" cy="158.3" r="6.08"/><circle cx="755.0" cy="178.2" r="6.08"/><circle cx="767.0" cy="198.1" r="6.08"/><circle cx="777.0" cy="218.0" r="6.08"/><circle cx="809.0" cy="267.8" r="6.08"/><circle cx="832.0" cy="317.5" r="6.08"/><circle cx="855.4" cy="417.0" r="6.08"/><circle cx="877.0" cy="516.5" r="6.08"/><circle cx="886.6" cy="616.0" r="6.08"/><circle cx="894.6" cy="715.5" r="6.08"/><circle cx="899.6" cy="815.0" r="6.08"/></g>
<path d="M716.0 19.0L716.0 23.0L716.0 27.0L715.0 30.9L712.0 34.9L706.0 38.9L701.9 42.9L697.7 48.9L694.0 58.8L692.7 68.8L692.0 78.7L692.0 88.7L694.1 98.6L694.6 108.5L696.3 118.5L701.4 138.4L709.4 158.3L721.5 178.2L736.3 198.1L764.5 218.0L804.3 267.8L836.6 317.5L872.4 417.0L910.6 516.5L916.6 616.0" fill="none" stroke="#008000" stroke-width="2.7" stroke-linejoin="round" stroke-linecap="butt"/>
<g fill="#008000"><circle cx="716.0" cy="19.0" r="6.08"/><circle cx="716.0" cy="23.0" r="6.08"/><circle cx="716.0" cy="27.0" r="6.08"/><circle cx="715.0" cy="30.9" r="6.08"/><circle cx="712.0" cy="34.9" r="6.08"/><circle cx="706.0" cy="38.9" r="6.08"/><circle cx="701.9" cy="42.9" r="6.08"/><circle cx="697.7" cy="48.9" r="6.08"/><circle cx="694.0" cy="58.8" r="6.08"/><circle cx="692.7" cy="68.8" r="6.08"/><circle cx="692.0" cy="78.7" r="6.08"/><circle cx="692.0" cy="88.7" r="6.08"/><circle cx="694.1" cy="98.6" r="6.08"/><circle cx="694.6" cy="108.5" r="6.08"/><circle cx="696.3" cy="118.5" r="6.08"/><circle cx="701.4" cy="138.4" r="6.08"/><circle cx="709.4" cy="158.3" r="6.08"/><circle cx="721.5" cy="178.2" r="6.08"/><circle cx="736.3" cy="198.1" r="6.08"/><circle cx="764.5" cy="218.0" r="6.08"/><circle cx="804.3" cy="267.8" r="6.08"/><circle cx="836.6" cy="317.5" r="6.08"/><circle cx="872.4" cy="417.0" r="6.08"/><circle cx="910.6" cy="516.5" r="6.08"/><circle cx="916.6" cy="616.0" r="6.08"/></g>
<path d="M712.5 20.0L712.5 22.1L712.5 24.3L712.5 26.6L712.5 29.1L712.5 31.8L712.5 34.8L712.5 38.1L712.5 41.7L712.3 45.8L711.1 50.5L698.4 55.8L688.5 62.0L682.8 69.2L681.4 77.6L681.4 87.5L686.4 99.3L696.3 113.3L710.4 130.0L727.4 150.0L747.5 173.9L769.5 202.7L792.1 237.4L818.6 279.0L842.7 329.1L859.5 389.4L873.4 461.7L886.6 548.4L903.4 652.1L906.7 775.6" fill="none" stroke="#ff00ff" stroke-width="2.7" stroke-linejoin="round" stroke-linecap="butt"/>
<g fill="#ff00ff"><circle cx="712.5" cy="20.0" r="6.08"/><circle cx="712.5" cy="22.1" r="6.08"/><circle cx="712.5" cy="24.3" r="6.08"/><circle cx="712.5" cy="26.6" r="6.08"/><circle cx="712.5" cy="29.1" r="6.08"/><circle cx="712.5" cy="31.8" r="6.08"/><circle cx="712.5" cy="34.8" r="6.08"/><circle cx="712.5" cy="38.1" r="6.08"/><circle cx="712.5" cy="41.7" r="6.08"/><circle cx="712.3" cy="45.8" r="6.08"/><circle cx="711.1" cy="50.5" r="6.08"/><circle cx="698.4" cy="55.8" r="6.08"/><circle cx="688.5" cy="62.0" r="6.08"/><circle cx="682.8" cy="69.2" r="6.08"/><circle cx="681.4" cy="77.6" r="6.08"/><circle cx="681.4" cy="87.5" r="6.08"/><circle cx="686.4" cy="99.3" r="6.08"/><circle cx="696.3" cy="113.3" r="6.08"/><circle cx="710.4" cy="130.0" r="6.08"/><circle cx="727.4" cy="150.0" r="6.08"/><circle cx="747.5" cy="173.9" r="6.08"/><circle cx="769.5" cy="202.7" r="6.08"/><circle cx="792.1" cy="237.4" r="6.08"/><circle cx="818.6" cy="279.0" r="6.08"/><circle cx="842.7" cy="329.1" r="6.08"/><circle cx="859.5" cy="389.4" r="6.08"/><circle cx="873.4" cy="461.7" r="6.08"/><circle cx="886.6" cy="548.4" r="6.08"/><circle cx="903.4" cy="652.1" r="6.08"/><circle cx="906.7" cy="775.6" r="6.08"/></g>
</g>
<path d="M580.5 19.5h-6.08M580.5 68.5h-6.08M580.5 118.5h-6.08M580.5 168.5h-6.08M580.5 218.5h-6.08M580.5 267.5h-6.08M580.5 317.5h-6.08M580.5 367.5h-6.08M580.5 417.5h-6.08M580.5 466.5h-6.08M580.5 516.5h-6.08M580.5 566.5h-6.08M580.5 616.5h-6.08M580.5 665.5h-6.08M580.5 715.5h-6.08M580.5 765.5h-6.08M611.5 814.5v6.08M725.5 814.5v6.08M839.5 814.5v6.08M952.5 814.5v6.08" stroke="#000" stroke-width="1.39" fill="none"/>
<rect x="580.5" y="19.5" width="402.0" height="795.0" fill="none" stroke="#000" stroke-width="1.39"/>
<text x="611.5" y="842.2" text-anchor="middle" class="tk">33.0</text>
<text x="725.5" y="842.2" text-anchor="middle" class="tk">33.5</text>
<text x="839.5" y="842.2" text-anchor="middle" class="tk">34.0</text>
<text x="952.5" y="842.2" text-anchor="middle" class="tk">34.5</text>
<clipPath id="c2"><rect x="1072.5" y="19.5" width="402.0" height="795.0"/></clipPath>
<path d="M1072.5 68.5H1474.5M1072.5 118.5H1474.5M1072.5 168.5H1474.5M1072.5 218.5H1474.5M1072.5 267.5H1474.5M1072.5 317.5H1474.5M1072.5 367.5H1474.5M1072.5 417.5H1474.5M1072.5 466.5H1474.5M1072.5 516.5H1474.5M1072.5 566.5H1474.5M1072.5 616.5H1474.5M1072.5 665.5H1474.5M1072.5 715.5H1474.5M1072.5 765.5H1474.5M1133.5 814.5V19.5M1232.5 814.5V19.5M1331.5 814.5V19.5M1429.5 814.5V19.5" stroke="#b0b0b0" stroke-width="0.87" stroke-dasharray="3.21 1.39" fill="none"/>
<g clip-path="url(#c2)">
<g fill="#00ffff"><circle cx="1108.8" cy="20.1" r="3.47"/><circle cx="1108.3" cy="25.6" r="3.47"/><circle cx="1108.1" cy="31.8" r="3.47"/><circle cx="1109.4" cy="38.2" r="3.47"/><circle cx="1110.7" cy="43.4" r="3.47"/><circle cx="1113.5" cy="49.7" r="3.47"/><circle cx="1114.8" cy="55.3" r="3.47"/><circle cx="1119.5" cy="60.9" r="3.47"/><circle cx="1137.8" cy="67.2" r="3.47"/><circle cx="1148.6" cy="73.4" r="3.47"/><circle cx="1154.0" cy="78.8" r="3.47"/><circle cx="1157.8" cy="85.3" r="3.47"/><circle cx="1161.7" cy="90.0" r="3.47"/><circle cx="1163.6" cy="95.1" r="3.47"/><circle cx="1165.5" cy="101.8" r="3.47"/><circle cx="1169.1" cy="106.2" r="3.47"/><circle cx="1173.7" cy="112.5" r="3.47"/><circle cx="1178.4" cy="117.7" r="3.47"/><circle cx="1180.9" cy="123.9" r="3.47"/><circle cx="1183.0" cy="129.9" r="3.47"/><circle cx="1188.5" cy="135.6" r="3.47"/><circle cx="1193.5" cy="141.6" r="3.47"/><circle cx="1197.1" cy="146.9" r="3.47"/><circle cx="1201.3" cy="152.4" r="3.47"/><circle cx="1204.6" cy="157.5" r="3.47"/><circle cx="1207.6" cy="163.8" r="3.47"/><circle cx="1208.7" cy="169.6" r="3.47"/><circle cx="1212.9" cy="175.5" r="3.47"/><circle cx="1217.1" cy="181.5" r="3.47"/><circle cx="1220.9" cy="186.1" r="3.47"/><circle cx="1224.9" cy="192.2" r="3.47"/><circle cx="1226.4" cy="198.1" r="3.47"/><circle cx="1229.0" cy="204.7" r="3.47"/><circle cx="1230.2" cy="209.9" r="3.47"/><circle cx="1235.0" cy="215.5" r="3.47"/><circle cx="1239.5" cy="221.7" r="3.47"/><circle cx="1241.0" cy="226.9" r="3.47"/><circle cx="1242.9" cy="232.8" r="3.47"/><circle cx="1244.3" cy="239.0" r="3.47"/><circle cx="1248.1" cy="244.4" r="3.47"/><circle cx="1250.8" cy="250.7" r="3.47"/><circle cx="1252.9" cy="255.8" r="3.47"/><circle cx="1255.0" cy="261.0" r="3.47"/><circle cx="1258.9" cy="266.4" r="3.47"/><circle cx="1258.8" cy="271.7" r="3.47"/><circle cx="1259.9" cy="277.7" r="3.47"/><circle cx="1261.8" cy="283.3" r="3.47"/><circle cx="1263.2" cy="289.1" r="3.47"/><circle cx="1263.8" cy="294.9" r="3.47"/><circle cx="1265.1" cy="301.3" r="3.47"/><circle cx="1266.0" cy="306.2" r="3.47"/><circle cx="1267.7" cy="312.3" r="3.47"/><circle cx="1270.6" cy="317.9" r="3.47"/><circle cx="1271.4" cy="323.7" r="3.47"/><circle cx="1274.1" cy="328.7" r="3.47"/><circle cx="1274.7" cy="334.1" r="3.47"/><circle cx="1275.8" cy="340.1" r="3.47"/><circle cx="1278.6" cy="345.6" r="3.47"/><circle cx="1280.1" cy="351.8" r="3.47"/><circle cx="1281.1" cy="357.0" r="3.47"/><circle cx="1282.4" cy="363.3" r="3.47"/><circle cx="1282.5" cy="368.4" r="3.47"/><circle cx="1284.0" cy="374.7" r="3.47"/><circle cx="1286.0" cy="380.7" r="3.47"/><circle cx="1287.6" cy="385.5" r="3.47"/><circle cx="1288.3" cy="391.6" r="3.47"/><circle cx="1289.2" cy="397.2" r="3.47"/><circle cx="1289.7" cy="402.9" r="3.47"/><circle cx="1291.3" cy="408.9" r="3.47"/><circle cx="1292.7" cy="414.1" r="3.47"/><circle cx="1293.8" cy="420.1" r="3.47"/><circle cx="1295.8" cy="426.1" r="3.47"/><circle cx="1296.7" cy="431.2" r="3.47"/><circle cx="1298.0" cy="436.5" r="3.47"/><circle cx="1298.7" cy="442.7" r="3.47"/><circle cx="1299.4" cy="448.0" r="3.47"/><circle cx="1300.9" cy="454.4" r="3.47"/><circle cx="1302.0" cy="459.9" r="3.47"/><circle cx="1302.9" cy="465.1" r="3.47"/><circle cx="1304.7" cy="470.7" r="3.47"/><circle cx="1305.9" cy="476.6" r="3.47"/><circle cx="1306.9" cy="482.2" r="3.47"/><circle cx="1307.8" cy="487.4" r="3.47"/><circle cx="1309.4" cy="494.3" r="3.47"/><circle cx="1310.7" cy="498.5" r="3.47"/><circle cx="1311.7" cy="504.7" r="3.47"/><circle cx="1312.6" cy="510.3" r="3.47"/><circle cx="1314.5" cy="516.2" r="3.47"/><circle cx="1315.5" cy="521.4" r="3.47"/><circle cx="1316.7" cy="527.5" r="3.47"/><circle cx="1317.6" cy="532.5" r="3.47"/><circle cx="1318.1" cy="538.6" r="3.47"/><circle cx="1319.4" cy="544.4" r="3.47"/><circle cx="1320.1" cy="550.4" r="3.47"/><circle cx="1321.0" cy="556.1" r="3.47"/><circle cx="1321.7" cy="561.8" r="3.47"/><circle cx="1323.0" cy="567.3" r="3.47"/><circle cx="1323.7" cy="573.3" r="3.47"/><circle cx="1324.6" cy="578.5" r="3.47"/><circle cx="1325.6" cy="583.9" r="3.47"/><circle cx="1326.2" cy="589.5" r="3.47"/><circle cx="1326.6" cy="595.1" r="3.47"/><circle cx="1327.5" cy="600.8" r="3.47"/><circle cx="1328.9" cy="606.6" r="3.47"/><circle cx="1329.7" cy="611.7" r="3.47"/><circle cx="1330.8" cy="617.5" r="3.47"/><circle cx="1331.6" cy="623.2" r="3.47"/><circle cx="1331.8" cy="628.3" r="3.47"/><circle cx="1332.8" cy="634.2" r="3.47"/><circle cx="1333.3" cy="639.5" r="3.47"/><circle cx="1334.6" cy="645.4" r="3.47"/><circle cx="1335.4" cy="651.1" r="3.47"/><circle cx="1336.0" cy="657.0" r="3.47"/><circle cx="1337.3" cy="663.0" r="3.47"/><circle cx="1338.7" cy="669.0" r="3.47"/><circle cx="1339.5" cy="675.2" r="3.47"/><circle cx="1340.3" cy="680.4" r="3.47"/><circle cx="1341.1" cy="686.3" r="3.47"/><circle cx="1341.6" cy="692.3" r="3.47"/><circle cx="1342.9" cy="698.5" r="3.47"/><circle cx="1344.2" cy="703.7" r="3.47"/><circle cx="1344.9" cy="709.0" r="3.47"/><circle cx="1345.6" cy="715.3" r="3.47"/><circle cx="1346.2" cy="720.9" r="3.47"/><circle cx="1347.3" cy="726.7" r="3.47"/><circle cx="1347.9" cy="731.5" r="3.47"/><circle cx="1348.6" cy="738.2" r="3.47"/><circle cx="1349.5" cy="743.6" r="3.47"/><circle cx="1350.4" cy="749.0" r="3.47"/><circle cx="1351.7" cy="754.6" r="3.47"/><circle cx="1352.5" cy="760.3" r="3.47"/><circle cx="1352.9" cy="765.5" r="3.47"/><circle cx="1353.3" cy="770.9" r="3.47"/><circle cx="1354.7" cy="776.6" r="3.47"/><circle cx="1355.0" cy="782.7" r="3.47"/><circle cx="1355.7" cy="787.7" r="3.47"/><circle cx="1356.4" cy="793.3" r="3.47"/><circle cx="1356.9" cy="799.3" r="3.47"/><circle cx="1357.3" cy="804.7" r="3.47"/><circle cx="1358.0" cy="810.8" r="3.47"/><circle cx="1110.1" cy="22.5" r="3.47"/><circle cx="1109.4" cy="28.2" r="3.47"/><circle cx="1110.5" cy="34.1" r="3.47"/><circle cx="1110.0" cy="40.4" r="3.47"/><circle cx="1112.4" cy="46.9" r="3.47"/><circle cx="1113.4" cy="51.1" r="3.47"/><circle cx="1116.6" cy="57.6" r="3.47"/><circle cx="1126.7" cy="62.6" r="3.47"/><circle cx="1142.8" cy="69.3" r="3.47"/><circle cx="1150.2" cy="75.2" r="3.47"/><circle cx="1156.7" cy="80.3" r="3.47"/><circle cx="1158.9" cy="86.1" r="3.47"/><circle cx="1163.0" cy="92.3" r="3.47"/><circle cx="1167.4" cy="98.1" r="3.47"/><circle cx="1168.1" cy="103.1" r="3.47"/><circle cx="1170.8" cy="109.0" r="3.47"/><circle cx="1176.5" cy="115.0" r="3.47"/><circle cx="1182.0" cy="121.3" r="3.47"/><circle cx="1186.1" cy="126.1" r="3.47"/><circle cx="1191.1" cy="131.6" r="3.47"/><circle cx="1196.5" cy="137.7" r="3.47"/><circle cx="1199.0" cy="143.1" r="3.47"/><circle cx="1201.3" cy="149.3" r="3.47"/><circle cx="1203.2" cy="154.7" r="3.47"/><circle cx="1206.9" cy="161.0" r="3.47"/><circle cx="1208.6" cy="166.9" r="3.47"/><circle cx="1211.2" cy="172.3" r="3.47"/><circle cx="1215.0" cy="177.5" r="3.47"/><circle cx="1219.9" cy="182.6" r="3.47"/><circle cx="1223.6" cy="188.1" r="3.47"/><circle cx="1226.7" cy="193.9" r="3.47"/><circle cx="1228.1" cy="199.5" r="3.47"/><circle cx="1230.3" cy="204.8" r="3.47"/><circle cx="1230.9" cy="209.8" r="3.47"/><circle cx="1236.5" cy="216.9" r="3.47"/><circle cx="1240.1" cy="222.6" r="3.47"/><circle cx="1242.4" cy="227.8" r="3.47"/><circle cx="1243.7" cy="233.8" r="3.47"/><circle cx="1246.7" cy="239.9" r="3.47"/><circle cx="1250.5" cy="246.1" r="3.47"/><circle cx="1251.7" cy="251.5" r="3.47"/><circle cx="1253.6" cy="257.0" r="3.47"/><circle cx="1256.3" cy="262.5" r="3.47"/><circle cx="1258.4" cy="268.1" r="3.47"/><circle cx="1259.2" cy="273.4" r="3.47"/><circle cx="1262.0" cy="279.0" r="3.47"/><circle cx="1264.1" cy="285.0" r="3.47"/><circle cx="1265.6" cy="291.0" r="3.47"/><circle cx="1267.0" cy="296.8" r="3.47"/><circle cx="1267.6" cy="303.2" r="3.47"/><circle cx="1268.5" cy="308.9" r="3.47"/><circle cx="1271.2" cy="314.1" r="3.47"/><circle cx="1273.3" cy="320.8" r="3.47"/><circle cx="1274.3" cy="326.0" r="3.47"/><circle cx="1276.1" cy="331.4" r="3.47"/><circle cx="1276.6" cy="336.7" r="3.47"/><circle cx="1278.1" cy="342.8" r="3.47"/><circle cx="1279.4" cy="348.3" r="3.47"/><circle cx="1281.4" cy="354.1" r="3.47"/><circle cx="1281.9" cy="359.8" r="3.47"/><circle cx="1284.2" cy="366.0" r="3.47"/><circle cx="1285.2" cy="371.0" r="3.47"/><circle cx="1286.6" cy="377.3" r="3.47"/><circle cx="1287.7" cy="383.2" r="3.47"/><circle cx="1289.2" cy="388.9" r="3.47"/><circle cx="1289.3" cy="394.5" r="3.47"/><circle cx="1290.6" cy="400.6" r="3.47"/><circle cx="1292.0" cy="406.2" r="3.47"/><circle cx="1293.8" cy="412.1" r="3.47"/><circle cx="1295.3" cy="417.8" r="3.47"/><circle cx="1296.5" cy="423.5" r="3.47"/><circle cx="1297.6" cy="428.8" r="3.47"/><circle cx="1298.3" cy="434.9" r="3.47"/><circle cx="1299.9" cy="439.8" r="3.47"/><circle cx="1300.9" cy="445.5" r="3.47"/><circle cx="1302.1" cy="451.3" r="3.47"/><circle cx="1302.6" cy="456.9" r="3.47"/><circle cx="1303.2" cy="462.2" r="3.47"/><circle cx="1304.9" cy="467.7" r="3.47"/><circle cx="1306.1" cy="473.8" r="3.47"/><circle cx="1307.6" cy="479.2" r="3.47"/><circle cx="1308.3" cy="484.9" r="3.47"/><circle cx="1309.3" cy="491.2" r="3.47"/><circle cx="1311.0" cy="496.4" r="3.47"/><circle cx="1312.8" cy="502.8" r="3.47"/><circle cx="1312.8" cy="508.8" r="3.47"/><circle cx="1314.1" cy="513.8" r="3.47"/><circle cx="1315.2" cy="520.3" r="3.47"/><circle cx="1316.7" cy="526.5" r="3.47"/><circle cx="1316.8" cy="532.0" r="3.47"/><circle cx="1318.4" cy="537.3" r="3.47"/><circle cx="1318.9" cy="542.5" r="3.47"/><circle cx="1320.2" cy="548.3" r="3.47"/><circle cx="1320.7" cy="553.9" r="3.47"/><circle cx="1322.6" cy="559.8" r="3.47"/><circle cx="1323.6" cy="565.6" r="3.47"/><circle cx="1323.9" cy="570.2" r="3.47"/><circle cx="1324.5" cy="576.0" r="3.47"/><circle cx="1325.9" cy="581.9" r="3.47"/><circle cx="1326.5" cy="587.9" r="3.47"/><circle cx="1327.1" cy="593.8" r="3.47"/><circle cx="1328.4" cy="599.2" r="3.47"/><circle cx="1329.5" cy="604.6" r="3.47"/><circle cx="1329.4" cy="610.4" r="3.47"/><circle cx="1330.4" cy="615.5" r="3.47"/><circle cx="1330.6" cy="622.1" r="3.47"/><circle cx="1331.9" cy="627.7" r="3.47"/><circle cx="1333.2" cy="633.2" r="3.47"/><circle cx="1334.2" cy="637.9" r="3.47"/><circle cx="1334.9" cy="643.3" r="3.47"/><circle cx="1335.8" cy="649.5" r="3.47"/><circle cx="1336.4" cy="654.5" r="3.47"/><circle cx="1337.6" cy="661.3" r="3.47"/><circle cx="1339.0" cy="666.9" r="3.47"/><circle cx="1339.8" cy="672.4" r="3.47"/><circle cx="1340.7" cy="678.1" r="3.47"/><circle cx="1341.8" cy="684.2" r="3.47"/><circle cx="1342.9" cy="689.1" r="3.47"/><circle cx="1343.5" cy="695.7" r="3.47"/><circle cx="1344.5" cy="700.9" r="3.47"/><circle cx="1345.4" cy="706.6" r="3.47"/><circle cx="1346.3" cy="712.2" r="3.47"/><circle cx="1346.8" cy="718.1" r="3.47"/><circle cx="1347.7" cy="722.8" r="3.47"/><circle cx="1348.2" cy="728.7" r="3.47"/><circle cx="1349.3" cy="734.4" r="3.47"/><circle cx="1350.0" cy="740.0" r="3.47"/><circle cx="1350.7" cy="745.6" r="3.47"/><circle cx="1351.6" cy="751.3" r="3.47"/><circle cx="1352.6" cy="756.7" r="3.47"/><circle cx="1352.8" cy="762.2" r="3.47"/><circle cx="1353.1" cy="768.1" r="3.47"/><circle cx="1354.2" cy="773.6" r="3.47"/><circle cx="1355.1" cy="779.3" r="3.47"/><circle cx="1356.2" cy="785.4" r="3.47"/><circle cx="1356.9" cy="791.0" r="3.47"/><circle cx="1357.6" cy="796.6" r="3.47"/><circle cx="1358.2" cy="802.3" r="3.47"/><circle cx="1359.3" cy="808.1" r="3.47"/><circle cx="1359.7" cy="814.3" r="3.47"/><circle cx="1111.2" cy="23.7" r="3.47"/><circle cx="1112.9" cy="29.9" r="3.47"/><circle cx="1112.5" cy="35.6" r="3.47"/><circle cx="1113.1" cy="40.7" r="3.47"/><circle cx="1117.0" cy="46.8" r="3.47"/><circle cx="1119.6" cy="52.7" r="3.47"/><circle cx="1125.3" cy="58.6" r="3.47"/><circle cx="1137.4" cy="64.6" r="3.47"/><circle cx="1148.4" cy="70.9" r="3.47"/><circle cx="1154.4" cy="76.0" r="3.47"/><circle cx="1159.2" cy="81.7" r="3.47"/><circle cx="1163.5" cy="87.3" r="3.47"/><circle cx="1165.4" cy="92.6" r="3.47"/><circle cx="1169.8" cy="98.8" r="3.47"/><circle cx="1172.6" cy="103.6" r="3.47"/><circle cx="1176.7" cy="108.6" r="3.47"/><circle cx="1180.8" cy="114.2" r="3.47"/><circle cx="1185.0" cy="120.0" r="3.47"/><circle cx="1188.7" cy="125.3" r="3.47"/><circle cx="1190.9" cy="130.8" r="3.47"/><circle cx="1196.4" cy="137.9" r="3.47"/><circle cx="1199.4" cy="143.1" r="3.47"/><circle cx="1203.1" cy="147.7" r="3.47"/><circle cx="1205.4" cy="153.6" r="3.47"/><circle cx="1208.0" cy="159.2" r="3.47"/><circle cx="1210.9" cy="165.3" r="3.47"/><circle cx="1214.4" cy="171.2" r="3.47"/><circle cx="1217.2" cy="176.9" r="3.47"/><circle cx="1221.5" cy="182.8" r="3.47"/><circle cx="1227.0" cy="188.8" r="3.47"/><circle cx="1230.5" cy="194.6" r="3.47"/><circle cx="1232.1" cy="200.6" r="3.47"/><circle cx="1234.9" cy="205.6" r="3.47"/><circle cx="1236.3" cy="211.1" r="3.47"/><circle cx="1239.1" cy="217.4" r="3.47"/><circle cx="1242.7" cy="222.8" r="3.47"/><circle cx="1245.3" cy="228.1" r="3.47"/><circle cx="1247.9" cy="234.3" r="3.47"/><circle cx="1249.9" cy="240.4" r="3.47"/><circle cx="1252.2" cy="245.5" r="3.47"/><circle cx="1253.3" cy="250.9" r="3.47"/><circle cx="1256.0" cy="256.4" r="3.47"/><circle cx="1257.9" cy="262.5" r="3.47"/><circle cx="1261.1" cy="268.8" r="3.47"/><circle cx="1262.0" cy="274.9" r="3.47"/><circle cx="1263.2" cy="279.6" r="3.47"/><circle cx="1264.8" cy="284.7" r="3.47"/><circle cx="1267.8" cy="290.7" r="3.47"/><circle cx="1268.8" cy="296.3" r="3.47"/><circle cx="1269.2" cy="302.7" r="3.47"/><circle cx="1269.7" cy="308.0" r="3.47"/><circle cx="1272.9" cy="313.0" r="3.47"/><circle cx="1273.2" cy="318.5" r="3.47"/><circle cx="1274.7" cy="324.9" r="3.47"/><circle cx="1276.2" cy="329.6" r="3.47"/><circle cx="1277.1" cy="335.3" r="3.47"/><circle cx="1279.6" cy="341.8" r="3.47"/><circle cx="1280.8" cy="346.7" r="3.47"/><circle cx="1282.2" cy="353.1" r="3.47"/><circle cx="1283.2" cy="359.2" r="3.47"/><circle cx="1284.3" cy="364.3" r="3.47"/><circle cx="1285.6" cy="369.6" r="3.47"/><circle cx="1286.9" cy="375.6" r="3.47"/><circle cx="1288.2" cy="381.5" r="3.47"/><circle cx="1289.7" cy="386.3" r="3.47"/><circle cx="1291.6" cy="392.4" r="3.47"/><circle cx="1292.7" cy="398.0" r="3.47"/><circle cx="1293.4" cy="403.8" r="3.47"/><circle cx="1294.5" cy="409.7" r="3.47"/><circle cx="1294.9" cy="415.5" r="3.47"/><circle cx="1296.0" cy="420.6" r="3.47"/><circle cx="1297.4" cy="426.8" r="3.47"/><circle cx="1298.4" cy="431.9" r="3.47"/><circle cx="1299.2" cy="437.4" r="3.47"/><circle cx="1300.4" cy="443.6" r="3.47"/><circle cx="1301.1" cy="448.7" r="3.47"/><circle cx="1302.2" cy="454.8" r="3.47"/><circle cx="1303.6" cy="459.0" r="3.47"/><circle cx="1304.9" cy="464.2" r="3.47"/><circle cx="1307.1" cy="470.3" r="3.47"/><circle cx="1307.5" cy="476.1" r="3.47"/><circle cx="1309.1" cy="482.1" r="3.47"/><circle cx="1308.7" cy="486.9" r="3.47"/><circle cx="1309.6" cy="492.3" r="3.47"/><circle cx="1311.1" cy="498.1" r="3.47"/><circle cx="1313.1" cy="504.1" r="3.47"/><circle cx="1314.4" cy="509.7" r="3.47"/><circle cx="1315.8" cy="515.3" r="3.47"/><circle cx="1316.9" cy="520.9" r="3.47"/><circle cx="1318.0" cy="526.7" r="3.47"/><circle cx="1319.0" cy="531.7" r="3.47"/><circle cx="1319.7" cy="537.7" r="3.47"/><circle cx="1320.4" cy="543.7" r="3.47"/><circle cx="1321.2" cy="549.6" r="3.47"/><circle cx="1322.4" cy="554.2" r="3.47"/><circle cx="1323.4" cy="560.4" r="3.47"/><circle cx="1323.9" cy="565.7" r="3.47"/><circle cx="1324.4" cy="570.8" r="3.47"/><circle cx="1325.3" cy="575.7" r="3.47"/><circle cx="1325.7" cy="581.6" r="3.47"/><circle cx="1327.2" cy="587.0" r="3.47"/><circle cx="1327.2" cy="592.3" r="3.47"/><circle cx="1328.6" cy="599.0" r="3.47"/><circle cx="1329.0" cy="604.8" r="3.47"/><circle cx="1329.9" cy="610.5" r="3.47"/><circle cx="1331.2" cy="617.2" r="3.47"/><circle cx="1331.5" cy="621.7" r="3.47"/><circle cx="1333.0" cy="627.7" r="3.47"/><circle cx="1334.1" cy="632.7" r="3.47"/><circle cx="1334.4" cy="638.7" r="3.47"/><circle cx="1335.1" cy="645.1" r="3.47"/><circle cx="1336.1" cy="650.3" r="3.47"/><circle cx="1337.3" cy="655.9" r="3.47"/><circle cx="1338.2" cy="661.8" r="3.47"/><circle cx="1339.4" cy="668.2" r="3.47"/><circle cx="1341.1" cy="672.6" r="3.47"/><circle cx="1341.8" cy="679.0" r="3.47"/><circle cx="1342.4" cy="685.0" r="3.47"/><circle cx="1343.3" cy="690.8" r="3.47"/><circle cx="1344.3" cy="696.2" r="3.47"/><circle cx="1345.0" cy="700.9" r="3.47"/><circle cx="1345.8" cy="706.7" r="3.47"/><circle cx="1347.0" cy="712.8" r="3.47"/><circle cx="1347.5" cy="718.6" r="3.47"/><circle cx="1348.8" cy="724.3" r="3.47"/><circle cx="1349.5" cy="730.5" r="3.47"/><circle cx="1350.1" cy="735.9" r="3.47"/><circle cx="1350.5" cy="741.5" r="3.47"/><circle cx="1351.3" cy="746.9" r="3.47"/><circle cx="1351.7" cy="752.3" r="3.47"/><circle cx="1352.4" cy="758.8" r="3.47"/><circle cx="1353.3" cy="764.7" r="3.47"/><circle cx="1353.7" cy="770.2" r="3.47"/><circle cx="1354.5" cy="775.4" r="3.47"/><circle cx="1355.3" cy="781.6" r="3.47"/><circle cx="1356.3" cy="787.9" r="3.47"/><circle cx="1357.0" cy="793.2" r="3.47"/><circle cx="1357.9" cy="799.2" r="3.47"/><circle cx="1358.9" cy="805.0" r="3.47"/><circle cx="1360.2" cy="810.8" r="3.47"/><circle cx="1112.0" cy="21.7" r="3.47"/><circle cx="1112.2" cy="27.2" r="3.47"/><circle cx="1115.0" cy="33.3" r="3.47"/><circle cx="1114.8" cy="39.4" r="3.47"/><circle cx="1117.9" cy="44.8" r="3.47"/><circle cx="1121.3" cy="50.5" r="3.47"/><circle cx="1128.3" cy="56.6" r="3.47"/><circle cx="1137.8" cy="62.6" r="3.47"/><circle cx="1147.1" cy="67.9" r="3.47"/><circle cx="1154.8" cy="73.4" r="3.47"/><circle cx="1158.5" cy="79.2" r="3.47"/><circle cx="1162.2" cy="84.7" r="3.47"/><circle cx="1166.5" cy="90.5" r="3.47"/><circle cx="1170.5" cy="95.9" r="3.47"/><circle cx="1171.4" cy="101.8" r="3.47"/><circle cx="1177.1" cy="107.6" r="3.47"/><circle cx="1183.0" cy="114.0" r="3.47"/><circle cx="1187.4" cy="118.9" r="3.47"/><circle cx="1192.9" cy="124.6" r="3.47"/><circle cx="1197.0" cy="130.1" r="3.47"/><circle cx="1201.4" cy="136.2" r="3.47"/><circle cx="1204.8" cy="141.9" r="3.47"/><circle cx="1207.6" cy="147.7" r="3.47"/><circle cx="1211.7" cy="153.2" r="3.47"/><circle cx="1213.9" cy="158.4" r="3.47"/><circle cx="1217.7" cy="164.5" r="3.47"/><circle cx="1219.0" cy="170.7" r="3.47"/><circle cx="1222.0" cy="176.1" r="3.47"/><circle cx="1226.0" cy="181.8" r="3.47"/><circle cx="1230.0" cy="187.0" r="3.47"/><circle cx="1232.9" cy="191.9" r="3.47"/><circle cx="1233.8" cy="198.0" r="3.47"/><circle cx="1235.4" cy="203.5" r="3.47"/><circle cx="1237.5" cy="209.5" r="3.47"/><circle cx="1240.4" cy="214.3" r="3.47"/><circle cx="1244.4" cy="220.5" r="3.47"/><circle cx="1244.9" cy="227.0" r="3.47"/><circle cx="1247.3" cy="231.7" r="3.47"/><circle cx="1249.0" cy="237.4" r="3.47"/><circle cx="1251.3" cy="242.9" r="3.47"/><circle cx="1254.9" cy="248.9" r="3.47"/><circle cx="1258.0" cy="254.2" r="3.47"/><circle cx="1259.2" cy="259.5" r="3.47"/><circle cx="1260.4" cy="265.3" r="3.47"/><circle cx="1262.5" cy="270.8" r="3.47"/><circle cx="1264.1" cy="276.5" r="3.47"/><circle cx="1265.9" cy="281.5" r="3.47"/><circle cx="1267.0" cy="286.6" r="3.47"/><circle cx="1270.0" cy="292.9" r="3.47"/><circle cx="1270.7" cy="298.5" r="3.47"/><circle cx="1272.6" cy="304.2" r="3.47"/><circle cx="1273.5" cy="309.2" r="3.47"/><circle cx="1274.4" cy="315.2" r="3.47"/><circle cx="1274.8" cy="320.6" r="3.47"/><circle cx="1276.7" cy="327.0" r="3.47"/><circle cx="1278.3" cy="331.9" r="3.47"/><circle cx="1280.6" cy="338.1" r="3.47"/><circle cx="1283.3" cy="343.8" r="3.47"/><circle cx="1284.6" cy="349.0" r="3.47"/><circle cx="1284.9" cy="355.1" r="3.47"/><circle cx="1285.6" cy="359.9" r="3.47"/><circle cx="1286.4" cy="366.0" r="3.47"/><circle cx="1287.8" cy="371.1" r="3.47"/><circle cx="1289.5" cy="377.9" r="3.47"/><circle cx="1291.1" cy="383.8" r="3.47"/><circle cx="1291.4" cy="389.7" r="3.47"/><circle cx="1293.2" cy="395.5" r="3.47"/><circle cx="1293.5" cy="399.7" r="3.47"/><circle cx="1293.2" cy="405.6" r="3.47"/><circle cx="1293.9" cy="411.6" r="3.47"/><circle cx="1294.6" cy="417.4" r="3.47"/><circle cx="1296.5" cy="421.7" r="3.47"/><circle cx="1297.8" cy="427.8" r="3.47"/><circle cx="1299.3" cy="433.2" r="3.47"/><circle cx="1299.5" cy="438.5" r="3.47"/><circle cx="1300.9" cy="444.6" r="3.47"/><circle cx="1302.1" cy="449.0" r="3.47"/><circle cx="1302.8" cy="454.9" r="3.47"/><circle cx="1304.3" cy="460.6" r="3.47"/><circle cx="1305.2" cy="466.1" r="3.47"/><circle cx="1306.3" cy="471.2" r="3.47"/><circle cx="1308.0" cy="477.5" r="3.47"/><circle cx="1309.0" cy="483.4" r="3.47"/><circle cx="1310.6" cy="488.9" r="3.47"/><circle cx="1311.5" cy="494.6" r="3.47"/><circle cx="1312.6" cy="499.8" r="3.47"/><circle cx="1314.2" cy="505.4" r="3.47"/><circle cx="1315.5" cy="512.2" r="3.47"/><circle cx="1317.4" cy="517.5" r="3.47"/><circle cx="1317.7" cy="523.1" r="3.47"/><circle cx="1318.6" cy="528.4" r="3.47"/><circle cx="1319.6" cy="534.7" r="3.47"/><circle cx="1319.9" cy="540.7" r="3.47"/><circle cx="1321.0" cy="545.0" r="3.47"/><circle cx="1322.1" cy="550.7" r="3.47"/><circle cx="1323.4" cy="556.9" r="3.47"/><circle cx="1324.6" cy="561.8" r="3.47"/><circle cx="1325.4" cy="568.2" r="3.47"/><circle cx="1326.4" cy="573.5" r="3.47"/><circle cx="1326.9" cy="579.9" r="3.47"/><circle cx="1327.4" cy="585.6" r="3.47"/><circle cx="1328.3" cy="592.0" r="3.47"/><circle cx="1328.9" cy="597.5" r="3.47"/><circle cx="1330.0" cy="603.5" r="3.47"/><circle cx="1330.9" cy="609.2" r="3.47"/><circle cx="1332.3" cy="613.9" r="3.47"/><circle cx="1333.1" cy="619.5" r="3.47"/><circle cx="1334.3" cy="625.6" r="3.47"/><circle cx="1334.9" cy="631.1" r="3.47"/><circle cx="1336.1" cy="636.7" r="3.47"/><circle cx="1336.6" cy="642.6" r="3.47"/><circle cx="1337.7" cy="648.6" r="3.47"/><circle cx="1338.6" cy="654.2" r="3.47"/><circle cx="1339.7" cy="659.5" r="3.47"/><circle cx="1340.9" cy="665.4" r="3.47"/><circle cx="1341.5" cy="671.0" r="3.47"/><circle cx="1342.3" cy="677.2" r="3.47"/><circle cx="1343.1" cy="682.6" r="3.47"/><circle cx="1343.3" cy="687.7" r="3.47"/><circle cx="1344.4" cy="693.5" r="3.47"/><circle cx="1345.4" cy="699.8" r="3.47"/><circle cx="1346.4" cy="704.6" r="3.47"/><circle cx="1347.9" cy="710.6" r="3.47"/><circle cx="1348.5" cy="716.9" r="3.47"/><circle cx="1348.4" cy="721.7" r="3.47"/><circle cx="1349.2" cy="727.6" r="3.47"/><circle cx="1350.0" cy="733.5" r="3.47"/><circle cx="1350.7" cy="739.6" r="3.47"/><circle cx="1351.8" cy="744.5" r="3.47"/><circle cx="1352.8" cy="751.2" r="3.47"/><circle cx="1353.6" cy="756.0" r="3.47"/><circle cx="1354.6" cy="762.2" r="3.47"/><circle cx="1355.1" cy="767.9" r="3.47"/><circle cx="1355.8" cy="773.6" r="3.47"/><circle cx="1356.1" cy="779.6" r="3.47"/><circle cx="1357.1" cy="785.1" r="3.47"/><circle cx="1358.6" cy="790.9" r="3.47"/><circle cx="1358.8" cy="796.5" r="3.47"/><circle cx="1359.4" cy="802.0" r="3.47"/><circle cx="1360.6" cy="807.6" r="3.47"/><circle cx="1361.2" cy="812.5" r="3.47"/><circle cx="1114.2" cy="19.7" r="3.47"/><circle cx="1113.5" cy="24.7" r="3.47"/><circle cx="1113.9" cy="30.3" r="3.47"/><circle cx="1114.7" cy="36.9" r="3.47"/><circle cx="1116.1" cy="41.8" r="3.47"/><circle cx="1120.4" cy="47.5" r="3.47"/><circle cx="1126.8" cy="54.4" r="3.47"/><circle cx="1136.5" cy="59.1" r="3.47"/><circle cx="1143.4" cy="64.5" r="3.47"/><circle cx="1152.8" cy="70.8" r="3.47"/><circle cx="1158.0" cy="75.7" r="3.47"/><circle cx="1162.5" cy="82.0" r="3.47"/><circle cx="1166.8" cy="87.9" r="3.47"/><circle cx="1169.5" cy="92.9" r="3.47"/><circle cx="1172.7" cy="98.7" r="3.47"/><circle cx="1177.0" cy="104.2" r="3.47"/><circle cx="1182.1" cy="110.0" r="3.47"/><circle cx="1187.2" cy="115.7" r="3.47"/><circle cx="1193.4" cy="121.4" r="3.47"/><circle cx="1196.8" cy="127.2" r="3.47"/><circle cx="1201.6" cy="133.5" r="3.47"/><circle cx="1204.1" cy="138.8" r="3.47"/><circle cx="1208.5" cy="144.5" r="3.47"/><circle cx="1210.5" cy="150.9" r="3.47"/><circle cx="1214.8" cy="156.1" r="3.47"/><circle cx="1217.6" cy="161.4" r="3.47"/><circle cx="1219.6" cy="167.5" r="3.47"/><circle cx="1223.4" cy="173.4" r="3.47"/><circle cx="1227.2" cy="178.9" r="3.47"/><circle cx="1230.1" cy="184.9" r="3.47"/><circle cx="1234.6" cy="189.9" r="3.47"/><circle cx="1236.2" cy="195.5" r="3.47"/><circle cx="1237.4" cy="201.4" r="3.47"/><circle cx="1239.0" cy="206.1" r="3.47"/><circle cx="1240.6" cy="212.0" r="3.47"/><circle cx="1244.8" cy="218.3" r="3.47"/><circle cx="1247.5" cy="224.0" r="3.47"/><circle cx="1249.6" cy="230.3" r="3.47"/><circle cx="1251.7" cy="236.7" r="3.47"/><circle cx="1252.8" cy="242.1" r="3.47"/><circle cx="1254.3" cy="247.4" r="3.47"/><circle cx="1257.9" cy="254.4" r="3.47"/><circle cx="1259.1" cy="260.0" r="3.47"/><circle cx="1261.1" cy="264.9" r="3.47"/><circle cx="1262.2" cy="271.2" r="3.47"/><circle cx="1263.8" cy="275.7" r="3.47"/><circle cx="1266.8" cy="282.0" r="3.47"/><circle cx="1270.1" cy="287.8" r="3.47"/><circle cx="1271.4" cy="293.7" r="3.47"/><circle cx="1272.6" cy="299.1" r="3.47"/><circle cx="1273.7" cy="305.0" r="3.47"/><circle cx="1275.2" cy="310.2" r="3.47"/><circle cx="1276.0" cy="316.1" r="3.47"/><circle cx="1277.6" cy="321.6" r="3.47"/><circle cx="1279.3" cy="327.9" r="3.47"/><circle cx="1281.1" cy="333.9" r="3.47"/><circle cx="1281.9" cy="339.1" r="3.47"/><circle cx="1284.0" cy="345.1" r="3.47"/><circle cx="1285.3" cy="350.5" r="3.47"/><circle cx="1286.0" cy="356.1" r="3.47"/><circle cx="1287.2" cy="362.7" r="3.47"/><circle cx="1288.1" cy="368.2" r="3.47"/><circle cx="1288.9" cy="373.7" r="3.47"/><circle cx="1290.9" cy="379.3" r="3.47"/><circle cx="1292.1" cy="385.2" r="3.47"/><circle cx="1293.2" cy="390.6" r="3.47"/><circle cx="1293.3" cy="396.7" r="3.47"/><circle cx="1293.7" cy="401.6" r="3.47"/><circle cx="1294.7" cy="407.8" r="3.47"/><circle cx="1296.2" cy="413.3" r="3.47"/><circle cx="1297.4" cy="419.3" r="3.47"/><circle cx="1298.8" cy="424.7" r="3.47"/><circle cx="1300.0" cy="430.7" r="3.47"/><circle cx="1301.3" cy="437.0" r="3.47"/><circle cx="1302.4" cy="442.8" r="3.47"/><circle cx="1304.1" cy="447.8" r="3.47"/><circle cx="1304.6" cy="454.1" r="3.47"/><circle cx="1305.9" cy="459.6" r="3.47"/><circle cx="1307.1" cy="465.4" r="3.47"/><circle cx="1308.6" cy="471.6" r="3.47"/><circle cx="1309.1" cy="477.8" r="3.47"/><circle cx="1311.3" cy="483.3" r="3.47"/><circle cx="1311.5" cy="489.3" r="3.47"/><circle cx="1312.6" cy="494.7" r="3.47"/><circle cx="1313.7" cy="500.0" r="3.47"/><circle cx="1315.3" cy="505.9" r="3.47"/><circle cx="1316.3" cy="511.7" r="3.47"/><circle cx="1317.4" cy="517.0" r="3.47"/><circle cx="1318.0" cy="523.3" r="3.47"/><circle cx="1319.2" cy="528.9" r="3.47"/><circle cx="1320.0" cy="534.9" r="3.47"/><circle cx="1321.1" cy="539.8" r="3.47"/><circle cx="1321.6" cy="545.3" r="3.47"/><circle cx="1322.4" cy="550.3" r="3.47"/><circle cx="1323.6" cy="556.1" r="3.47"/><circle cx="1324.5" cy="562.0" r="3.47"/><circle cx="1325.9" cy="567.2" r="3.47"/><circle cx="1326.4" cy="573.6" r="3.47"/><circle cx="1326.5" cy="579.3" r="3.47"/><circle cx="1327.2" cy="584.9" r="3.47"/><circle cx="1328.4" cy="590.3" r="3.47"/><circle cx="1329.6" cy="596.1" r="3.47"/><circle cx="1330.3" cy="602.1" r="3.47"/><circle cx="1331.7" cy="607.8" r="3.47"/><circle cx="1332.3" cy="614.1" r="3.47"/><circle cx="1333.6" cy="618.8" r="3.47"/><circle cx="1334.1" cy="624.5" r="3.47"/><circle cx="1335.0" cy="631.1" r="3.47"/><circle cx="1335.9" cy="637.2" r="3.47"/><circle cx="1337.1" cy="641.9" r="3.47"/><circle cx="1337.1" cy="648.5" r="3.47"/><circle cx="1338.0" cy="653.6" r="3.47"/><circle cx="1339.3" cy="659.8" r="3.47"/><circle cx="1340.3" cy="665.3" r="3.47"/><circle cx="1340.8" cy="670.8" r="3.47"/><circle cx="1342.7" cy="676.3" r="3.47"/><circle cx="1343.9" cy="681.5" r="3.47"/><circle cx="1344.0" cy="687.8" r="3.47"/><circle cx="1345.2" cy="692.9" r="3.47"/><circle cx="1346.0" cy="699.0" r="3.47"/><circle cx="1346.6" cy="704.1" r="3.47"/><circle cx="1347.6" cy="710.5" r="3.47"/><circle cx="1348.7" cy="716.2" r="3.47"/><circle cx="1349.5" cy="721.8" r="3.47"/><circle cx="1349.9" cy="727.7" r="3.47"/><circle cx="1350.2" cy="733.3" r="3.47"/><circle cx="1351.5" cy="739.0" r="3.47"/><circle cx="1352.5" cy="744.9" r="3.47"/><circle cx="1353.0" cy="750.6" r="3.47"/><circle cx="1354.0" cy="755.6" r="3.47"/><circle cx="1354.7" cy="760.5" r="3.47"/><circle cx="1355.4" cy="766.7" r="3.47"/><circle cx="1356.2" cy="771.6" r="3.47"/><circle cx="1357.3" cy="777.1" r="3.47"/><circle cx="1357.5" cy="783.0" r="3.47"/><circle cx="1358.5" cy="789.0" r="3.47"/><circle cx="1358.6" cy="794.8" r="3.47"/><circle cx="1359.6" cy="801.0" r="3.47"/><circle cx="1360.1" cy="806.4" r="3.47"/><circle cx="1361.0" cy="811.5" r="3.47"/><circle cx="1109.2" cy="23.4" r="3.47"/><circle cx="1110.2" cy="28.4" r="3.47"/><circle cx="1110.4" cy="33.6" r="3.47"/><circle cx="1109.7" cy="39.7" r="3.47"/><circle cx="1110.8" cy="45.6" r="3.47"/><circle cx="1113.4" cy="50.8" r="3.47"/><circle cx="1115.8" cy="56.1" r="3.47"/><circle cx="1122.5" cy="62.4" r="3.47"/><circle cx="1140.1" cy="67.3" r="3.47"/><circle cx="1149.3" cy="72.9" r="3.47"/><circle cx="1154.3" cy="78.4" r="3.47"/><circle cx="1157.5" cy="84.6" r="3.47"/><circle cx="1163.4" cy="90.4" r="3.47"/><circle cx="1166.2" cy="95.8" r="3.47"/><circle cx="1167.4" cy="101.2" r="3.47"/><circle cx="1171.3" cy="107.1" r="3.47"/><circle cx="1175.1" cy="112.8" r="3.47"/><circle cx="1179.6" cy="119.0" r="3.47"/><circle cx="1182.6" cy="124.7" r="3.47"/><circle cx="1186.1" cy="130.3" r="3.47"/><circle cx="1190.2" cy="136.5" r="3.47"/><circle cx="1195.4" cy="142.2" r="3.47"/><circle cx="1199.1" cy="147.2" r="3.47"/><circle cx="1202.6" cy="153.0" r="3.47"/><circle cx="1204.9" cy="159.5" r="3.47"/><circle cx="1208.2" cy="164.3" r="3.47"/><circle cx="1211.3" cy="170.2" r="3.47"/><circle cx="1214.8" cy="175.8" r="3.47"/><circle cx="1218.5" cy="182.0" r="3.47"/><circle cx="1222.0" cy="187.6" r="3.47"/><circle cx="1224.4" cy="193.1" r="3.47"/><circle cx="1225.5" cy="198.6" r="3.47"/><circle cx="1228.1" cy="204.4" r="3.47"/><circle cx="1230.7" cy="209.4" r="3.47"/><circle cx="1235.8" cy="215.1" r="3.47"/><circle cx="1239.6" cy="220.5" r="3.47"/><circle cx="1241.4" cy="226.2" r="3.47"/><circle cx="1243.3" cy="232.2" r="3.47"/><circle cx="1245.3" cy="237.6" r="3.47"/><circle cx="1247.1" cy="242.8" r="3.47"/><circle cx="1249.4" cy="248.6" r="3.47"/><circle cx="1252.5" cy="253.2" r="3.47"/><circle cx="1253.7" cy="259.5" r="3.47"/><circle cx="1256.1" cy="265.6" r="3.47"/><circle cx="1257.8" cy="271.3" r="3.47"/><circle cx="1259.6" cy="277.6" r="3.47"/><circle cx="1262.3" cy="282.3" r="3.47"/><circle cx="1263.6" cy="288.3" r="3.47"/><circle cx="1266.0" cy="293.8" r="3.47"/><circle cx="1266.4" cy="299.6" r="3.47"/><circle cx="1268.7" cy="305.5" r="3.47"/><circle cx="1269.1" cy="311.0" r="3.47"/><circle cx="1272.1" cy="317.5" r="3.47"/><circle cx="1273.8" cy="323.2" r="3.47"/><circle cx="1275.0" cy="328.8" r="3.47"/><circle cx="1275.9" cy="335.0" r="3.47"/><circle cx="1277.4" cy="340.5" r="3.47"/><circle cx="1277.2" cy="345.5" r="3.47"/><circle cx="1278.8" cy="351.2" r="3.47"/><circle cx="1280.3" cy="357.2" r="3.47"/><circle cx="1281.7" cy="362.7" r="3.47"/><circle cx="1283.2" cy="368.3" r="3.47"/><circle cx="1284.4" cy="374.3" r="3.47"/><circle cx="1285.6" cy="380.4" r="3.47"/><circle cx="1287.2" cy="385.8" r="3.47"/><circle cx="1288.6" cy="391.1" r="3.47"/><circle cx="1289.3" cy="396.5" r="3.47"/><circle cx="1290.2" cy="402.9" r="3.47"/><circle cx="1291.6" cy="407.9" r="3.47"/><circle cx="1292.8" cy="413.9" r="3.47"/><circle cx="1294.0" cy="419.3" r="3.47"/><circle cx="1295.7" cy="425.1" r="3.47"/><circle cx="1296.7" cy="431.2" r="3.47"/><circle cx="1298.1" cy="436.8" r="3.47"/><circle cx="1298.6" cy="442.6" r="3.47"/><circle cx="1299.8" cy="448.2" r="3.47"/><circle cx="1301.0" cy="454.2" r="3.47"/><circle cx="1302.5" cy="459.3" r="3.47"/><circle cx="1303.5" cy="464.9" r="3.47"/><circle cx="1304.1" cy="471.4" r="3.47"/><circle cx="1305.8" cy="477.6" r="3.47"/><circle cx="1306.9" cy="483.1" r="3.47"/><circle cx="1308.4" cy="488.8" r="3.47"/><circle cx="1309.7" cy="494.9" r="3.47"/><circle cx="1310.3" cy="499.6" r="3.47"/><circle cx="1311.4" cy="505.9" r="3.47"/><circle cx="1312.9" cy="512.1" r="3.47"/><circle cx="1314.2" cy="517.3" r="3.47"/><circle cx="1315.3" cy="522.3" r="3.47"/><circle cx="1316.8" cy="528.8" r="3.47"/><circle cx="1317.4" cy="534.6" r="3.47"/><circle cx="1318.1" cy="540.7" r="3.47"/><circle cx="1318.7" cy="546.5" r="3.47"/><circle cx="1320.1" cy="552.2" r="3.47"/><circle cx="1321.0" cy="557.6" r="3.47"/><circle cx="1322.0" cy="562.6" r="3.47"/><circle cx="1322.9" cy="569.0" r="3.47"/><circle cx="1324.6" cy="575.1" r="3.47"/><circle cx="1325.1" cy="580.6" r="3.47"/><circle cx="1325.4" cy="586.1" r="3.47"/><circle cx="1327.1" cy="592.5" r="3.47"/><circle cx="1327.8" cy="597.1" r="3.47"/><circle cx="1328.7" cy="603.6" r="3.47"/><circle cx="1329.2" cy="609.3" r="3.47"/><circle cx="1330.0" cy="615.1" r="3.47"/><circle cx="1330.9" cy="620.3" r="3.47"/><circle cx="1331.7" cy="626.3" r="3.47"/><circle cx="1333.1" cy="632.4" r="3.47"/><circle cx="1334.7" cy="638.5" r="3.47"/><circle cx="1335.0" cy="643.7" r="3.47"/><circle cx="1335.5" cy="648.5" r="3.47"/><circle cx="1336.0" cy="655.2" r="3.47"/><circle cx="1337.4" cy="660.5" r="3.47"/><circle cx="1337.6" cy="665.9" r="3.47"/><circle cx="1338.6" cy="671.4" r="3.47"/><circle cx="1339.6" cy="677.6" r="3.47"/><circle cx="1340.4" cy="682.8" r="3.47"/><circle cx="1341.0" cy="688.2" r="3.47"/><circle cx="1341.5" cy="694.3" r="3.47"/><circle cx="1343.0" cy="700.0" r="3.47"/><circle cx="1344.5" cy="705.4" r="3.47"/><circle cx="1345.1" cy="711.1" r="3.47"/><circle cx="1346.1" cy="716.9" r="3.47"/><circle cx="1347.2" cy="722.8" r="3.47"/><circle cx="1347.7" cy="727.8" r="3.47"/><circle cx="1348.6" cy="734.5" r="3.47"/><circle cx="1349.3" cy="739.9" r="3.47"/><circle cx="1349.7" cy="746.3" r="3.47"/><circle cx="1350.9" cy="751.6" r="3.47"/><circle cx="1352.2" cy="758.2" r="3.47"/><circle cx="1352.6" cy="763.8" r="3.47"/><circle cx="1353.7" cy="769.2" r="3.47"/><circle cx="1354.6" cy="775.4" r="3.47"/><circle cx="1355.5" cy="781.0" r="3.47"/><circle cx="1356.1" cy="786.2" r="3.47"/><circle cx="1356.9" cy="791.8" r="3.47"/><circle cx="1358.1" cy="798.1" r="3.47"/><circle cx="1358.5" cy="803.3" r="3.47"/><circle cx="1358.8" cy="809.0" r="3.47"/><circle cx="1110.4" cy="22.5" r="3.47"/><circle cx="1110.0" cy="28.3" r="3.47"/><circle cx="1110.5" cy="33.2" r="3.47"/><circle cx="1111.6" cy="39.2" r="3.47"/><circle cx="1112.4" cy="44.5" r="3.47"/><circle cx="1115.3" cy="49.4" r="3.47"/><circle cx="1121.2" cy="55.4" r="3.47"/><circle cx="1128.9" cy="61.9" r="3.47"/><circle cx="1143.9" cy="67.6" r="3.47"/><circle cx="1150.2" cy="73.5" r="3.47"/><circle cx="1155.9" cy="79.0" r="3.47"/><circle cx="1160.8" cy="84.4" r="3.47"/><circle cx="1164.2" cy="89.6" r="3.47"/><circle cx="1168.3" cy="95.5" r="3.47"/><circle cx="1170.3" cy="100.7" r="3.47"/><circle cx="1172.5" cy="106.8" r="3.47"/><circle cx="1177.2" cy="112.4" r="3.47"/><circle cx="1183.1" cy="118.6" r="3.47"/><circle cx="1186.3" cy="124.4" r="3.47"/><circle cx="1187.8" cy="128.7" r="3.47"/><circle cx="1193.6" cy="135.1" r="3.47"/><circle cx="1196.7" cy="139.9" r="3.47"/><circle cx="1200.4" cy="146.8" r="3.47"/><circle cx="1205.6" cy="152.1" r="3.47"/><circle cx="1209.5" cy="157.4" r="3.47"/><circle cx="1211.3" cy="163.4" r="3.47"/><circle cx="1213.0" cy="168.3" r="3.47"/><circle cx="1215.6" cy="174.2" r="3.47"/><circle cx="1218.7" cy="180.2" r="3.47"/><circle cx="1223.0" cy="186.3" r="3.47"/><circle cx="1227.0" cy="191.8" r="3.47"/><circle cx="1230.4" cy="196.9" r="3.47"/><circle cx="1231.5" cy="203.3" r="3.47"/><circle cx="1234.4" cy="208.7" r="3.47"/><circle cx="1238.2" cy="214.8" r="3.47"/><circle cx="1243.1" cy="219.5" r="3.47"/><circle cx="1244.5" cy="225.2" r="3.47"/><circle cx="1246.9" cy="232.0" r="3.47"/><circle cx="1248.8" cy="236.6" r="3.47"/><circle cx="1250.0" cy="241.8" r="3.47"/><circle cx="1252.6" cy="248.2" r="3.47"/><circle cx="1254.2" cy="254.1" r="3.47"/><circle cx="1256.3" cy="259.8" r="3.47"/><circle cx="1258.5" cy="265.2" r="3.47"/><circle cx="1260.9" cy="270.5" r="3.47"/><circle cx="1262.8" cy="275.8" r="3.47"/><circle cx="1263.8" cy="282.7" r="3.47"/><circle cx="1266.1" cy="287.6" r="3.47"/><circle cx="1268.1" cy="293.4" r="3.47"/><circle cx="1269.9" cy="298.2" r="3.47"/><circle cx="1270.2" cy="303.8" r="3.47"/><circle cx="1271.9" cy="308.8" r="3.47"/><circle cx="1273.2" cy="313.9" r="3.47"/><circle cx="1273.6" cy="320.8" r="3.47"/><circle cx="1275.4" cy="326.3" r="3.47"/><circle cx="1276.0" cy="332.3" r="3.47"/><circle cx="1276.9" cy="338.1" r="3.47"/><circle cx="1278.6" cy="343.7" r="3.47"/><circle cx="1280.0" cy="348.6" r="3.47"/><circle cx="1281.2" cy="354.5" r="3.47"/><circle cx="1281.7" cy="360.3" r="3.47"/><circle cx="1283.2" cy="365.0" r="3.47"/><circle cx="1284.1" cy="370.1" r="3.47"/><circle cx="1285.5" cy="376.3" r="3.47"/><circle cx="1286.1" cy="381.3" r="3.47"/><circle cx="1287.8" cy="387.7" r="3.47"/><circle cx="1288.8" cy="393.3" r="3.47"/><circle cx="1290.0" cy="398.3" r="3.47"/><circle cx="1290.9" cy="404.7" r="3.47"/><circle cx="1292.8" cy="410.4" r="3.47"/><circle cx="1293.9" cy="415.9" r="3.47"/><circle cx="1295.6" cy="422.8" r="3.47"/><circle cx="1296.2" cy="427.8" r="3.47"/><circle cx="1297.9" cy="434.0" r="3.47"/><circle cx="1299.2" cy="439.6" r="3.47"/><circle cx="1300.2" cy="444.5" r="3.47"/><circle cx="1301.5" cy="451.4" r="3.47"/><circle cx="1302.8" cy="457.2" r="3.47"/><circle cx="1303.7" cy="462.5" r="3.47"/><circle cx="1304.3" cy="468.0" r="3.47"/><circle cx="1305.3" cy="474.1" r="3.47"/><circle cx="1307.1" cy="479.6" r="3.47"/><circle cx="1308.3" cy="485.8" r="3.47"/><circle cx="1310.0" cy="491.1" r="3.47"/><circle cx="1310.3" cy="496.4" r="3.47"/><circle cx="1311.7" cy="501.6" r="3.47"/><circle cx="1313.4" cy="508.0" r="3.47"/><circle cx="1314.7" cy="513.2" r="3.47"/><circle cx="1316.0" cy="519.0" r="3.47"/><circle cx="1317.1" cy="524.7" r="3.47"/><circle cx="1317.7" cy="530.4" r="3.47"/><circle cx="1318.6" cy="535.6" r="3.47"/><circle cx="1319.5" cy="541.2" r="3.47"/><circle cx="1320.0" cy="546.8" r="3.47"/><circle cx="1320.9" cy="551.5" r="3.47"/><circle cx="1322.2" cy="557.6" r="3.47"/><circle cx="1323.1" cy="562.9" r="3.47"/><circle cx="1324.0" cy="568.9" r="3.47"/><circle cx="1325.3" cy="574.7" r="3.47"/><circle cx="1326.0" cy="580.2" r="3.47"/><circle cx="1326.5" cy="585.2" r="3.47"/><circle cx="1327.7" cy="591.1" r="3.47"/><circle cx="1328.4" cy="597.3" r="3.47"/><circle cx="1329.1" cy="601.9" r="3.47"/><circle cx="1329.9" cy="608.0" r="3.47"/><circle cx="1329.7" cy="613.6" r="3.47"/><circle cx="1331.4" cy="619.3" r="3.47"/><circle cx="1331.9" cy="625.0" r="3.47"/><circle cx="1333.1" cy="630.3" r="3.47"/><circle cx="1334.1" cy="635.5" r="3.47"/><circle cx="1335.2" cy="641.4" r="3.47"/><circle cx="1336.7" cy="647.3" r="3.47"/><circle cx="1337.7" cy="652.7" r="3.47"/><circle cx="1338.8" cy="658.9" r="3.47"/><circle cx="1339.5" cy="664.7" r="3.47"/><circle cx="1340.1" cy="670.8" r="3.47"/><circle cx="1341.5" cy="675.6" r="3.47"/><circle cx="1342.5" cy="680.8" r="3.47"/><circle cx="1343.1" cy="686.3" r="3.47"/><circle cx="1344.1" cy="692.6" r="3.47"/><circle cx="1345.5" cy="698.5" r="3.47"/><circle cx="1345.5" cy="703.5" r="3.47"/><circle cx="1346.7" cy="710.4" r="3.47"/><circle cx="1347.5" cy="714.9" r="3.47"/><circle cx="1347.7" cy="720.8" r="3.47"/><circle cx="1348.0" cy="726.2" r="3.47"/><circle cx="1348.5" cy="731.8" r="3.47"/><circle cx="1349.8" cy="737.6" r="3.47"/><circle cx="1350.3" cy="743.1" r="3.47"/><circle cx="1350.7" cy="748.0" r="3.47"/><circle cx="1351.5" cy="754.0" r="3.47"/><circle cx="1352.7" cy="759.0" r="3.47"/><circle cx="1353.4" cy="765.3" r="3.47"/><circle cx="1354.3" cy="771.0" r="3.47"/><circle cx="1355.1" cy="776.5" r="3.47"/><circle cx="1356.0" cy="782.2" r="3.47"/><circle cx="1356.3" cy="788.0" r="3.47"/><circle cx="1356.9" cy="793.0" r="3.47"/><circle cx="1357.7" cy="799.1" r="3.47"/><circle cx="1358.4" cy="804.9" r="3.47"/><circle cx="1359.1" cy="811.0" r="3.47"/><circle cx="1097.6" cy="23.6" r="3.47"/><circle cx="1101.4" cy="28.6" r="3.47"/><circle cx="1106.0" cy="33.7" r="3.47"/></g>
<path d="M1113.0 22.0L1113.5 31.9L1116.0 41.9L1122.4 51.8L1138.0 61.8L1153.5 71.7L1162.0 81.7L1169.1 91.6L1174.8 101.6L1181.8 111.5L1192.0 121.5L1198.6 131.4L1203.5 141.4L1209.5 151.3L1214.1 161.3L1218.7 171.2L1224.8 181.2L1231.8 191.1L1235.4 201.1L1238.9 211.0L1245.6 221.0L1249.1 230.9L1252.7 240.9L1256.3 250.8L1259.0 260.8L1262.3 270.7L1265.7 280.7L1269.0 290.6L1271.5 300.6L1273.8 310.5L1276.1 320.5L1278.4 330.4L1280.8 340.4L1283.2 350.3L1285.6 360.3L1287.9 370.2L1290.1 380.2L1291.7 390.1L1293.4 400.1L1295.0 410.0L1296.8 420.0L1298.9 429.9L1300.9 439.9L1303.0 449.8L1305.1 459.8L1307.1 469.7L1309.2 479.7L1311.2 489.6L1313.3 499.6L1315.4 509.5L1317.3 519.5L1318.9 529.4L1320.6 539.4L1322.2 549.3L1323.9 559.3L1325.5 569.2L1327.0 579.2L1328.5 589.1L1330.0 599.1L1331.5 609.0L1333.1 619.0L1334.6 628.9L1336.1 638.9L1337.7 648.8L1339.2 658.8L1340.8 668.7L1342.3 678.7L1343.8 688.6L1345.4 698.6L1346.9 708.5L1348.4 718.5L1349.8 728.4L1351.2 738.4L1352.6 748.3L1354.0 758.3L1355.4 768.2L1356.7 778.2L1358.0 788.1L1359.3 798.1L1360.6 808.0" fill="none" stroke="#0000ff" stroke-width="2.7" stroke-linejoin="round" stroke-linecap="butt"/>
<g fill="#0000ff"><circle cx="1113.0" cy="22.0" r="6.08"/><circle cx="1113.5" cy="31.9" r="6.08"/><circle cx="1116.0" cy="41.9" r="6.08"/><circle cx="1122.4" cy="51.8" r="6.08"/><circle cx="1138.0" cy="61.8" r="6.08"/><circle cx="1153.5" cy="71.7" r="6.08"/><circle cx="1162.0" cy="81.7" r="6.08"/><circle cx="1169.1" cy="91.6" r="6.08"/><circle cx="1174.8" cy="101.6" r="6.08"/><circle cx="1181.8" cy="111.5" r="6.08"/><circle cx="1192.0" cy="121.5" r="6.08"/><circle cx="1198.6" cy="131.4" r="6.08"/><circle cx="1203.5" cy="141.4" r="6.08"/><circle cx="1209.5" cy="151.3" r="6.08"/><circle cx="1214.1" cy="161.3" r="6.08"/><circle cx="1218.7" cy="171.2" r="6.08"/><circle cx="1224.8" cy="181.2" r="6.08"/><circle cx="1231.8" cy="191.1" r="6.08"/><circle cx="1235.4" cy="201.1" r="6.08"/><circle cx="1238.9" cy="211.0" r="6.08"/><circle cx="1245.6" cy="221.0" r="6.08"/><circle cx="1249.1" cy="230.9" r="6.08"/><circle cx="1252.7" cy="240.9" r="6.08"/><circle cx="1256.3" cy="250.8" r="6.08"/><circle cx="1259.0" cy="260.8" r="6.08"/><circle cx="1262.3" cy="270.7" r="6.08"/><circle cx="1265.7" cy="280.7" r="6.08"/><circle cx="1269.0" cy="290.6" r="6.08"/><circle cx="1271.5" cy="300.6" r="6.08"/><circle cx="1273.8" cy="310.5" r="6.08"/><circle cx="1276.1" cy="320.5" r="6.08"/><circle cx="1278.4" cy="330.4" r="6.08"/><circle cx="1280.8" cy="340.4" r="6.08"/><circle cx="1283.2" cy="350.3" r="6.08"/><circle cx="1285.6" cy="360.3" r="6.08"/><circle cx="1287.9" cy="370.2" r="6.08"/><circle cx="1290.1" cy="380.2" r="6.08"/><circle cx="1291.7" cy="390.1" r="6.08"/><circle cx="1293.4" cy="400.1" r="6.08"/><circle cx="1295.0" cy="410.0" r="6.08"/><circle cx="1296.8" cy="420.0" r="6.08"/><circle cx="1298.9" cy="429.9" r="6.08"/><circle cx="1300.9" cy="439.9" r="6.08"/><circle cx="1303.0" cy="449.8" r="6.08"/><circle cx="1305.1" cy="459.8" r="6.08"/><circle cx="1307.1" cy="469.7" r="6.08"/><circle cx="1309.2" cy="479.7" r="6.08"/><circle cx="1311.2" cy="489.6" r="6.08"/><circle cx="1313.3" cy="499.6" r="6.08"/><circle cx="1315.4" cy="509.5" r="6.08"/><circle cx="1317.3" cy="519.5" r="6.08"/><circle cx="1318.9" cy="529.4" r="6.08"/><circle cx="1320.6" cy="539.4" r="6.08"/><circle cx="1322.2" cy="549.3" r="6.08"/><circle cx="1323.9" cy="559.3" r="6.08"/><circle cx="1325.5" cy="569.2" r="6.08"/><circle cx="1327.0" cy="579.2" r="6.08"/><circle cx="1328.5" cy="589.1" r="6.08"/><circle cx="1330.0" cy="599.1" r="6.08"/><circle cx="1331.5" cy="609.0" r="6.08"/><circle cx="1333.1" cy="619.0" r="6.08"/><circle cx="1334.6" cy="628.9" r="6.08"/><circle cx="1336.1" cy="638.9" r="6.08"/><circle cx="1337.7" cy="648.8" r="6.08"/><circle cx="1339.2" cy="658.8" r="6.08"/><circle cx="1340.8" cy="668.7" r="6.08"/><circle cx="1342.3" cy="678.7" r="6.08"/><circle cx="1343.8" cy="688.6" r="6.08"/><circle cx="1345.4" cy="698.6" r="6.08"/><circle cx="1346.9" cy="708.5" r="6.08"/><circle cx="1348.4" cy="718.5" r="6.08"/><circle cx="1349.8" cy="728.4" r="6.08"/><circle cx="1351.2" cy="738.4" r="6.08"/><circle cx="1352.6" cy="748.3" r="6.08"/><circle cx="1354.0" cy="758.3" r="6.08"/><circle cx="1355.4" cy="768.2" r="6.08"/><circle cx="1356.7" cy="778.2" r="6.08"/><circle cx="1358.0" cy="788.1" r="6.08"/><circle cx="1359.3" cy="798.1" r="6.08"/><circle cx="1360.6" cy="808.0" r="6.08"/></g>
<path d="M1116.0 19.0L1116.0 23.0L1115.9 27.0L1115.9 30.9L1115.8 34.9L1116.0 38.9L1116.4 42.9L1117.3 48.9L1121.8 54.3L1126.2 59.7L1138.5 65.0L1151.1 70.0L1158.2 74.9L1165.3 79.9L1170.3 84.9L1175.3 89.9L1180.3 94.8L1185.3 99.8L1189.3 104.8L1193.3 109.8L1196.8 114.7L1200.3 119.7L1202.2 124.7L1204.1 129.6L1206.0 134.6L1207.9 139.6L1210.8 144.6L1213.6 149.5L1216.4 154.5L1219.2 159.5L1221.7 164.5L1224.2 169.4L1226.7 174.4L1229.1 179.4L1231.6 184.4L1234.1 189.3L1236.6 194.3L1239.0 199.3L1241.4 204.3L1243.7 209.2L1246.0 214.2L1248.3 219.2L1250.7 223.9L1253.0 228.6L1255.3 233.4L1257.6 238.1L1259.9 242.9L1261.7 247.8L1263.5 252.8L1265.3 257.8L1267.1 262.8L1268.9 267.8L1270.1 272.7L1271.4 277.7L1272.7 282.7L1273.9 287.6L1275.2 292.6L1276.5 297.6L1277.7 302.6L1279.0 307.6L1280.3 312.5L1281.6 317.5L1282.4 322.5L1283.2 327.4L1284.0 332.4L1284.8 337.4L1285.6 342.4L1286.4 347.4L1287.2 352.3L1288.0 357.3L1288.8 362.3L1289.6 367.2L1290.4 372.2L1291.2 377.2L1292.0 382.2L1292.8 387.1L1293.6 392.1L1294.4 397.1L1295.2 402.1L1296.0 407.1L1296.8 412.0L1297.6 417.0L1298.6 422.0L1299.7 426.9L1300.7 431.9L1301.7 436.9L1302.8 441.9L1303.8 446.9L1304.9 451.8L1305.9 456.8L1307.0 461.8L1308.0 466.8L1309.1 471.7L1310.1 476.7L1311.2 481.7L1312.2 486.6L1313.2 491.6L1314.3 496.6L1315.3 501.6L1316.4 506.6L1317.4 511.5L1318.5 516.5L1319.3 521.5L1320.0 526.5L1320.8 531.4L1321.6 536.4L1322.4 541.4L1323.2 546.4L1324.0 551.3L1324.8 556.3L1325.5 561.3L1326.3 566.2L1327.1 571.2L1327.9 576.2L1328.7 581.2L1329.5 586.1L1330.3 591.1L1331.0 596.1L1331.8 601.1L1332.6 606.0L1333.4 611.0L1334.2 616.0L1335.0 621.0L1335.7 626.0L1336.5 630.9L1337.3 635.9L1338.1 640.9L1338.8 645.9L1339.6 650.8L1340.4 655.8L1341.2 660.8L1341.9 665.8L1342.7 670.7L1343.5 675.7L1344.3 680.7L1345.0 685.6L1345.8 690.6L1346.6 695.6L1347.4 700.6L1348.1 705.5L1348.9 710.5L1349.7 715.5L1350.4 720.5L1351.1 725.5L1351.9 730.4L1352.6 735.4L1353.3 740.4L1354.0 745.4L1354.7 750.3L1355.5 755.3L1356.2 760.3L1356.9 765.2L1357.6 770.2L1358.3 775.2L1359.1 780.2L1359.8 785.1L1360.5 790.1L1361.2 795.1L1361.9 800.1L1362.7 805.0L1363.4 810.0L1364.1 815.0M1116.1 19.0L1116.1 23.0L1116.1 27.0L1116.1 30.9L1116.0 34.9L1116.2 38.9L1116.7 42.9L1117.6 48.9L1122.3 54.1L1126.9 59.3L1139.4 64.5L1152.1 69.5L1159.2 74.4L1166.4 79.4L1171.4 84.4L1176.4 89.4L1181.4 94.3L1186.4 99.3L1190.4 104.3L1194.4 109.3L1197.9 114.2L1201.4 119.2L1203.3 124.2L1205.2 129.2L1207.1 134.1L1209.0 139.1L1211.8 144.1L1214.7 149.1L1217.5 154.0L1220.3 159.0L1222.8 164.0L1225.3 169.0L1227.7 173.9L1230.2 178.9L1232.7 183.9L1235.2 188.9L1237.6 193.8L1240.1 198.8L1242.4 203.8L1244.8 208.8L1247.1 213.7L1249.4 218.7L1251.5 223.5L1253.6 228.4L1255.7 233.2L1257.9 238.0L1259.9 242.9L1261.7 247.8L1263.5 252.8L1265.3 257.8L1267.1 262.8L1268.9 267.8L1270.2 272.7L1271.5 277.7L1272.7 282.7L1274.0 287.6L1275.3 292.6L1276.5 297.6L1277.8 302.6L1279.1 307.6L1280.3 312.5L1281.6 317.5L1282.4 322.5L1283.2 327.4L1284.0 332.4L1284.8 337.4L1285.6 342.4L1286.4 347.4L1287.2 352.3L1288.0 357.3L1288.8 362.3L1289.6 367.2L1290.4 372.2L1291.2 377.2L1292.0 382.2L1292.8 387.1L1293.6 392.1L1294.4 397.1L1295.2 402.1L1296.0 407.1L1296.8 412.0L1297.6 417.0L1298.7 422.0L1299.7 426.9L1300.8 431.9L1301.8 436.9L1302.8 441.9L1303.9 446.9L1304.9 451.8L1306.0 456.8L1307.0 461.8L1308.1 466.8L1309.1 471.7L1310.2 476.7L1311.2 481.7L1312.3 486.6L1313.3 491.6L1314.3 496.6L1315.4 501.6L1316.4 506.6L1317.5 511.5L1318.5 516.5L1319.3 521.5L1320.1 526.5L1320.9 531.4L1321.7 536.4L1322.5 541.4L1323.2 546.4L1324.0 551.3L1324.8 556.3L1325.6 561.3L1326.4 566.2L1327.2 571.2L1327.9 576.2L1328.7 581.2L1329.5 586.1L1330.3 591.1L1331.1 596.1L1331.9 601.1L1332.7 606.0L1333.4 611.0L1334.2 616.0L1335.0 621.0L1335.8 626.0L1336.6 630.9L1337.3 635.9L1338.1 640.9L1338.9 645.9L1339.7 650.8L1340.4 655.8L1341.2 660.8L1342.0 665.8L1342.8 670.7L1343.5 675.7L1344.3 680.7L1345.1 685.6L1345.9 690.6L1346.6 695.6L1347.4 700.6L1348.2 705.5L1349.0 710.5L1349.7 715.5L1350.5 720.5L1351.2 725.5L1351.9 730.4L1352.6 735.4L1353.3 740.4L1354.1 745.4L1354.8 750.3L1355.5 755.3L1356.2 760.3L1356.9 765.2L1357.7 770.2L1358.4 775.2L1359.1 780.2L1359.8 785.1L1360.5 790.1L1361.3 795.1L1362.0 800.1L1362.7 805.0L1363.4 810.0L1364.1 815.0M1116.2 19.0L1116.2 23.0L1116.2 27.0L1116.2 30.9L1116.2 34.9L1116.4 38.9L1116.9 42.9L1117.9 48.9L1122.8 53.9L1127.6 59.0L1140.3 64.0L1153.0 69.0L1160.2 74.0L1167.5 78.9L1172.5 83.9L1177.5 88.9L1182.5 93.9L1187.5 98.8L1191.5 103.8L1195.5 108.8L1199.0 113.8L1202.5 118.7L1204.4 123.7L1206.3 128.7L1208.2 133.7L1210.1 138.6L1212.9 143.6L1215.7 148.6L1218.5 153.6L1221.4 158.5L1223.8 163.5L1226.3 168.5L1228.8 173.5L1231.3 178.4L1233.7 183.4L1236.2 188.4L1238.7 193.4L1241.2 198.3L1243.5 203.3L1245.8 208.3L1248.1 213.3L1250.5 218.2L1252.4 223.2L1254.3 228.1L1256.2 233.0L1258.1 237.9L1260.0 242.9L1261.8 247.8L1263.6 252.8L1265.4 257.8L1267.2 262.8L1269.0 267.8L1270.2 272.7L1271.5 277.7L1272.8 282.7L1274.1 287.6L1275.3 292.6L1276.6 297.6L1277.9 302.6L1279.1 307.6L1280.4 312.5L1281.7 317.5L1282.5 322.5L1283.3 327.4L1284.1 332.4L1284.9 337.4L1285.7 342.4L1286.5 347.4L1287.3 352.3L1288.1 357.3L1288.9 362.3L1289.7 367.2L1290.5 372.2L1291.3 377.2L1292.1 382.2L1292.9 387.1L1293.7 392.1L1294.5 397.1L1295.3 402.1L1296.1 407.1L1296.9 412.0L1297.7 417.0L1298.7 422.0L1299.8 426.9L1300.8 431.9L1301.9 436.9L1302.9 441.9L1303.9 446.9L1305.0 451.8L1306.0 456.8L1307.1 461.8L1308.1 466.8L1309.2 471.7L1310.2 476.7L1311.3 481.7L1312.3 486.6L1313.3 491.6L1314.4 496.6L1315.4 501.6L1316.5 506.6L1317.5 511.5L1318.6 516.5L1319.4 521.5L1320.1 526.5L1320.9 531.4L1321.7 536.4L1322.5 541.4L1323.3 546.4L1324.1 551.3L1324.9 556.3L1325.6 561.3L1326.4 566.2L1327.2 571.2L1328.0 576.2L1328.8 581.2L1329.6 586.1L1330.4 591.1L1331.1 596.1L1331.9 601.1L1332.7 606.0L1333.5 611.0L1334.3 616.0L1335.1 621.0L1335.8 626.0L1336.6 630.9L1337.4 635.9L1338.2 640.9L1338.9 645.9L1339.7 650.8L1340.5 655.8L1341.3 660.8L1342.0 665.8L1342.8 670.7L1343.6 675.7L1344.4 680.7L1345.1 685.6L1345.9 690.6L1346.7 695.6L1347.5 700.6L1348.2 705.5L1349.0 710.5L1349.8 715.5L1350.5 720.5L1351.2 725.5L1351.9 730.4L1352.7 735.4L1353.4 740.4L1354.1 745.4L1354.8 750.3L1355.5 755.3L1356.3 760.3L1357.0 765.2L1357.7 770.2L1358.4 775.2L1359.1 780.2L1359.9 785.1L1360.6 790.1L1361.3 795.1L1362.0 800.1L1362.7 805.0L1363.5 810.0L1364.2 815.0M1116.3 19.0L1116.4 23.0L1116.4 27.0L1116.4 30.9L1116.4 34.9L1116.6 38.9L1117.1 42.9L1118.1 48.9L1123.2 53.7L1128.4 58.6L1141.2 63.5L1154.0 68.5L1161.3 73.5L1168.5 78.5L1173.5 83.4L1178.5 88.4L1183.5 93.4L1188.5 98.4L1192.5 103.3L1196.5 108.3L1200.0 113.3L1203.5 118.3L1205.4 123.2L1207.3 128.2L1209.2 133.2L1211.1 138.2L1214.0 143.1L1216.8 148.1L1219.6 153.1L1222.4 158.1L1224.9 163.0L1227.4 168.0L1229.9 173.0L1232.3 178.0L1234.8 182.9L1237.3 187.9L1239.8 192.9L1242.2 197.9L1244.6 202.8L1246.9 207.8L1249.2 212.8L1251.5 217.8L1253.2 222.8L1254.9 227.8L1256.6 232.8L1258.3 237.9L1260.0 242.9L1261.8 247.8L1263.6 252.8L1265.4 257.8L1267.2 262.8L1269.0 267.8L1270.3 272.7L1271.6 277.7L1272.8 282.7L1274.1 287.6L1275.4 292.6L1276.6 297.6L1277.9 302.6L1279.2 307.6L1280.5 312.5L1281.7 317.5L1282.5 322.5L1283.3 327.4L1284.1 332.4L1284.9 337.4L1285.7 342.4L1286.5 347.4L1287.3 352.3L1288.1 357.3L1288.9 362.3L1289.7 367.2L1290.5 372.2L1291.3 377.2L1292.1 382.2L1292.9 387.1L1293.7 392.1L1294.5 397.1L1295.3 402.1L1296.1 407.1L1296.9 412.0L1297.7 417.0L1298.8 422.0L1299.8 426.9L1300.9 431.9L1301.9 436.9L1303.0 441.9L1304.0 446.9L1305.0 451.8L1306.1 456.8L1307.1 461.8L1308.2 466.8L1309.2 471.7L1310.3 476.7L1311.3 481.7L1312.4 486.6L1313.4 491.6L1314.4 496.6L1315.5 501.6L1316.5 506.6L1317.6 511.5L1318.6 516.5L1319.4 521.5L1320.2 526.5L1321.0 531.4L1321.8 536.4L1322.5 541.4L1323.3 546.4L1324.1 551.3L1324.9 556.3L1325.7 561.3L1326.5 566.2L1327.3 571.2L1328.0 576.2L1328.8 581.2L1329.6 586.1L1330.4 591.1L1331.2 596.1L1332.0 601.1L1332.8 606.0L1333.5 611.0L1334.3 616.0L1335.1 621.0L1335.9 626.0L1336.6 630.9L1337.4 635.9L1338.2 640.9L1339.0 645.9L1339.7 650.8L1340.5 655.8L1341.3 660.8L1342.1 665.8L1342.8 670.7L1343.6 675.7L1344.4 680.7L1345.2 685.6L1345.9 690.6L1346.7 695.6L1347.5 700.6L1348.3 705.5L1349.0 710.5L1349.8 715.5L1350.5 720.5L1351.3 725.5L1352.0 730.4L1352.7 735.4L1353.4 740.4L1354.1 745.4L1354.9 750.3L1355.6 755.3L1356.3 760.3L1357.0 765.2L1357.7 770.2L1358.5 775.2L1359.2 780.2L1359.9 785.1L1360.6 790.1L1361.3 795.1L1362.1 800.1L1362.8 805.0L1363.5 810.0L1364.2 815.0M1116.5 19.0L1116.5 23.0L1116.5 27.0L1116.5 30.9L1116.6 34.9L1116.8 38.9L1117.3 42.9L1118.4 48.9L1123.7 53.6L1129.1 58.3L1142.1 63.1L1154.9 68.0L1162.3 73.0L1169.6 78.0L1174.6 83.0L1179.6 87.9L1184.6 92.9L1189.6 97.9L1193.6 102.9L1197.6 107.8L1201.1 112.8L1204.6 117.8L1206.5 122.8L1208.4 127.7L1210.3 132.7L1212.2 137.7L1215.0 142.7L1217.8 147.6L1220.7 152.6L1223.5 157.6L1226.0 162.6L1228.4 167.5L1230.9 172.5L1233.4 177.5L1235.9 182.5L1238.3 187.4L1240.8 192.4L1243.3 197.4L1245.6 202.4L1247.9 207.3L1250.3 212.3L1252.6 217.3L1254.1 222.4L1255.6 227.5L1257.1 232.7L1258.5 237.8L1260.1 242.9L1261.9 247.8L1263.7 252.8L1265.5 257.8L1267.3 262.8L1269.1 267.8L1270.4 272.7L1271.6 277.7L1272.9 282.7L1274.2 287.6L1275.4 292.6L1276.7 297.6L1278.0 302.6L1279.2 307.6L1280.5 312.5L1281.8 317.5L1282.6 322.5L1283.4 327.4L1284.2 332.4L1285.0 337.4L1285.8 342.4L1286.6 347.4L1287.4 352.3L1288.2 357.3L1289.0 362.3L1289.8 367.2L1290.6 372.2L1291.4 377.2L1292.2 382.2L1293.0 387.1L1293.8 392.1L1294.6 397.1L1295.4 402.1L1296.2 407.1L1297.0 412.0L1297.8 417.0L1298.8 422.0L1299.9 426.9L1300.9 431.9L1302.0 436.9L1303.0 441.9L1304.0 446.9L1305.1 451.8L1306.1 456.8L1307.2 461.8L1308.2 466.8L1309.3 471.7L1310.3 476.7L1311.4 481.7L1312.4 486.6L1313.5 491.6L1314.5 496.6L1315.5 501.6L1316.6 506.6L1317.6 511.5L1318.7 516.5L1319.5 521.5L1320.2 526.5L1321.0 531.4L1321.8 536.4L1322.6 541.4L1323.4 546.4L1324.2 551.3L1325.0 556.3L1325.7 561.3L1326.5 566.2L1327.3 571.2L1328.1 576.2L1328.9 581.2L1329.7 586.1L1330.4 591.1L1331.2 596.1L1332.0 601.1L1332.8 606.0L1333.6 611.0L1334.4 616.0L1335.1 621.0L1335.9 626.0L1336.7 630.9L1337.5 635.9L1338.2 640.9L1339.0 645.9L1339.8 650.8L1340.6 655.8L1341.3 660.8L1342.1 665.8L1342.9 670.7L1343.7 675.7L1344.4 680.7L1345.2 685.6L1346.0 690.6L1346.8 695.6L1347.5 700.6L1348.3 705.5L1349.1 710.5L1349.9 715.5L1350.6 720.5L1351.3 725.5L1352.0 730.4L1352.7 735.4L1353.5 740.4L1354.2 745.4L1354.9 750.3L1355.6 755.3L1356.3 760.3L1357.1 765.2L1357.8 770.2L1358.5 775.2L1359.2 780.2L1359.9 785.1L1360.7 790.1L1361.4 795.1L1362.1 800.1L1362.8 805.0L1363.5 810.0L1364.3 815.0M1116.5 19.0L1116.6 23.0L1116.7 27.0L1116.7 30.9L1116.8 34.9L1117.0 38.9L1117.6 42.9L1118.7 48.9L1124.2 53.4L1129.8 57.9L1143.0 62.6L1155.9 67.5L1163.3 72.5L1170.7 77.5L1175.7 82.5L1180.7 87.5L1185.7 92.4L1190.7 97.4L1194.7 102.4L1198.7 107.3L1202.2 112.3L1205.7 117.3L1207.6 122.3L1209.5 127.2L1211.3 132.2L1213.2 137.2L1216.1 142.2L1218.9 147.2L1221.7 152.1L1224.6 157.1L1227.0 162.1L1229.5 167.1L1232.0 172.0L1234.5 177.0L1236.9 182.0L1239.4 187.0L1241.9 191.9L1244.4 196.9L1246.7 201.9L1249.0 206.9L1251.3 211.8L1253.7 216.8L1254.9 222.0L1256.2 227.2L1257.5 232.5L1258.8 237.7L1260.1 242.9L1261.9 247.8L1263.7 252.8L1265.5 257.8L1267.3 262.8L1269.1 267.8L1270.4 272.7L1271.7 277.7L1273.0 282.7L1274.2 287.6L1275.5 292.6L1276.8 297.6L1278.0 302.6L1279.3 307.6L1280.6 312.5L1281.8 317.5L1282.6 322.5L1283.4 327.4L1284.2 332.4L1285.0 337.4L1285.8 342.4L1286.6 347.4L1287.4 352.3L1288.2 357.3L1289.0 362.3L1289.8 367.2L1290.6 372.2L1291.4 377.2L1292.2 382.2L1293.0 387.1L1293.8 392.1L1294.6 397.1L1295.4 402.1L1296.2 407.1L1297.0 412.0L1297.8 417.0L1298.9 422.0L1299.9 426.9L1301.0 431.9L1302.0 436.9L1303.1 441.9L1304.1 446.9L1305.1 451.8L1306.2 456.8L1307.2 461.8L1308.3 466.8L1309.3 471.7L1310.4 476.7L1311.4 481.7L1312.5 486.6L1313.5 491.6L1314.5 496.6L1315.6 501.6L1316.6 506.6L1317.7 511.5L1318.7 516.5L1319.5 521.5L1320.3 526.5L1321.1 531.4L1321.9 536.4L1322.6 541.4L1323.4 546.4L1324.2 551.3L1325.0 556.3L1325.8 561.3L1326.6 566.2L1327.4 571.2L1328.1 576.2L1328.9 581.2L1329.7 586.1L1330.5 591.1L1331.3 596.1L1332.1 601.1L1332.8 606.0L1333.6 611.0L1334.4 616.0L1335.2 621.0L1336.0 626.0L1336.7 630.9L1337.5 635.9L1338.3 640.9L1339.1 645.9L1339.8 650.8L1340.6 655.8L1341.4 660.8L1342.2 665.8L1342.9 670.7L1343.7 675.7L1344.5 680.7L1345.3 685.6L1346.0 690.6L1346.8 695.6L1347.6 700.6L1348.4 705.5L1349.1 710.5L1349.9 715.5L1350.6 720.5L1351.3 725.5L1352.1 730.4L1352.8 735.4L1353.5 740.4L1354.2 745.4L1354.9 750.3L1355.7 755.3L1356.4 760.3L1357.1 765.2L1357.8 770.2L1358.5 775.2L1359.3 780.2L1360.0 785.1L1360.7 790.1L1361.4 795.1L1362.1 800.1L1362.9 805.0L1363.6 810.0L1364.3 815.0" fill="none" stroke="#ff0000" stroke-width="2.7" stroke-linejoin="round"/>
<g fill="#ff0000"><circle cx="1116.3" cy="19.0" r="6.08"/><circle cx="1116.3" cy="23.0" r="6.08"/><circle cx="1116.3" cy="27.0" r="6.08"/><circle cx="1116.3" cy="30.9" r="6.08"/><circle cx="1116.3" cy="34.9" r="6.08"/><circle cx="1116.5" cy="38.9" r="6.08"/><circle cx="1117.0" cy="42.9" r="6.08"/><circle cx="1118.0" cy="48.9" r="6.08"/><circle cx="1128.0" cy="58.8" r="6.08"/><circle cx="1153.5" cy="68.8" r="6.08"/><circle cx="1168.0" cy="78.7" r="6.08"/><circle cx="1178.0" cy="88.7" r="6.08"/><circle cx="1188.0" cy="98.6" r="6.08"/><circle cx="1196.0" cy="108.5" r="6.08"/><circle cx="1203.0" cy="118.5" r="6.08"/><circle cx="1210.6" cy="138.4" r="6.08"/><circle cx="1221.9" cy="158.3" r="6.08"/><circle cx="1231.8" cy="178.2" r="6.08"/><circle cx="1241.7" cy="198.1" r="6.08"/><circle cx="1251.0" cy="218.0" r="6.08"/><circle cx="1269.0" cy="267.8" r="6.08"/><circle cx="1281.7" cy="317.5" r="6.08"/><circle cx="1297.7" cy="417.0" r="6.08"/><circle cx="1318.6" cy="516.5" r="6.08"/><circle cx="1334.3" cy="616.0" r="6.08"/><circle cx="1349.8" cy="715.5" r="6.08"/><circle cx="1364.2" cy="815.0" r="6.08"/></g>
<path d="M1108.0 19.0L1108.5 23.0L1110.0 27.0L1113.0 30.9L1120.0 34.9L1127.3 38.9L1136.5 42.9L1145.7 48.9L1155.6 58.8L1166.3 68.8L1174.0 78.7L1176.9 88.7L1181.8 98.6L1185.4 108.5L1187.5 118.5L1192.7 138.4L1201.4 158.3L1211.6 178.2L1221.2 198.1L1240.6 218.0L1262.2 267.8L1278.6 317.5L1301.2 417.0L1329.5 516.5L1345.5 616.0" fill="none" stroke="#008000" stroke-width="2.7" stroke-linejoin="round" stroke-linecap="butt"/>
<g fill="#008000"><circle cx="1108.0" cy="19.0" r="6.08"/><circle cx="1108.5" cy="23.0" r="6.08"/><circle cx="1110.0" cy="27.0" r="6.08"/><circle cx="1113.0" cy="30.9" r="6.08"/><circle cx="1120.0" cy="34.9" r="6.08"/><circle cx="1127.3" cy="38.9" r="6.08"/><circle cx="1136.5" cy="42.9" r="6.08"/><circle cx="1145.7" cy="48.9" r="6.08"/><circle cx="1155.6" cy="58.8" r="6.08"/><circle cx="1166.3" cy="68.8" r="6.08"/><circle cx="1174.0" cy="78.7" r="6.08"/><circle cx="1176.9" cy="88.7" r="6.08"/><circle cx="1181.8" cy="98.6" r="6.08"/><circle cx="1185.4" cy="108.5" r="6.08"/><circle cx="1187.5" cy="118.5" r="6.08"/><circle cx="1192.7" cy="138.4" r="6.08"/><circle cx="1201.4" cy="158.3" r="6.08"/><circle cx="1211.6" cy="178.2" r="6.08"/><circle cx="1221.2" cy="198.1" r="6.08"/><circle cx="1240.6" cy="218.0" r="6.08"/><circle cx="1262.2" cy="267.8" r="6.08"/><circle cx="1278.6" cy="317.5" r="6.08"/><circle cx="1301.2" cy="417.0" r="6.08"/><circle cx="1329.5" cy="516.5" r="6.08"/><circle cx="1345.5" cy="616.0" r="6.08"/></g>
<path d="M1111.0 20.0L1111.0 22.1L1111.0 24.3L1111.2 26.6L1111.5 29.1L1112.0 31.8L1112.5 34.8L1113.2 38.1L1114.0 41.7L1115.5 45.8L1117.4 50.5L1134.4 55.8L1150.4 62.0L1161.7 69.2L1171.5 77.6L1182.3 87.5L1192.5 99.3L1203.5 113.3L1214.6 130.0L1225.5 150.0L1236.4 173.9L1247.4 202.7L1258.4 237.4L1269.3 279.0L1280.3 329.1L1293.4 389.4L1305.5 461.7L1319.6 548.4L1335.6 652.1L1354.6 775.6" fill="none" stroke="#ff00ff" stroke-width="2.7" stroke-linejoin="round" stroke-linecap="butt"/>
<g fill="#ff00ff"><circle cx="1111.0" cy="20.0" r="6.08"/><circle cx="1111.0" cy="22.1" r="6.08"/><circle cx="1111.0" cy="24.3" r="6.08"/><circle cx="1111.2" cy="26.6" r="6.08"/><circle cx="1111.5" cy="29.1" r="6.08"/><circle cx="1112.0" cy="31.8" r="6.08"/><circle cx="1112.5" cy="34.8" r="6.08"/><circle cx="1113.2" cy="38.1" r="6.08"/><circle cx="1114.0" cy="41.7" r="6.08"/><circle cx="1115.5" cy="45.8" r="6.08"/><circle cx="1117.4" cy="50.5" r="6.08"/><circle cx="1134.4" cy="55.8" r="6.08"/><circle cx="1150.4" cy="62.0" r="6.08"/><circle cx="1161.7" cy="69.2" r="6.08"/><circle cx="1171.5" cy="77.6" r="6.08"/><circle cx="1182.3" cy="87.5" r="6.08"/><circle cx="1192.5" cy="99.3" r="6.08"/><circle cx="1203.5" cy="113.3" r="6.08"/><circle cx="1214.6" cy="130.0" r="6.08"/><circle cx="1225.5" cy="150.0" r="6.08"/><circle cx="1236.4" cy="173.9" r="6.08"/><circle cx="1247.4" cy="202.7" r="6.08"/><circle cx="1258.4" cy="237.4" r="6.08"/><circle cx="1269.3" cy="279.0" r="6.08"/><circle cx="1280.3" cy="329.1" r="6.08"/><circle cx="1293.4" cy="389.4" r="6.08"/><circle cx="1305.5" cy="461.7" r="6.08"/><circle cx="1319.6" cy="548.4" r="6.08"/><circle cx="1335.6" cy="652.1" r="6.08"/><circle cx="1354.6" cy="775.6" r="6.08"/></g>
</g>
<path d="M1072.5 19.5h-6.08M1072.5 68.5h-6.08M1072.5 118.5h-6.08M1072.5 168.5h-6.08M1072.5 218.5h-6.08M1072.5 267.5h-6.08M1072.5 317.5h-6.08M1072.5 367.5h-6.08M1072.5 417.5h-6.08M1072.5 466.5h-6.08M1072.5 516.5h-6.08M1072.5 566.5h-6.08M1072.5 616.5h-6.08M1072.5 665.5h-6.08M1072.5 715.5h-6.08M1072.5 765.5h-6.08M1133.5 814.5v6.08M1232.5 814.5v6.08M1331.5 814.5v6.08M1429.5 814.5v6.08" stroke="#000" stroke-width="1.39" fill="none"/>
<rect x="1072.5" y="19.5" width="402.0" height="795.0" fill="none" stroke="#000" stroke-width="1.39"/>
<text transform="translate(1132.8 851.0) rotate(-45)" text-anchor="middle" class="tk" dy="6">1024</text>
<text transform="translate(1231.8 851.0) rotate(-45)" text-anchor="middle" class="tk" dy="6">1026</text>
<text transform="translate(1330.8 851.0) rotate(-45)" text-anchor="middle" class="tk" dy="6">1028</text>
<text transform="translate(1428.8 851.0) rotate(-45)" text-anchor="middle" class="tk" dy="6">1030</text>
<text transform="translate(29.6 418.4) rotate(-90)" text-anchor="middle" class="lb">Depth (m)</text>
<text x="179" y="871.8" class="lb" style="letter-spacing:0.2px">Temperature (</text>
<text x="361.4" y="863.2" font-style="italic" font-size="15.6px">o</text>
<text x="371.5" y="871.8" font-style="italic" font-size="22.57px">C</text>
<text x="388.6" y="871.8" class="lb">)</text>
<text x="780.5" y="869.8" text-anchor="middle" class="lb">Salinity</text>
<text x="1272.5" y="895.8" text-anchor="middle" class="lb">Density (kg m-3)</text>
<text x="424" y="917.6" class="it" xml:space="preserve">Ocean Heat Content (kJ/cm^2) - Glider: N/A,  RTOFS: N/A,  ESPC: N/A,  CMEMS: N/A, </text>
<text x="1524" y="36.8" class="lb">Comparison Date: 2025-09-11</text>
<text x="1524" y="90.0" class="lb">Glider: sp036</text>
<text x="1524" y="116.6" class="lb">Profiles: 7</text>
<text x="1524" y="143.2" class="lb">First: 2025-09-11 00:44:15</text>
<text x="1524" y="169.8" class="lb">Last: 2025-09-11 19:30:45</text>
<text x="1524" y="196.4" class="lb">Method: Nearest-Neighbor</text>
<clipPath id="cm"><rect x="1594.7" y="258.4" width="341.7" height="315.8"/></clipPath>
<rect x="1594.7" y="258.4" width="341.7" height="315.8" fill="#97b6e1"/>
<g clip-path="url(#cm)">
<path d="M1697.3 258.2L1697.7 263.6L1700.0 268.2L1703.2 275.5L1707.3 282.8L1710.0 289.1L1712.8 295.5L1714.6 301.9L1719.1 304.6L1725.5 309.1L1731.0 314.6L1734.6 320.1L1735.3 325.5L1735.5 330.0L1728.2 329.1L1722.7 328.2L1720.9 323.6L1717.3 322.3L1720.0 326.4L1722.7 330.0L1726.4 332.7L1730.0 336.4L1734.6 339.1L1740.0 342.7L1744.6 340.9L1747.3 344.6L1751.0 347.3L1755.5 350.9L1758.2 355.5L1758.7 360.0L1757.3 364.6L1756.4 368.2L1759.1 371.0L1762.8 373.7L1767.3 375.5L1771.9 379.1L1776.4 382.8L1780.1 385.5L1781.9 390.1L1783.7 392.8L1787.4 391.0L1790.1 387.3L1788.3 383.7L1786.4 380.1L1784.6 375.5L1781.9 376.4L1778.3 376.4L1775.5 373.7L1775.5 370.0L1774.6 365.5L1772.8 361.9L1769.2 356.4L1767.3 351.8L1765.5 346.4L1761.9 342.7L1758.2 337.3L1753.7 331.8L1750.6 329.0L1749.2 325.5L1747.3 320.1L1743.7 316.4L1740.1 311.9L1736.4 306.4L1731.0 301.9L1728.2 297.3L1727.3 289.1L1725.0 280.9L1725.5 274.6L1729.1 276.4L1734.6 278.2L1736.4 276.8L1740.1 280.9L1745.5 282.3L1746.9 285.5L1747.3 290.9L1750.1 297.3L1752.8 303.7L1755.5 309.1L1757.3 313.7L1761.9 319.2L1766.4 323.6L1771.9 327.3L1776.4 328.2L1775.5 332.7L1777.3 336.4L1782.8 338.2L1784.6 341.8L1789.2 343.7L1791.9 347.3L1793.3 349.6L1790.1 351.8L1789.2 355.5L1791.0 357.3L1796.5 360.0L1801.9 362.8L1805.6 367.3L1807.4 371.0L1811.9 372.8L1816.5 377.3L1820.1 382.8L1824.7 387.3L1829.2 391.9L1832.8 396.4L1834.4 401.0L1834.6 403.6L1836.4 408.2L1839.1 410.9L1838.2 415.5L1835.5 418.2L1839.1 420.9L1838.2 422.8L1833.7 424.1L1834.6 428.2L1838.2 432.8L1841.9 437.3L1848.2 440.0L1853.7 443.7L1857.3 447.3L1860.1 451.0L1866.4 452.8L1871.9 454.1L1877.4 454.4L1881.0 457.7L1885.6 461.0L1891.0 463.7L1896.5 466.0L1901.9 469.0L1907.4 470.5L1914.7 471.9L1918.3 474.8L1923.0 476.3L1926.5 478.7L1933.5 479.8L1936.5 481.2L1940.0 481.2L1940.0 250.0L1697.3 250.0Z" fill="#d2b48c"/>
<path d="M1936.8 327.1L1934.6 331.0L1934.1 340.6L1934.4 350.2L1933.5 355.1L1930.6 360.8L1929.1 369.5L1928.3 381.1L1927.7 392.6L1927.1 399.4L1928.7 406.1L1931.0 411.9L1933.9 417.7L1936.8 424.4L1940.0 422.8L1940.0 323.5Z" fill="#97b6e1"/>
<path d="M1743.7 258.6L1738.0 260.5L1731.0 262.3L1729.6 259.1" fill="none" stroke="#97b6e1" stroke-width="1.6" stroke-linejoin="round" stroke-linecap="round"/>
<path d="M1727.6 262.0L1724.6 266.4L1721.4 270.9L1724.6 274.1" fill="none" stroke="#97b6e1" stroke-width="1.6" stroke-linejoin="round" stroke-linecap="round"/>
<path d="M1782.8 258.2L1787.4 260.9L1791.9 259.1" fill="none" stroke="#97b6e1" stroke-width="1.6" stroke-linejoin="round" stroke-linecap="round"/>
<path d="M1792.8 260.9L1796.5 263.6L1800.1 259.1" fill="none" stroke="#97b6e1" stroke-width="1.6" stroke-linejoin="round" stroke-linecap="round"/>
<path d="M1814.7 258.2L1815.6 262.7L1820.1 266.4L1821.9 272.3" fill="none" stroke="#97b6e1" stroke-width="1.6" stroke-linejoin="round" stroke-linecap="round"/>
<path d="M1821.9 272.7L1829.2 280.0L1842.0 290.0L1845.6 300.5L1848.4 305.4L1854.0 308.8L1861.6 313.0L1865.8 310.2L1868.6 304.0L1872.8 301.2L1883.3 302.9L1891.6 310.2L1896.5 320.7L1901.4 327.7L1906.3 331.9L1907.0 338.2L1910.5 345.1L1912.6 347.9L1922.3 352.1L1932.8 353.9" fill="none" stroke="#97b6e1" stroke-width="1.6" stroke-linejoin="round" stroke-linecap="round"/>
<path d="M1836.4 407.3L1839.1 406.8L1844.6 406.4L1849.2 411.8L1855.5 416.4L1860.1 415.9L1863.7 422.8L1868.3 425.0L1861.9 426.4" fill="none" stroke="#97b6e1" stroke-width="1.6" stroke-linejoin="round" stroke-linecap="round"/>
<path d="M1896.9 402.7L1903.7 407.7L1909.2 408.2L1916.5 404.6L1921.9 402.7L1926.5 400.9" fill="none" stroke="#97b6e1" stroke-width="1.6" stroke-linejoin="round" stroke-linecap="round"/>
<path d="M1840.0 407.0L1845.0 406.5L1848.0 412.0L1851.0 414.0L1855.0 415.0" fill="none" stroke="#97b6e1" stroke-width="1.6" stroke-linejoin="round" stroke-linecap="round"/>
<path d="M1917.0 258.8L1923.0 262.0L1928.0 268.0L1932.0 274.0L1935.6 280.0" fill="none" stroke="#97b6e1" stroke-width="1.6" stroke-linejoin="round" stroke-linecap="round"/>
<path d="M1892.0 258.6L1896.0 259.4L1900.0 258.6" fill="none" stroke="#97b6e1" stroke-width="1.6" stroke-linejoin="round" stroke-linecap="round"/>
<path d="M1755.0 259.0L1760.0 258.5" fill="none" stroke="#97b6e1" stroke-width="1.6" stroke-linejoin="round" stroke-linecap="round"/>
<path d="M1770.0 258.6L1776.0 259.0" fill="none" stroke="#97b6e1" stroke-width="1.6" stroke-linejoin="round" stroke-linecap="round"/>
<path d="M1793.7 258.2V281.6M1821.9 272.1H1865.6V258.2" fill="none" stroke="#000" stroke-width="1.5"/>
<path d="M1698.2 265.0L1727.3 261.8L1729.8 258.2" fill="none" stroke="#000" stroke-width="1.6" stroke-dasharray="5.6 2.4" stroke-linejoin="round"/>
<path d="M1726.4 265.0L1771.0 281.8L1793.7 281.8L1803.7 281.4L1804.7 275.5L1821.9 275.0" fill="none" stroke="#000" stroke-width="1.6" stroke-dasharray="5.6 2.4" stroke-linejoin="round"/>
<path d="M1821.9 272.7L1829.2 280.0L1842.0 290.0L1845.6 300.5L1848.4 305.4L1854.0 308.8L1861.6 313.0L1865.8 310.2L1868.6 304.0L1872.8 301.2L1883.3 302.9L1891.6 310.2L1896.5 320.7L1901.4 327.7L1906.3 331.9L1907.0 338.2L1910.5 345.1L1912.6 347.9L1922.3 352.1L1932.8 353.9" fill="none" stroke="#000" stroke-width="1.6" stroke-dasharray="5.6 2.4" stroke-linejoin="round"/>
<path d="M1697.3 258.2L1697.7 263.6L1700.0 268.2L1703.2 275.5L1707.3 282.8L1710.0 289.1L1712.8 295.5L1714.6 301.9L1719.1 304.6L1725.5 309.1L1731.0 314.6L1734.6 320.1L1735.3 325.5L1735.5 330.0L1728.2 329.1L1722.7 328.2L1720.9 323.6L1717.3 322.3L1720.0 326.4L1722.7 330.0L1726.4 332.7L1730.0 336.4L1734.6 339.1L1740.0 342.7L1744.6 340.9L1747.3 344.6L1751.0 347.3L1755.5 350.9L1758.2 355.5L1758.7 360.0L1757.3 364.6L1756.4 368.2L1759.1 371.0L1762.8 373.7L1767.3 375.5L1771.9 379.1L1776.4 382.8L1780.1 385.5L1781.9 390.1L1783.7 392.8L1787.4 391.0L1790.1 387.3L1788.3 383.7L1786.4 380.1L1784.6 375.5L1781.9 376.4L1778.3 376.4L1775.5 373.7L1775.5 370.0L1774.6 365.5L1772.8 361.9L1769.2 356.4L1767.3 351.8L1765.5 346.4L1761.9 342.7L1758.2 337.3L1753.7 331.8L1750.6 329.0L1749.2 325.5L1747.3 320.1L1743.7 316.4L1740.1 311.9L1736.4 306.4L1731.0 301.9L1728.2 297.3L1727.3 289.1L1725.0 280.9L1725.5 274.6L1729.1 276.4L1734.6 278.2L1736.4 276.8L1740.1 280.9L1745.5 282.3L1746.9 285.5L1747.3 290.9L1750.1 297.3L1752.8 303.7L1755.5 309.1L1757.3 313.7L1761.9 319.2L1766.4 323.6L1771.9 327.3L1776.4 328.2L1775.5 332.7L1777.3 336.4L1782.8 338.2L1784.6 341.8L1789.2 343.7L1791.9 347.3L1793.3 349.6L1790.1 351.8L1789.2 355.5L1791.0 357.3L1796.5 360.0L1801.9 362.8L1805.6 367.3L1807.4 371.0L1811.9 372.8L1816.5 377.3L1820.1 382.8L1824.7 387.3L1829.2 391.9L1832.8 396.4L1834.4 401.0L1834.6 403.6L1836.4 408.2L1839.1 410.9L1838.2 415.5L1835.5 418.2L1839.1 420.9L1838.2 422.8L1833.7 424.1L1834.6 428.2L1838.2 432.8L1841.9 437.3L1848.2 440.0L1853.7 443.7L1857.3 447.3L1860.1 451.0L1866.4 452.8L1871.9 454.1L1877.4 454.4L1881.0 457.7L1885.6 461.0L1891.0 463.7L1896.5 466.0L1901.9 469.0L1907.4 470.5L1914.7 471.9L1918.3 474.8L1923.0 476.3L1926.5 478.7L1933.5 479.8L1936.5 481.2" fill="none" stroke="#000" stroke-width="2.2" stroke-linejoin="round" stroke-linecap="round"/>
<path d="M1936.8 327.1L1934.6 331.0L1934.1 340.6L1934.4 350.2L1933.5 355.1L1930.6 360.8L1929.1 369.5L1928.3 381.1L1927.7 392.6L1927.1 399.4L1928.7 406.1L1931.0 411.9L1933.9 417.7L1936.8 424.4" fill="none" stroke="#000" stroke-width="2.2" stroke-linejoin="round" stroke-linecap="round"/>
<path d="M1935.6 323.8L1932.5 327.1L1929.6 329.0L1930.8 331.9L1927.3 334.8L1929.2 337.7L1930.4 341.6L1932.1 345.4L1933.1 349.3L1933.7 353.4" fill="none" stroke="#000" stroke-width="3.6" stroke-linejoin="round" stroke-linecap="round"/>
<path d="M1931 326L1928.2 328.4M1929.4 333L1926.4 335.4M1931.5 338L1928.6 339.6M1932.6 343L1930.4 344.6" fill="none" stroke="#000" stroke-width="2.2" stroke-linecap="round"/>
<path d="M1926.6 360.8L1930.4 359.2L1929.3 369.5L1928.0 380.5L1926.6 386L1926.0 375.3Z" fill="#4a5f80" stroke="#000" stroke-width="1.5" stroke-linejoin="round"/>
<path d="M1927.6 402.5L1929.6 406.5L1932.8 412.6L1933.2 415.4L1930.6 412L1928.2 407.6Z" fill="#000" stroke="#000" stroke-width="1.6" stroke-linejoin="round"/>
<g fill="#000" stroke="#000" stroke-linejoin="round" stroke-linecap="round"><path d="M1684.6 309.8L1685.6 311.5L1685.4 314.6L1684.8 314.2L1684.2 311.2Z" stroke-width="1.4"/><path d="M1718.3 321.8L1720.6 322.8L1721.6 325.6L1720.2 324.8Z" stroke-width="1.6"/><path d="M1740.6 304.8L1743.2 308.2L1745.2 312.6L1746 316L1743.6 313.6L1741.6 309.6Z" stroke-width="1.6"/><path d="M1749.6 327L1752 330.5L1753.6 334L1751.6 332Z" stroke-width="1.2"/><path d="M1821.6 406.6L1824 409.2L1826.8 412.6L1824.6 411.4L1822.2 408.6Z" stroke-width="1.6"/><path d="M1770.5 355.5L1771.6 357.5M1773.6 361L1774.4 362.6M1776.4 366L1777 367.6M1779 372.6L1779.6 374" fill="none" stroke-width="1.3"/><circle cx="1770.9" cy="443.6" r="1.3" stroke-width="0.8"/><circle cx="1771.9" cy="439.6" r="0.6" stroke-width="0.6"/><circle cx="1726.7" cy="449.4" r="0.8" stroke-width="0.7"/><circle cx="1756.8" cy="323.6" r="0.7" stroke-width="0.5" opacity="0.6"/><circle cx="1700" cy="266.8" r="0.7" stroke-width="0.5" opacity="0.6"/><circle cx="1791.9" cy="547.1" r="0.5" stroke-width="0.4" opacity="0.7"/></g>
<path d="M1753.6 311.2L1755.4 312L1755 314.6L1753.2 314.4Z" fill="#d2b48c" stroke="#000" stroke-width="1.2" stroke-linejoin="round"/>
<circle cx="1715" cy="366" r="1" fill="none" stroke="#6f7f99" stroke-width="0.6"/>
<circle cx="1681.8" cy="257.6" r="4.9" fill="#ff0000" stroke="#000" stroke-width="1.74"/>
</g>
<path d="M1594.7 258.4v-9.2M1594.7 574.2v9.2M1630.0 258.4v-9.2M1630.0 574.2v9.2M1665.3 258.4v-9.2M1665.3 574.2v9.2M1700.7 258.4v-9.2M1700.7 574.2v9.2M1736.0 258.4v-9.2M1736.0 574.2v9.2M1771.3 258.4v-9.2M1771.3 574.2v9.2M1806.6 258.4v-9.2M1806.6 574.2v9.2M1841.9 258.4v-9.2M1841.9 574.2v9.2M1877.2 258.4v-9.2M1877.2 574.2v9.2M1912.6 258.4v-9.2M1912.6 574.2v9.2M1594.7 562.9h-9.2M1936.4 562.9h9.2M1594.7 527.2h-9.2M1936.4 527.2h9.2M1594.7 491.1h-9.2M1936.4 491.1h9.2M1594.7 454.5h-9.2M1936.4 454.5h9.2M1594.7 417.3h-9.2M1936.4 417.3h9.2M1594.7 379.3h-9.2M1936.4 379.3h9.2M1594.7 340.4h-9.2M1936.4 340.4h9.2M1594.7 300.5h-9.2M1936.4 300.5h9.2M1594.7 258.4h-9.2M1936.4 258.4h9.2" stroke="#000" stroke-width="3.47" fill="none"/>
<path d="M1606.5 258.4v-3.5M1606.5 574.2v3.5M1618.2 258.4v-3.5M1618.2 574.2v3.5M1641.8 258.4v-3.5M1641.8 574.2v3.5M1653.6 258.4v-3.5M1653.6 574.2v3.5M1677.1 258.4v-3.5M1677.1 574.2v3.5M1688.9 258.4v-3.5M1688.9 574.2v3.5M1712.4 258.4v-3.5M1712.4 574.2v3.5M1724.2 258.4v-3.5M1724.2 574.2v3.5M1747.7 258.4v-3.5M1747.7 574.2v3.5M1759.5 258.4v-3.5M1759.5 574.2v3.5M1783.1 258.4v-3.5M1783.1 574.2v3.5M1794.8 258.4v-3.5M1794.8 574.2v3.5M1818.4 258.4v-3.5M1818.4 574.2v3.5M1830.1 258.4v-3.5M1830.1 574.2v3.5M1853.7 258.4v-3.5M1853.7 574.2v3.5M1865.5 258.4v-3.5M1865.5 574.2v3.5M1889.0 258.4v-3.5M1889.0 574.2v3.5M1900.8 258.4v-3.5M1900.8 574.2v3.5M1924.3 258.4v-3.5M1924.3 574.2v3.5M1936.1 258.4v-3.5M1936.1 574.2v3.5M1594.7 551.0h-3.5M1936.4 551.0h3.5M1594.7 539.1h-3.5M1936.4 539.1h3.5M1594.7 515.2h-3.5M1936.4 515.2h3.5M1594.7 503.2h-3.5M1936.4 503.2h3.5M1594.7 479.0h-3.5M1936.4 479.0h3.5M1594.7 466.8h-3.5M1936.4 466.8h3.5M1594.7 442.2h-3.5M1936.4 442.2h3.5M1594.7 429.8h-3.5M1936.4 429.8h3.5M1594.7 404.7h-3.5M1936.4 404.7h3.5M1594.7 392.1h-3.5M1936.4 392.1h3.5M1594.7 366.5h-3.5M1936.4 366.5h3.5M1594.7 353.5h-3.5M1936.4 353.5h3.5M1594.7 327.2h-3.5M1936.4 327.2h3.5M1594.7 313.9h-3.5M1936.4 313.9h3.5M1594.7 286.9h-3.5M1936.4 286.9h3.5M1594.7 273.2h-3.5M1936.4 273.2h3.5" stroke="#000" stroke-width="1.74" fill="none"/>
<path d="M1697.3 258.4H1594.7V574.2H1936.4V258.4" fill="none" stroke="#000" stroke-width="1.39" stroke-linecap="square"/>
<path d="M1697.3 258.09999999999997H1937.0" fill="none" stroke="#d2b48c" stroke-width="1.0"/>
<text x="1579.0" y="572.5" text-anchor="end" class="mp" font-size="22.3px">9°N</text>
<text x="1579.0" y="536.8" text-anchor="end" class="mp" font-size="22.3px">12°N</text>
<text x="1579.0" y="500.7" text-anchor="end" class="mp" font-size="22.3px">15°N</text>
<text x="1579.0" y="464.1" text-anchor="end" class="mp" font-size="22.3px">18°N</text>
<text x="1579.0" y="426.9" text-anchor="end" class="mp" font-size="22.3px">21°N</text>
<text x="1579.0" y="388.9" text-anchor="end" class="mp" font-size="22.3px">24°N</text>
<text x="1579.0" y="350.0" text-anchor="end" class="mp" font-size="22.3px">27°N</text>
<text x="1579.0" y="310.1" text-anchor="end" class="mp" font-size="22.3px">30°N</text>
<text x="1579.0" y="268.0" text-anchor="end" class="mp" font-size="22.3px">33°N</text>
<text transform="translate(1593.1 625.6) rotate(-45)" text-anchor="middle" class="mp" dy="8.2">126°W</text>
<text transform="translate(1628.4 625.6) rotate(-45)" text-anchor="middle" class="mp" dy="8.2">123°W</text>
<text transform="translate(1663.7 625.6) rotate(-45)" text-anchor="middle" class="mp" dy="8.2">120°W</text>
<text transform="translate(1699.1 625.6) rotate(-45)" text-anchor="middle" class="mp" dy="8.2">117°W</text>
<text transform="translate(1734.4 625.6) rotate(-45)" text-anchor="middle" class="mp" dy="8.2">114°W</text>
<text transform="translate(1769.7 625.6) rotate(-45)" text-anchor="middle" class="mp" dy="8.2">111°W</text>
<text transform="translate(1805.0 625.6) rotate(-45)" text-anchor="middle" class="mp" dy="8.2">108°W</text>
<text transform="translate(1840.3 625.6) rotate(-45)" text-anchor="middle" class="mp" dy="8.2">105°W</text>
<text transform="translate(1875.6 625.6) rotate(-45)" text-anchor="middle" class="mp" dy="8.2">102°W</text>
<text transform="translate(1911.0 620.4) rotate(-45)" text-anchor="middle" class="mp" dy="8.2">99°W</text>
<rect x="1683.4" y="663.3" width="164.6" height="143.6" rx="3.3" ry="3.3" fill="#fff" fill-opacity="0.8" stroke="#ccc" stroke-width="1.33"/>
<path d="M1691 683.5H1739" stroke="#0000ff" stroke-width="2.6" fill="none"/><circle cx="1714.5" cy="683.5" r="6.0" fill="#0000ff"/>
<text x="1755" y="691.3" class="lg">sp036</text>
<path d="M1691 717.5H1739" stroke="#ff0000" stroke-width="2.6" fill="none"/><circle cx="1714.5" cy="717.5" r="6.0" fill="#ff0000"/>
<text x="1755" y="725.3" class="lg">RTOFS</text>
<path d="M1691 751.5H1739" stroke="#008000" stroke-width="2.6" fill="none"/><circle cx="1714.5" cy="751.5" r="6.0" fill="#008000"/>
<text x="1755" y="759.3" class="lg">ESPC</text>
<path d="M1691 785.5H1739" stroke="#ff00ff" stroke-width="2.6" fill="none"/><circle cx="1714.5" cy="785.5" r="6.0" fill="#ff00ff"/>
<text x="1755" y="793.3" class="lg">CMEMS</text>
</svg>
</body></html>
